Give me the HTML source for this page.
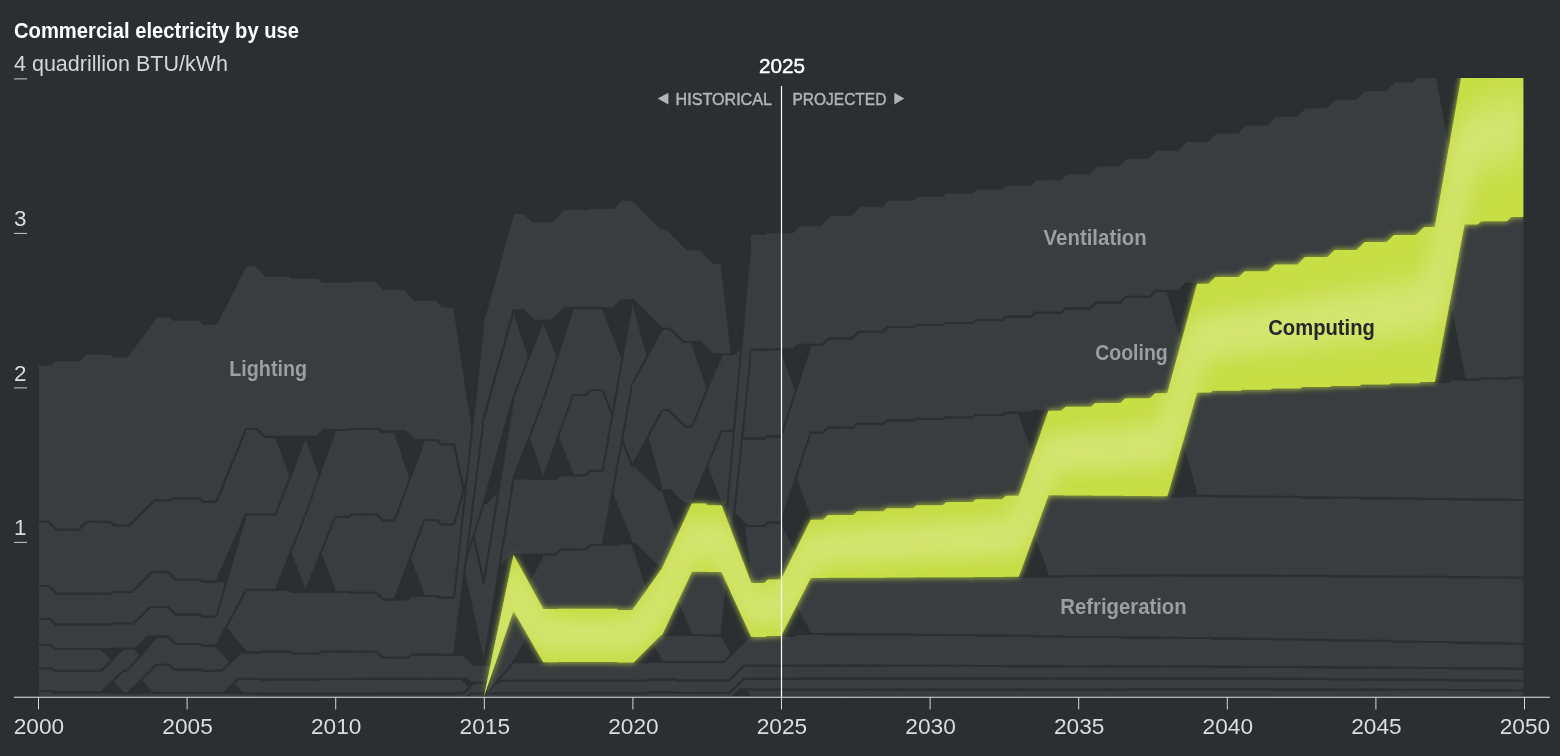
<!DOCTYPE html>
<html><head><meta charset="utf-8"><title>Commercial electricity by use</title>
<style>html,body{margin:0;padding:0;background:#2b2f32;overflow:hidden}svg text{font-kerning:normal}</style></head>
<body>
<svg width="1560" height="756" viewBox="0 0 1560 756" style="display:block">
<defs>
<clipPath id="cp"><rect x="38.8" y="78" width="1484.5" height="756"/></clipPath>
<filter id="glow" x="-5%" y="-5%" width="110%" height="110%"><feGaussianBlur stdDeviation="3"/></filter>
<filter id="soft" x="-5%" y="-10%" width="110%" height="120%"><feGaussianBlur stdDeviation="10"/></filter>
</defs>
<rect width="1560" height="756" fill="#2b2f32"/>
<g clip-path="url(#cp)">
<polygon points="38.00,691.00 52.21,691.00 53.51,692.30 67.72,692.30 68.32,692.30 68.32,697.00 67.72,697.00 38.00,697.00" fill="#393d40" shape-rendering="crispEdges"/>
<polyline points="38.00,691.00 52.21,691.00 53.51,692.30 67.72,692.30" fill="none" stroke="#2b2f32" stroke-width="2.15"/>
<polyline points="38.00,697.00 67.72,697.00" fill="none" stroke="#2b2f32" stroke-width="2.15"/>
<polygon points="38.00,668.20 51.61,668.20 54.11,670.70 67.72,670.70 68.32,670.70 68.32,692.30 67.72,692.30 53.51,692.30 52.21,691.00 38.00,691.00" fill="#393d40" shape-rendering="crispEdges"/>
<polyline points="38.00,668.20 51.61,668.20 54.11,670.70 67.72,670.70" fill="none" stroke="#2b2f32" stroke-width="2.15"/>
<polyline points="38.00,691.00 52.21,691.00 53.51,692.30 67.72,692.30" fill="none" stroke="#2b2f32" stroke-width="2.15"/>
<polygon points="38.00,644.80 50.76,644.80 54.96,649.00 67.72,649.00 68.32,649.00 68.32,670.70 67.72,670.70 54.11,670.70 51.61,668.20 38.00,668.20" fill="#393d40" shape-rendering="crispEdges"/>
<polyline points="38.00,644.80 50.76,644.80 54.96,649.00 67.72,649.00" fill="none" stroke="#2b2f32" stroke-width="2.15"/>
<polyline points="38.00,668.20 51.61,668.20 54.11,670.70 67.72,670.70" fill="none" stroke="#2b2f32" stroke-width="2.15"/>
<polygon points="38.00,618.70 50.06,618.70 55.66,624.30 67.72,624.30 68.32,624.30 68.32,649.00 67.72,649.00 54.96,649.00 50.76,644.80 38.00,644.80" fill="#393d40" shape-rendering="crispEdges"/>
<polyline points="38.00,618.70 50.06,618.70 55.66,624.30 67.72,624.30" fill="none" stroke="#2b2f32" stroke-width="2.15"/>
<polyline points="38.00,644.80 50.76,644.80 54.96,649.00 67.72,649.00" fill="none" stroke="#2b2f32" stroke-width="2.15"/>
<polygon points="38.00,586.00 49.11,586.00 56.61,593.50 67.72,593.50 68.32,593.50 68.32,624.30 67.72,624.30 55.66,624.30 50.06,618.70 38.00,618.70" fill="#393d40" shape-rendering="crispEdges"/>
<polyline points="38.00,586.00 49.11,586.00 56.61,593.50 67.72,593.50" fill="none" stroke="#2b2f32" stroke-width="2.15"/>
<polyline points="38.00,618.70 50.06,618.70 55.66,624.30 67.72,624.30" fill="none" stroke="#2b2f32" stroke-width="2.15"/>
<polygon points="38.00,521.75 48.86,521.75 56.86,529.75 67.72,529.75 68.32,529.75 68.32,593.50 67.72,593.50 56.61,593.50 49.11,586.00 38.00,586.00" fill="#393d40" shape-rendering="crispEdges"/>
<polyline points="38.00,521.75 48.86,521.75 56.86,529.75 67.72,529.75" fill="none" stroke="#2b2f32" stroke-width="2.15"/>
<polyline points="38.00,586.00 49.11,586.00 56.61,593.50 67.72,593.50" fill="none" stroke="#2b2f32" stroke-width="2.15"/>
<polygon points="38.00,364.55 50.61,364.55 55.11,360.05 67.72,360.05 68.32,360.05 68.32,529.75 67.72,529.75 56.86,529.75 48.86,521.75 38.00,521.75" fill="#393d40" shape-rendering="crispEdges"/>
<polyline points="38.00,364.55 50.61,364.55 55.11,360.05 67.72,360.05" fill="none" stroke="#2b2f32" stroke-width="2.15"/>
<polyline points="38.00,521.75 48.86,521.75 56.86,529.75 67.72,529.75" fill="none" stroke="#2b2f32" stroke-width="2.15"/>
<polygon points="67.72,692.30 97.44,692.30 98.04,692.30 98.04,697.00 97.44,697.00 67.72,697.00" fill="#393d40" shape-rendering="crispEdges"/>
<polyline points="67.72,692.30 97.44,692.30" fill="none" stroke="#2b2f32" stroke-width="2.15"/>
<polyline points="67.72,697.00 97.44,697.00" fill="none" stroke="#2b2f32" stroke-width="2.15"/>
<polygon points="67.72,670.70 97.44,670.70 98.04,670.70 98.04,692.30 97.44,692.30 67.72,692.30" fill="#393d40" shape-rendering="crispEdges"/>
<polyline points="67.72,670.70 97.44,670.70" fill="none" stroke="#2b2f32" stroke-width="2.15"/>
<polyline points="67.72,692.30 97.44,692.30" fill="none" stroke="#2b2f32" stroke-width="2.15"/>
<polygon points="67.72,649.00 97.44,649.00 98.04,649.00 98.04,670.70 97.44,670.70 67.72,670.70" fill="#393d40" shape-rendering="crispEdges"/>
<polyline points="67.72,649.00 97.44,649.00" fill="none" stroke="#2b2f32" stroke-width="2.15"/>
<polyline points="67.72,670.70 97.44,670.70" fill="none" stroke="#2b2f32" stroke-width="2.15"/>
<polygon points="67.72,624.30 97.44,624.30 98.04,624.30 98.04,649.00 97.44,649.00 67.72,649.00" fill="#393d40" shape-rendering="crispEdges"/>
<polyline points="67.72,624.30 97.44,624.30" fill="none" stroke="#2b2f32" stroke-width="2.15"/>
<polyline points="67.72,649.00 97.44,649.00" fill="none" stroke="#2b2f32" stroke-width="2.15"/>
<polygon points="67.72,593.50 97.44,593.50 98.04,593.50 98.04,624.30 97.44,624.30 67.72,624.30" fill="#393d40" shape-rendering="crispEdges"/>
<polyline points="67.72,593.50 97.44,593.50" fill="none" stroke="#2b2f32" stroke-width="2.15"/>
<polyline points="67.72,624.30 97.44,624.30" fill="none" stroke="#2b2f32" stroke-width="2.15"/>
<polygon points="67.72,529.75 78.58,529.75 86.58,521.75 97.44,521.75 98.04,521.75 98.04,593.50 97.44,593.50 67.72,593.50" fill="#393d40" shape-rendering="crispEdges"/>
<polyline points="67.72,529.75 78.58,529.75 86.58,521.75 97.44,521.75" fill="none" stroke="#2b2f32" stroke-width="2.15"/>
<polyline points="67.72,593.50 97.44,593.50" fill="none" stroke="#2b2f32" stroke-width="2.15"/>
<polygon points="67.72,360.05 79.45,360.05 85.70,353.80 97.44,353.80 98.04,353.80 98.04,521.75 97.44,521.75 86.58,521.75 78.58,529.75 67.72,529.75" fill="#393d40" shape-rendering="crispEdges"/>
<polyline points="67.72,360.05 79.45,360.05 85.70,353.80 97.44,353.80" fill="none" stroke="#2b2f32" stroke-width="2.15"/>
<polyline points="67.72,529.75 78.58,529.75 86.58,521.75 97.44,521.75" fill="none" stroke="#2b2f32" stroke-width="2.15"/>
<polygon points="97.44,692.30 111.85,692.30 112.75,693.20 127.16,693.20 127.76,693.20 127.76,697.00 127.16,697.00 97.44,697.00" fill="#393d40" shape-rendering="crispEdges"/>
<polyline points="97.44,692.30 111.85,692.30 112.75,693.20 127.16,693.20" fill="none" stroke="#2b2f32" stroke-width="2.15"/>
<polyline points="97.44,697.00 127.16,697.00" fill="none" stroke="#2b2f32" stroke-width="2.15"/>
<polygon points="97.44,649.00 101.45,649.00 123.15,670.70 127.16,670.70 127.76,670.70 127.76,693.20 127.16,693.20 123.55,693.20 101.05,670.70 97.44,670.70" fill="#393d40" shape-rendering="crispEdges"/>
<polyline points="97.44,649.00 101.45,649.00 123.15,670.70 127.16,670.70" fill="none" stroke="#2b2f32" stroke-width="2.15"/>
<polyline points="97.44,670.70 101.05,670.70 123.55,693.20 127.16,693.20" fill="none" stroke="#2b2f32" stroke-width="2.15"/>
<polygon points="97.44,670.70 101.20,670.70 123.40,648.50 127.16,648.50 127.76,648.50 127.76,670.70 127.16,670.70 123.10,670.70 101.50,692.30 97.44,692.30" fill="#393d40" shape-rendering="crispEdges"/>
<polyline points="97.44,670.70 101.20,670.70 123.40,648.50 127.16,648.50" fill="none" stroke="#2b2f32" stroke-width="2.15"/>
<polyline points="97.44,692.30 101.50,692.30 123.10,670.70 127.16,670.70" fill="none" stroke="#2b2f32" stroke-width="2.15"/>
<polygon points="97.44,624.30 111.75,624.30 112.85,623.20 127.16,623.20 127.76,623.20 127.76,648.50 127.16,648.50 112.55,648.50 112.05,649.00 97.44,649.00" fill="#393d40" shape-rendering="crispEdges"/>
<polyline points="97.44,624.30 111.75,624.30 112.85,623.20 127.16,623.20" fill="none" stroke="#2b2f32" stroke-width="2.15"/>
<polyline points="97.44,649.00 112.05,649.00 112.55,648.50 127.16,648.50" fill="none" stroke="#2b2f32" stroke-width="2.15"/>
<polygon points="97.44,593.50 111.55,593.50 113.05,592.00 127.16,592.00 127.76,592.00 127.76,623.20 127.16,623.20 112.85,623.20 111.75,624.30 97.44,624.30" fill="#393d40" shape-rendering="crispEdges"/>
<polyline points="97.44,593.50 111.55,593.50 113.05,592.00 127.16,592.00" fill="none" stroke="#2b2f32" stroke-width="2.15"/>
<polyline points="97.44,624.30 111.75,624.30 112.85,623.20 127.16,623.20" fill="none" stroke="#2b2f32" stroke-width="2.15"/>
<polygon points="97.44,521.75 110.55,521.75 114.05,525.25 127.16,525.25 127.76,525.25 127.76,592.00 127.16,592.00 113.05,592.00 111.55,593.50 97.44,593.50" fill="#393d40" shape-rendering="crispEdges"/>
<polyline points="97.44,521.75 110.55,521.75 114.05,525.25 127.16,525.25" fill="none" stroke="#2b2f32" stroke-width="2.15"/>
<polyline points="97.44,593.50 111.55,593.50 113.05,592.00 127.16,592.00" fill="none" stroke="#2b2f32" stroke-width="2.15"/>
<polygon points="97.44,353.80 111.05,353.80 113.55,356.30 127.16,356.30 127.76,356.30 127.76,525.25 127.16,525.25 114.05,525.25 110.55,521.75 97.44,521.75" fill="#393d40" shape-rendering="crispEdges"/>
<polyline points="97.44,353.80 111.05,353.80 113.55,356.30 127.16,356.30" fill="none" stroke="#2b2f32" stroke-width="2.15"/>
<polyline points="97.44,521.75 110.55,521.75 114.05,525.25 127.16,525.25" fill="none" stroke="#2b2f32" stroke-width="2.15"/>
<polygon points="127.16,693.20 141.77,693.20 142.27,692.70 156.88,692.70 157.48,692.70 157.48,697.00 156.88,697.00 127.16,697.00" fill="#393d40" shape-rendering="crispEdges"/>
<polyline points="127.16,693.20 141.77,693.20 142.27,692.70 156.88,692.70" fill="none" stroke="#2b2f32" stroke-width="2.15"/>
<polyline points="127.16,697.00 156.88,697.00" fill="none" stroke="#2b2f32" stroke-width="2.15"/>
<polygon points="127.16,648.50 133.92,648.50 150.12,664.70 156.88,664.70 157.48,664.70 157.48,692.70 156.88,692.70 153.02,692.70 131.02,670.70 127.16,670.70" fill="#393d40" shape-rendering="crispEdges"/>
<polyline points="127.16,648.50 133.92,648.50 150.12,664.70 156.88,664.70" fill="none" stroke="#2b2f32" stroke-width="2.15"/>
<polyline points="127.16,670.70 131.02,670.70 153.02,692.70 156.88,692.70" fill="none" stroke="#2b2f32" stroke-width="2.15"/>
<polygon points="127.16,670.70 127.16,670.70 156.88,636.50 156.88,636.50 157.48,636.50 157.48,664.70 156.88,664.70 156.27,664.70 127.77,693.20 127.16,693.20" fill="#393d40" shape-rendering="crispEdges"/>
<polyline points="127.16,670.70 127.16,670.70 156.88,636.50 156.88,636.50" fill="none" stroke="#2b2f32" stroke-width="2.15"/>
<polyline points="127.16,693.20 127.77,693.20 156.27,664.70 156.88,664.70" fill="none" stroke="#2b2f32" stroke-width="2.15"/>
<polygon points="127.16,623.20 133.92,623.20 150.12,607.00 156.88,607.00 157.48,607.00 157.48,636.50 156.88,636.50 148.02,636.50 136.02,648.50 127.16,648.50" fill="#393d40" shape-rendering="crispEdges"/>
<polyline points="127.16,623.20 133.92,623.20 150.12,607.00 156.88,607.00" fill="none" stroke="#2b2f32" stroke-width="2.15"/>
<polyline points="127.16,648.50 136.02,648.50 148.02,636.50 156.88,636.50" fill="none" stroke="#2b2f32" stroke-width="2.15"/>
<polygon points="127.16,592.00 131.89,592.00 152.14,571.75 156.88,571.75 157.48,571.75 157.48,607.00 156.88,607.00 150.12,607.00 133.92,623.20 127.16,623.20" fill="#393d40" shape-rendering="crispEdges"/>
<polyline points="127.16,592.00 131.89,592.00 152.14,571.75 156.88,571.75" fill="none" stroke="#2b2f32" stroke-width="2.15"/>
<polyline points="127.16,623.20 133.92,623.20 150.12,607.00 156.88,607.00" fill="none" stroke="#2b2f32" stroke-width="2.15"/>
<polygon points="127.16,525.25 129.52,525.25 154.52,500.25 156.88,500.25 157.48,500.25 157.48,571.75 156.88,571.75 152.14,571.75 131.89,592.00 127.16,592.00" fill="#393d40" shape-rendering="crispEdges"/>
<polyline points="127.16,525.25 129.52,525.25 154.52,500.25 156.88,500.25" fill="none" stroke="#2b2f32" stroke-width="2.15"/>
<polyline points="127.16,592.00 131.89,592.00 152.14,571.75 156.88,571.75" fill="none" stroke="#2b2f32" stroke-width="2.15"/>
<polygon points="127.16,356.30 127.16,356.30 156.88,316.30 156.88,316.30 157.48,316.30 157.48,500.25 156.88,500.25 154.52,500.25 129.52,525.25 127.16,525.25" fill="#393d40" shape-rendering="crispEdges"/>
<polyline points="127.16,356.30 127.16,356.30 156.88,316.30 156.88,316.30" fill="none" stroke="#2b2f32" stroke-width="2.15"/>
<polyline points="127.16,525.25 129.52,525.25 154.52,500.25 156.88,500.25" fill="none" stroke="#2b2f32" stroke-width="2.15"/>
<polygon points="156.88,692.70 186.60,692.70 187.20,692.70 187.20,697.00 186.60,697.00 156.88,697.00" fill="#393d40" shape-rendering="crispEdges"/>
<polyline points="156.88,692.70 186.60,692.70" fill="none" stroke="#2b2f32" stroke-width="2.15"/>
<polyline points="156.88,697.00 186.60,697.00" fill="none" stroke="#2b2f32" stroke-width="2.15"/>
<polygon points="156.88,664.70 169.44,664.70 174.04,669.30 186.60,669.30 187.20,669.30 187.20,692.70 186.60,692.70 156.88,692.70" fill="#393d40" shape-rendering="crispEdges"/>
<polyline points="156.88,664.70 169.44,664.70 174.04,669.30 186.60,669.30" fill="none" stroke="#2b2f32" stroke-width="2.15"/>
<polyline points="156.88,692.70 186.60,692.70" fill="none" stroke="#2b2f32" stroke-width="2.15"/>
<polygon points="156.88,636.50 167.99,636.50 175.49,644.00 186.60,644.00 187.20,644.00 187.20,669.30 186.60,669.30 174.04,669.30 169.44,664.70 156.88,664.70" fill="#393d40" shape-rendering="crispEdges"/>
<polyline points="156.88,636.50 167.99,636.50 175.49,644.00 186.60,644.00" fill="none" stroke="#2b2f32" stroke-width="2.15"/>
<polyline points="156.88,664.70 169.44,664.70 174.04,669.30 186.60,669.30" fill="none" stroke="#2b2f32" stroke-width="2.15"/>
<polygon points="156.88,607.00 167.99,607.00 175.49,614.50 186.60,614.50 187.20,614.50 187.20,644.00 186.60,644.00 175.49,644.00 167.99,636.50 156.88,636.50" fill="#393d40" shape-rendering="crispEdges"/>
<polyline points="156.88,607.00 167.99,607.00 175.49,614.50 186.60,614.50" fill="none" stroke="#2b2f32" stroke-width="2.15"/>
<polyline points="156.88,636.50 167.99,636.50 175.49,644.00 186.60,644.00" fill="none" stroke="#2b2f32" stroke-width="2.15"/>
<polygon points="156.88,571.75 167.72,571.75 175.76,579.80 186.60,579.80 187.20,579.80 187.20,614.50 186.60,614.50 175.49,614.50 167.99,607.00 156.88,607.00" fill="#393d40" shape-rendering="crispEdges"/>
<polyline points="156.88,571.75 167.72,571.75 175.76,579.80 186.60,579.80" fill="none" stroke="#2b2f32" stroke-width="2.15"/>
<polyline points="156.88,607.00 167.99,607.00 175.49,614.50 186.60,614.50" fill="none" stroke="#2b2f32" stroke-width="2.15"/>
<polygon points="156.88,500.25 170.87,500.25 172.62,498.50 186.60,498.50 187.20,498.50 187.20,579.80 186.60,579.80 175.76,579.80 167.72,571.75 156.88,571.75" fill="#393d40" shape-rendering="crispEdges"/>
<polyline points="156.88,500.25 170.87,500.25 172.62,498.50 186.60,498.50" fill="none" stroke="#2b2f32" stroke-width="2.15"/>
<polyline points="156.88,571.75 167.72,571.75 175.76,579.80 186.60,579.80" fill="none" stroke="#2b2f32" stroke-width="2.15"/>
<polygon points="156.88,316.30 170.12,316.30 173.37,319.55 186.60,319.55 187.20,319.55 187.20,498.50 186.60,498.50 172.62,498.50 170.87,500.25 156.88,500.25" fill="#393d40" shape-rendering="crispEdges"/>
<polyline points="156.88,316.30 170.12,316.30 173.37,319.55 186.60,319.55" fill="none" stroke="#2b2f32" stroke-width="2.15"/>
<polyline points="156.88,500.25 170.87,500.25 172.62,498.50 186.60,498.50" fill="none" stroke="#2b2f32" stroke-width="2.15"/>
<polygon points="186.60,692.70 216.32,692.70 216.92,692.70 216.92,697.00 216.32,697.00 186.60,697.00" fill="#393d40" shape-rendering="crispEdges"/>
<polyline points="186.60,692.70 216.32,692.70" fill="none" stroke="#2b2f32" stroke-width="2.15"/>
<polyline points="186.60,697.00 216.32,697.00" fill="none" stroke="#2b2f32" stroke-width="2.15"/>
<polygon points="186.60,669.30 200.76,669.30 202.16,670.70 216.32,670.70 216.92,670.70 216.92,692.70 216.32,692.70 186.60,692.70" fill="#393d40" shape-rendering="crispEdges"/>
<polyline points="186.60,669.30 200.76,669.30 202.16,670.70 216.32,670.70" fill="none" stroke="#2b2f32" stroke-width="2.15"/>
<polyline points="186.60,692.70 216.32,692.70" fill="none" stroke="#2b2f32" stroke-width="2.15"/>
<polygon points="186.60,644.00 200.61,644.00 202.31,645.70 216.32,645.70 216.92,645.70 216.92,670.70 216.32,670.70 202.16,670.70 200.76,669.30 186.60,669.30" fill="#393d40" shape-rendering="crispEdges"/>
<polyline points="186.60,644.00 200.61,644.00 202.31,645.70 216.32,645.70" fill="none" stroke="#2b2f32" stroke-width="2.15"/>
<polyline points="186.60,669.30 200.76,669.30 202.16,670.70 216.32,670.70" fill="none" stroke="#2b2f32" stroke-width="2.15"/>
<polygon points="186.60,614.50 200.46,614.50 202.46,616.50 216.32,616.50 216.92,616.50 216.92,645.70 216.32,645.70 202.31,645.70 200.61,644.00 186.60,644.00" fill="#393d40" shape-rendering="crispEdges"/>
<polyline points="186.60,614.50 200.46,614.50 202.46,616.50 216.32,616.50" fill="none" stroke="#2b2f32" stroke-width="2.15"/>
<polyline points="186.60,644.00 200.61,644.00 202.31,645.70 216.32,645.70" fill="none" stroke="#2b2f32" stroke-width="2.15"/>
<polygon points="186.60,579.80 200.61,579.80 202.31,581.50 216.32,581.50 216.92,581.50 216.92,616.50 216.32,616.50 202.46,616.50 200.46,614.50 186.60,614.50" fill="#393d40" shape-rendering="crispEdges"/>
<polyline points="186.60,579.80 200.61,579.80 202.31,581.50 216.32,581.50" fill="none" stroke="#2b2f32" stroke-width="2.15"/>
<polyline points="186.60,614.50 200.46,614.50 202.46,616.50 216.32,616.50" fill="none" stroke="#2b2f32" stroke-width="2.15"/>
<polygon points="186.60,498.50 199.83,498.50 203.08,501.75 216.32,501.75 216.92,501.75 216.92,581.50 216.32,581.50 202.31,581.50 200.61,579.80 186.60,579.80" fill="#393d40" shape-rendering="crispEdges"/>
<polyline points="186.60,498.50 199.83,498.50 203.08,501.75 216.32,501.75" fill="none" stroke="#2b2f32" stroke-width="2.15"/>
<polyline points="186.60,579.80 200.61,579.80 202.31,581.50 216.32,581.50" fill="none" stroke="#2b2f32" stroke-width="2.15"/>
<polygon points="186.60,319.55 199.33,319.55 203.58,323.80 216.32,323.80 216.92,323.80 216.92,501.75 216.32,501.75 203.08,501.75 199.83,498.50 186.60,498.50" fill="#393d40" shape-rendering="crispEdges"/>
<polyline points="186.60,319.55 199.33,319.55 203.58,323.80 216.32,323.80" fill="none" stroke="#2b2f32" stroke-width="2.15"/>
<polyline points="186.60,498.50 199.83,498.50 203.08,501.75 216.32,501.75" fill="none" stroke="#2b2f32" stroke-width="2.15"/>
<polygon points="216.32,692.70 230.93,692.70 231.43,693.20 246.04,693.20 246.64,693.20 246.64,697.00 246.04,697.00 216.32,697.00" fill="#393d40" shape-rendering="crispEdges"/>
<polyline points="216.32,692.70 230.93,692.70 231.43,693.20 246.04,693.20" fill="none" stroke="#2b2f32" stroke-width="2.15"/>
<polyline points="216.32,697.00 246.04,697.00" fill="none" stroke="#2b2f32" stroke-width="2.15"/>
<polygon points="216.32,645.70 216.32,645.70 246.04,678.70 246.04,678.70 246.64,678.70 246.64,693.20 246.04,693.20 242.43,693.20 219.93,670.70 216.32,670.70" fill="#393d40" shape-rendering="crispEdges"/>
<polyline points="216.32,645.70 216.32,645.70 246.04,678.70 246.04,678.70" fill="none" stroke="#2b2f32" stroke-width="2.15"/>
<polyline points="216.32,670.70 219.93,670.70 242.43,693.20 246.04,693.20" fill="none" stroke="#2b2f32" stroke-width="2.15"/>
<polygon points="216.32,670.70 221.98,670.70 240.38,652.30 246.04,652.30 246.64,652.30 246.64,678.70 246.04,678.70 238.18,678.70 224.18,692.70 216.32,692.70" fill="#393d40" shape-rendering="crispEdges"/>
<polyline points="216.32,670.70 221.98,670.70 240.38,652.30 246.04,652.30" fill="none" stroke="#2b2f32" stroke-width="2.15"/>
<polyline points="216.32,692.70 224.18,692.70 238.18,678.70 246.04,678.70" fill="none" stroke="#2b2f32" stroke-width="2.15"/>
<polygon points="216.32,581.50 227.03,581.50 235.33,589.80 246.04,589.80 246.64,589.80 246.64,652.30 246.04,652.30 246.04,652.30 216.32,616.50 216.32,616.50" fill="#393d40" shape-rendering="crispEdges"/>
<polyline points="216.32,581.50 227.03,581.50 235.33,589.80 246.04,589.80" fill="none" stroke="#2b2f32" stroke-width="2.15"/>
<polyline points="216.32,616.50 216.32,616.50 246.04,652.30 246.04,652.30" fill="none" stroke="#2b2f32" stroke-width="2.15"/>
<polygon points="216.32,616.50 216.32,616.50 246.04,514.25 246.04,514.25 246.64,514.25 246.64,589.80 246.04,589.80 246.04,589.80 216.32,645.70 216.32,645.70" fill="#393d40" shape-rendering="crispEdges"/>
<polyline points="216.32,616.50 216.32,616.50 246.04,514.25 246.04,514.25" fill="none" stroke="#2b2f32" stroke-width="2.15"/>
<polyline points="216.32,645.70 216.32,645.70 246.04,589.80 246.04,589.80" fill="none" stroke="#2b2f32" stroke-width="2.15"/>
<polygon points="216.32,501.75 216.32,501.75 246.04,429.00 246.04,429.00 246.64,429.00 246.64,514.25 246.04,514.25 246.04,514.25 216.32,581.50 216.32,581.50" fill="#393d40" shape-rendering="crispEdges"/>
<polyline points="216.32,501.75 216.32,501.75 246.04,429.00 246.04,429.00" fill="none" stroke="#2b2f32" stroke-width="2.15"/>
<polyline points="216.32,581.50 216.32,581.50 246.04,514.25 246.04,514.25" fill="none" stroke="#2b2f32" stroke-width="2.15"/>
<polygon points="216.32,323.80 216.32,323.80 246.04,265.05 246.04,265.05 246.64,265.05 246.64,429.00 246.04,429.00 246.04,429.00 216.32,501.75 216.32,501.75" fill="#393d40" shape-rendering="crispEdges"/>
<polyline points="216.32,323.80 216.32,323.80 246.04,265.05 246.04,265.05" fill="none" stroke="#2b2f32" stroke-width="2.15"/>
<polyline points="216.32,501.75 216.32,501.75 246.04,429.00 246.04,429.00" fill="none" stroke="#2b2f32" stroke-width="2.15"/>
<polygon points="246.04,693.20 260.65,693.20 261.15,693.70 275.76,693.70 276.36,693.70 276.36,697.00 275.76,697.00 246.04,697.00" fill="#393d40" shape-rendering="crispEdges"/>
<polyline points="246.04,693.20 260.65,693.20 261.15,693.70 275.76,693.70" fill="none" stroke="#2b2f32" stroke-width="2.15"/>
<polyline points="246.04,697.00 275.76,697.00" fill="none" stroke="#2b2f32" stroke-width="2.15"/>
<polygon points="246.04,678.70 260.60,678.70 261.20,679.30 275.76,679.30 276.36,679.30 276.36,693.70 275.76,693.70 261.15,693.70 260.65,693.20 246.04,693.20" fill="#393d40" shape-rendering="crispEdges"/>
<polyline points="246.04,678.70 260.60,678.70 261.20,679.30 275.76,679.30" fill="none" stroke="#2b2f32" stroke-width="2.15"/>
<polyline points="246.04,693.20 260.65,693.20 261.15,693.70 275.76,693.70" fill="none" stroke="#2b2f32" stroke-width="2.15"/>
<polygon points="246.04,652.30 260.50,652.30 261.30,651.50 275.76,651.50 276.36,651.50 276.36,679.30 275.76,679.30 261.20,679.30 260.60,678.70 246.04,678.70" fill="#393d40" shape-rendering="crispEdges"/>
<polyline points="246.04,652.30 260.50,652.30 261.30,651.50 275.76,651.50" fill="none" stroke="#2b2f32" stroke-width="2.15"/>
<polyline points="246.04,678.70 260.60,678.70 261.20,679.30 275.76,679.30" fill="none" stroke="#2b2f32" stroke-width="2.15"/>
<polygon points="246.04,589.80 275.76,589.80 276.36,589.80 276.36,651.50 275.76,651.50 261.30,651.50 260.50,652.30 246.04,652.30" fill="#393d40" shape-rendering="crispEdges"/>
<polyline points="246.04,589.80 275.76,589.80" fill="none" stroke="#2b2f32" stroke-width="2.15"/>
<polyline points="246.04,652.30 260.50,652.30 261.30,651.50 275.76,651.50" fill="none" stroke="#2b2f32" stroke-width="2.15"/>
<polygon points="246.04,514.25 260.88,514.25 260.92,514.20 275.76,514.20 276.36,514.20 276.36,589.80 275.76,589.80 246.04,589.80" fill="#393d40" shape-rendering="crispEdges"/>
<polyline points="246.04,514.25 260.88,514.25 260.92,514.20 275.76,514.20" fill="none" stroke="#2b2f32" stroke-width="2.15"/>
<polyline points="246.04,589.80 275.76,589.80" fill="none" stroke="#2b2f32" stroke-width="2.15"/>
<polygon points="246.04,429.00 257.05,429.00 264.75,436.70 275.76,436.70 276.36,436.70 276.36,514.20 275.76,514.20 260.92,514.20 260.88,514.25 246.04,514.25" fill="#393d40" shape-rendering="crispEdges"/>
<polyline points="246.04,429.00 257.05,429.00 264.75,436.70 275.76,436.70" fill="none" stroke="#2b2f32" stroke-width="2.15"/>
<polyline points="246.04,514.25 260.88,514.25 260.92,514.20 275.76,514.20" fill="none" stroke="#2b2f32" stroke-width="2.15"/>
<polygon points="246.04,265.05 255.52,265.05 266.27,275.80 275.76,275.80 276.36,275.80 276.36,436.70 275.76,436.70 264.75,436.70 257.05,429.00 246.04,429.00" fill="#393d40" shape-rendering="crispEdges"/>
<polyline points="246.04,265.05 255.52,265.05 266.27,275.80 275.76,275.80" fill="none" stroke="#2b2f32" stroke-width="2.15"/>
<polyline points="246.04,429.00 257.05,429.00 264.75,436.70 275.76,436.70" fill="none" stroke="#2b2f32" stroke-width="2.15"/>
<polygon points="275.76,693.70 305.48,693.70 306.08,693.70 306.08,697.00 305.48,697.00 275.76,697.00" fill="#393d40" shape-rendering="crispEdges"/>
<polyline points="275.76,693.70 305.48,693.70" fill="none" stroke="#2b2f32" stroke-width="2.15"/>
<polyline points="275.76,697.00 305.48,697.00" fill="none" stroke="#2b2f32" stroke-width="2.15"/>
<polygon points="275.76,679.30 305.48,679.30 306.08,679.30 306.08,693.70 305.48,693.70 275.76,693.70" fill="#393d40" shape-rendering="crispEdges"/>
<polyline points="275.76,679.30 305.48,679.30" fill="none" stroke="#2b2f32" stroke-width="2.15"/>
<polyline points="275.76,693.70 305.48,693.70" fill="none" stroke="#2b2f32" stroke-width="2.15"/>
<polygon points="275.76,651.50 289.77,651.50 291.47,653.20 305.48,653.20 306.08,653.20 306.08,679.30 305.48,679.30 275.76,679.30" fill="#393d40" shape-rendering="crispEdges"/>
<polyline points="275.76,651.50 289.77,651.50 291.47,653.20 305.48,653.20" fill="none" stroke="#2b2f32" stroke-width="2.15"/>
<polyline points="275.76,679.30 305.48,679.30" fill="none" stroke="#2b2f32" stroke-width="2.15"/>
<polygon points="275.76,589.80 289.52,589.80 291.72,592.00 305.48,592.00 306.08,592.00 306.08,653.20 305.48,653.20 291.47,653.20 289.77,651.50 275.76,651.50" fill="#393d40" shape-rendering="crispEdges"/>
<polyline points="275.76,589.80 289.52,589.80 291.72,592.00 305.48,592.00" fill="none" stroke="#2b2f32" stroke-width="2.15"/>
<polyline points="275.76,651.50 289.77,651.50 291.47,653.20 305.48,653.20" fill="none" stroke="#2b2f32" stroke-width="2.15"/>
<polygon points="275.76,436.70 275.76,436.70 305.48,514.70 305.48,514.70 306.08,514.70 306.08,592.00 305.48,592.00 305.48,592.00 275.76,514.20 275.76,514.20" fill="#393d40" shape-rendering="crispEdges"/>
<polyline points="275.76,436.70 275.76,436.70 305.48,514.70 305.48,514.70" fill="none" stroke="#2b2f32" stroke-width="2.15"/>
<polyline points="275.76,514.20 275.76,514.20 305.48,592.00 305.48,592.00" fill="none" stroke="#2b2f32" stroke-width="2.15"/>
<polygon points="275.76,514.20 275.76,514.20 305.48,436.70 305.48,436.70 306.08,436.70 306.08,514.70 305.48,514.70 305.48,514.70 275.76,589.80 275.76,589.80" fill="#393d40" shape-rendering="crispEdges"/>
<polyline points="275.76,514.20 275.76,514.20 305.48,436.70 305.48,436.70" fill="none" stroke="#2b2f32" stroke-width="2.15"/>
<polyline points="275.76,589.80 275.76,589.80 305.48,514.70 305.48,514.70" fill="none" stroke="#2b2f32" stroke-width="2.15"/>
<polygon points="275.76,275.80 289.75,275.80 291.50,277.55 305.48,277.55 306.08,277.55 306.08,436.70 305.48,436.70 275.76,436.70" fill="#393d40" shape-rendering="crispEdges"/>
<polyline points="275.76,275.80 289.75,275.80 291.50,277.55 305.48,277.55" fill="none" stroke="#2b2f32" stroke-width="2.15"/>
<polyline points="275.76,436.70 305.48,436.70" fill="none" stroke="#2b2f32" stroke-width="2.15"/>
<polygon points="305.48,693.70 335.20,693.70 335.80,693.70 335.80,697.00 335.20,697.00 305.48,697.00" fill="#393d40" shape-rendering="crispEdges"/>
<polyline points="305.48,693.70 335.20,693.70" fill="none" stroke="#2b2f32" stroke-width="2.15"/>
<polyline points="305.48,697.00 335.20,697.00" fill="none" stroke="#2b2f32" stroke-width="2.15"/>
<polygon points="305.48,679.30 320.19,679.30 320.49,679.00 335.20,679.00 335.80,679.00 335.80,693.70 335.20,693.70 305.48,693.70" fill="#393d40" shape-rendering="crispEdges"/>
<polyline points="305.48,679.30 320.19,679.30 320.49,679.00 335.20,679.00" fill="none" stroke="#2b2f32" stroke-width="2.15"/>
<polyline points="305.48,693.70 335.20,693.70" fill="none" stroke="#2b2f32" stroke-width="2.15"/>
<polygon points="305.48,653.20 319.49,653.20 321.19,651.50 335.20,651.50 335.80,651.50 335.80,679.00 335.20,679.00 320.49,679.00 320.19,679.30 305.48,679.30" fill="#393d40" shape-rendering="crispEdges"/>
<polyline points="305.48,653.20 319.49,653.20 321.19,651.50 335.20,651.50" fill="none" stroke="#2b2f32" stroke-width="2.15"/>
<polyline points="305.48,679.30 320.19,679.30 320.49,679.00 335.20,679.00" fill="none" stroke="#2b2f32" stroke-width="2.15"/>
<polygon points="305.48,592.00 335.20,592.00 335.80,592.00 335.80,651.50 335.20,651.50 321.19,651.50 319.49,653.20 305.48,653.20" fill="#393d40" shape-rendering="crispEdges"/>
<polyline points="305.48,592.00 335.20,592.00" fill="none" stroke="#2b2f32" stroke-width="2.15"/>
<polyline points="305.48,653.20 319.49,653.20 321.19,651.50 335.20,651.50" fill="none" stroke="#2b2f32" stroke-width="2.15"/>
<polygon points="305.48,436.70 305.48,436.70 335.20,516.70 335.20,516.70 335.80,516.70 335.80,592.00 335.20,592.00 335.20,592.00 305.48,514.70 305.48,514.70" fill="#393d40" shape-rendering="crispEdges"/>
<polyline points="305.48,436.70 305.48,436.70 335.20,516.70 335.20,516.70" fill="none" stroke="#2b2f32" stroke-width="2.15"/>
<polyline points="305.48,514.70 305.48,514.70 335.20,592.00 335.20,592.00" fill="none" stroke="#2b2f32" stroke-width="2.15"/>
<polygon points="305.48,514.70 305.48,514.70 335.20,430.00 335.20,430.00 335.80,430.00 335.80,516.70 335.20,516.70 335.20,516.70 305.48,592.00 305.48,592.00" fill="#393d40" shape-rendering="crispEdges"/>
<polyline points="305.48,514.70 305.48,514.70 335.20,430.00 335.20,430.00" fill="none" stroke="#2b2f32" stroke-width="2.15"/>
<polyline points="305.48,592.00 305.48,592.00 335.20,516.70 335.20,516.70" fill="none" stroke="#2b2f32" stroke-width="2.15"/>
<polygon points="305.48,277.55 318.22,277.55 322.47,281.80 335.20,281.80 335.80,281.80 335.80,430.00 335.20,430.00 323.69,430.00 316.99,436.70 305.48,436.70" fill="#393d40" shape-rendering="crispEdges"/>
<polyline points="305.48,277.55 318.22,277.55 322.47,281.80 335.20,281.80" fill="none" stroke="#2b2f32" stroke-width="2.15"/>
<polyline points="305.48,436.70 316.99,436.70 323.69,430.00 335.20,430.00" fill="none" stroke="#2b2f32" stroke-width="2.15"/>
<polygon points="335.20,693.70 364.92,693.70 365.52,693.70 365.52,697.00 364.92,697.00 335.20,697.00" fill="#393d40" shape-rendering="crispEdges"/>
<polyline points="335.20,693.70 364.92,693.70" fill="none" stroke="#2b2f32" stroke-width="2.15"/>
<polyline points="335.20,697.00 364.92,697.00" fill="none" stroke="#2b2f32" stroke-width="2.15"/>
<polygon points="335.20,679.00 349.91,679.00 350.21,678.70 364.92,678.70 365.52,678.70 365.52,693.70 364.92,693.70 335.20,693.70" fill="#393d40" shape-rendering="crispEdges"/>
<polyline points="335.20,679.00 349.91,679.00 350.21,678.70 364.92,678.70" fill="none" stroke="#2b2f32" stroke-width="2.15"/>
<polyline points="335.20,693.70 364.92,693.70" fill="none" stroke="#2b2f32" stroke-width="2.15"/>
<polygon points="335.20,651.50 349.91,651.50 350.21,651.80 364.92,651.80 365.52,651.80 365.52,678.70 364.92,678.70 350.21,678.70 349.91,679.00 335.20,679.00" fill="#393d40" shape-rendering="crispEdges"/>
<polyline points="335.20,651.50 349.91,651.50 350.21,651.80 364.92,651.80" fill="none" stroke="#2b2f32" stroke-width="2.15"/>
<polyline points="335.20,679.00 349.91,679.00 350.21,678.70 364.92,678.70" fill="none" stroke="#2b2f32" stroke-width="2.15"/>
<polygon points="335.20,592.00 349.71,592.00 350.41,592.70 364.92,592.70 365.52,592.70 365.52,651.80 364.92,651.80 350.21,651.80 349.91,651.50 335.20,651.50" fill="#393d40" shape-rendering="crispEdges"/>
<polyline points="335.20,592.00 349.71,592.00 350.41,592.70 364.92,592.70" fill="none" stroke="#2b2f32" stroke-width="2.15"/>
<polyline points="335.20,651.50 349.91,651.50 350.21,651.80 364.92,651.80" fill="none" stroke="#2b2f32" stroke-width="2.15"/>
<polygon points="335.20,516.70 348.81,516.70 351.31,514.20 364.92,514.20 365.52,514.20 365.52,592.70 364.92,592.70 350.41,592.70 349.71,592.00 335.20,592.00" fill="#393d40" shape-rendering="crispEdges"/>
<polyline points="335.20,516.70 348.81,516.70 351.31,514.20 364.92,514.20" fill="none" stroke="#2b2f32" stroke-width="2.15"/>
<polyline points="335.20,592.00 349.71,592.00 350.41,592.70 364.92,592.70" fill="none" stroke="#2b2f32" stroke-width="2.15"/>
<polygon points="335.20,430.00 349.41,430.00 350.71,428.70 364.92,428.70 365.52,428.70 365.52,514.20 364.92,514.20 351.31,514.20 348.81,516.70 335.20,516.70" fill="#393d40" shape-rendering="crispEdges"/>
<polyline points="335.20,430.00 349.41,430.00 350.71,428.70 364.92,428.70" fill="none" stroke="#2b2f32" stroke-width="2.15"/>
<polyline points="335.20,516.70 348.81,516.70 351.31,514.20 364.92,514.20" fill="none" stroke="#2b2f32" stroke-width="2.15"/>
<polygon points="335.20,281.80 349.56,281.80 350.56,280.80 364.92,280.80 365.52,280.80 365.52,428.70 364.92,428.70 350.71,428.70 349.41,430.00 335.20,430.00" fill="#393d40" shape-rendering="crispEdges"/>
<polyline points="335.20,281.80 349.56,281.80 350.56,280.80 364.92,280.80" fill="none" stroke="#2b2f32" stroke-width="2.15"/>
<polyline points="335.20,430.00 349.41,430.00 350.71,428.70 364.92,428.70" fill="none" stroke="#2b2f32" stroke-width="2.15"/>
<polygon points="364.92,693.70 379.58,693.70 379.98,693.30 394.64,693.30 395.24,693.30 395.24,697.00 394.64,697.00 364.92,697.00" fill="#393d40" shape-rendering="crispEdges"/>
<polyline points="364.92,693.70 379.58,693.70 379.98,693.30 394.64,693.30" fill="none" stroke="#2b2f32" stroke-width="2.15"/>
<polyline points="364.92,697.00 394.64,697.00" fill="none" stroke="#2b2f32" stroke-width="2.15"/>
<polygon points="364.92,678.70 394.64,678.70 395.24,678.70 395.24,693.30 394.64,693.30 379.98,693.30 379.58,693.70 364.92,693.70" fill="#393d40" shape-rendering="crispEdges"/>
<polyline points="364.92,678.70 394.64,678.70" fill="none" stroke="#2b2f32" stroke-width="2.15"/>
<polyline points="364.92,693.70 379.58,693.70 379.98,693.30 394.64,693.30" fill="none" stroke="#2b2f32" stroke-width="2.15"/>
<polygon points="364.92,651.80 376.78,651.80 382.78,657.80 394.64,657.80 395.24,657.80 395.24,678.70 394.64,678.70 364.92,678.70" fill="#393d40" shape-rendering="crispEdges"/>
<polyline points="364.92,651.80 376.78,651.80 382.78,657.80 394.64,657.80" fill="none" stroke="#2b2f32" stroke-width="2.15"/>
<polyline points="364.92,678.70 394.64,678.70" fill="none" stroke="#2b2f32" stroke-width="2.15"/>
<polygon points="364.92,592.70 376.48,592.70 383.08,599.30 394.64,599.30 395.24,599.30 395.24,657.80 394.64,657.80 382.78,657.80 376.78,651.80 364.92,651.80" fill="#393d40" shape-rendering="crispEdges"/>
<polyline points="364.92,592.70 376.48,592.70 383.08,599.30 394.64,599.30" fill="none" stroke="#2b2f32" stroke-width="2.15"/>
<polyline points="364.92,651.80 376.78,651.80 382.78,657.80 394.64,657.80" fill="none" stroke="#2b2f32" stroke-width="2.15"/>
<polygon points="364.92,514.20 376.73,514.20 382.83,520.30 394.64,520.30 395.24,520.30 395.24,599.30 394.64,599.30 383.08,599.30 376.48,592.70 364.92,592.70" fill="#393d40" shape-rendering="crispEdges"/>
<polyline points="364.92,514.20 376.73,514.20 382.83,520.30 394.64,520.30" fill="none" stroke="#2b2f32" stroke-width="2.15"/>
<polyline points="364.92,592.70 376.48,592.70 383.08,599.30 394.64,599.30" fill="none" stroke="#2b2f32" stroke-width="2.15"/>
<polygon points="364.92,428.70 378.48,428.70 381.08,431.30 394.64,431.30 395.24,431.30 395.24,520.30 394.64,520.30 382.83,520.30 376.73,514.20 364.92,514.20" fill="#393d40" shape-rendering="crispEdges"/>
<polyline points="364.92,428.70 378.48,428.70 381.08,431.30 394.64,431.30" fill="none" stroke="#2b2f32" stroke-width="2.15"/>
<polyline points="364.92,514.20 376.73,514.20 382.83,520.30 394.64,520.30" fill="none" stroke="#2b2f32" stroke-width="2.15"/>
<polygon points="364.92,280.80 375.78,280.80 383.78,288.80 394.64,288.80 395.24,288.80 395.24,431.30 394.64,431.30 381.08,431.30 378.48,428.70 364.92,428.70" fill="#393d40" shape-rendering="crispEdges"/>
<polyline points="364.92,280.80 375.78,280.80 383.78,288.80 394.64,288.80" fill="none" stroke="#2b2f32" stroke-width="2.15"/>
<polyline points="364.92,428.70 378.48,428.70 381.08,431.30 394.64,431.30" fill="none" stroke="#2b2f32" stroke-width="2.15"/>
<polygon points="394.64,693.30 424.36,693.30 424.96,693.30 424.96,697.00 424.36,697.00 394.64,697.00" fill="#393d40" shape-rendering="crispEdges"/>
<polyline points="394.64,693.30 424.36,693.30" fill="none" stroke="#2b2f32" stroke-width="2.15"/>
<polyline points="394.64,697.00 424.36,697.00" fill="none" stroke="#2b2f32" stroke-width="2.15"/>
<polygon points="394.64,678.70 424.36,678.70 424.96,678.70 424.96,693.30 424.36,693.30 394.64,693.30" fill="#393d40" shape-rendering="crispEdges"/>
<polyline points="394.64,678.70 424.36,678.70" fill="none" stroke="#2b2f32" stroke-width="2.15"/>
<polyline points="394.64,693.30 424.36,693.30" fill="none" stroke="#2b2f32" stroke-width="2.15"/>
<polygon points="394.64,657.80 407.75,657.80 411.25,654.30 424.36,654.30 424.96,654.30 424.96,678.70 424.36,678.70 394.64,678.70" fill="#393d40" shape-rendering="crispEdges"/>
<polyline points="394.64,657.80 407.75,657.80 411.25,654.30 424.36,654.30" fill="none" stroke="#2b2f32" stroke-width="2.15"/>
<polyline points="394.64,678.70 424.36,678.70" fill="none" stroke="#2b2f32" stroke-width="2.15"/>
<polygon points="394.64,599.30 407.85,599.30 411.15,596.00 424.36,596.00 424.96,596.00 424.96,654.30 424.36,654.30 411.25,654.30 407.75,657.80 394.64,657.80" fill="#393d40" shape-rendering="crispEdges"/>
<polyline points="394.64,599.30 407.85,599.30 411.15,596.00 424.36,596.00" fill="none" stroke="#2b2f32" stroke-width="2.15"/>
<polyline points="394.64,657.80 407.75,657.80 411.25,654.30 424.36,654.30" fill="none" stroke="#2b2f32" stroke-width="2.15"/>
<polygon points="394.64,431.30 394.64,431.30 424.36,520.00 424.36,520.00 424.96,520.00 424.96,596.00 424.36,596.00 424.36,596.00 394.64,520.30 394.64,520.30" fill="#393d40" shape-rendering="crispEdges"/>
<polyline points="394.64,431.30 394.64,431.30 424.36,520.00 424.36,520.00" fill="none" stroke="#2b2f32" stroke-width="2.15"/>
<polyline points="394.64,520.30 394.64,520.30 424.36,596.00 424.36,596.00" fill="none" stroke="#2b2f32" stroke-width="2.15"/>
<polygon points="394.64,520.30 394.64,520.30 424.36,440.00 424.36,440.00 424.96,440.00 424.96,520.00 424.36,520.00 424.36,520.00 394.64,599.30 394.64,599.30" fill="#393d40" shape-rendering="crispEdges"/>
<polyline points="394.64,520.30 394.64,520.30 424.36,440.00 424.36,440.00" fill="none" stroke="#2b2f32" stroke-width="2.15"/>
<polyline points="394.64,599.30 394.64,599.30 424.36,520.00 424.36,520.00" fill="none" stroke="#2b2f32" stroke-width="2.15"/>
<polygon points="394.64,288.80 404.00,288.80 415.00,299.80 424.36,299.80 424.96,299.80 424.96,440.00 424.36,440.00 413.85,440.00 405.15,431.30 394.64,431.30" fill="#393d40" shape-rendering="crispEdges"/>
<polyline points="394.64,288.80 404.00,288.80 415.00,299.80 424.36,299.80" fill="none" stroke="#2b2f32" stroke-width="2.15"/>
<polyline points="394.64,431.30 405.15,431.30 413.85,440.00 424.36,440.00" fill="none" stroke="#2b2f32" stroke-width="2.15"/>
<polygon points="424.36,693.30 454.08,693.30 454.68,693.30 454.68,697.00 454.08,697.00 424.36,697.00" fill="#393d40" shape-rendering="crispEdges"/>
<polyline points="424.36,693.30 454.08,693.30" fill="none" stroke="#2b2f32" stroke-width="2.15"/>
<polyline points="424.36,697.00 454.08,697.00" fill="none" stroke="#2b2f32" stroke-width="2.15"/>
<polygon points="424.36,678.70 454.08,678.70 454.68,678.70 454.68,693.30 454.08,693.30 424.36,693.30" fill="#393d40" shape-rendering="crispEdges"/>
<polyline points="424.36,678.70 454.08,678.70" fill="none" stroke="#2b2f32" stroke-width="2.15"/>
<polyline points="424.36,693.30 454.08,693.30" fill="none" stroke="#2b2f32" stroke-width="2.15"/>
<polygon points="424.36,654.30 438.97,654.30 439.47,654.80 454.08,654.80 454.68,654.80 454.68,678.70 454.08,678.70 424.36,678.70" fill="#393d40" shape-rendering="crispEdges"/>
<polyline points="424.36,654.30 438.97,654.30 439.47,654.80 454.08,654.80" fill="none" stroke="#2b2f32" stroke-width="2.15"/>
<polyline points="424.36,678.70 454.08,678.70" fill="none" stroke="#2b2f32" stroke-width="2.15"/>
<polygon points="424.36,596.00 438.37,596.00 440.07,597.70 454.08,597.70 454.68,597.70 454.68,654.80 454.08,654.80 439.47,654.80 438.97,654.30 424.36,654.30" fill="#393d40" shape-rendering="crispEdges"/>
<polyline points="424.36,596.00 438.37,596.00 440.07,597.70 454.08,597.70" fill="none" stroke="#2b2f32" stroke-width="2.15"/>
<polyline points="424.36,654.30 438.97,654.30 439.47,654.80 454.08,654.80" fill="none" stroke="#2b2f32" stroke-width="2.15"/>
<polygon points="424.36,520.00 437.12,520.00 441.32,524.20 454.08,524.20 454.68,524.20 454.68,597.70 454.08,597.70 440.07,597.70 438.37,596.00 424.36,596.00" fill="#393d40" shape-rendering="crispEdges"/>
<polyline points="424.36,520.00 437.12,520.00 441.32,524.20 454.08,524.20" fill="none" stroke="#2b2f32" stroke-width="2.15"/>
<polyline points="424.36,596.00 438.37,596.00 440.07,597.70 454.08,597.70" fill="none" stroke="#2b2f32" stroke-width="2.15"/>
<polygon points="424.36,440.00 437.12,440.00 441.32,444.20 454.08,444.20 454.68,444.20 454.68,524.20 454.08,524.20 441.32,524.20 437.12,520.00 424.36,520.00" fill="#393d40" shape-rendering="crispEdges"/>
<polyline points="424.36,440.00 437.12,440.00 441.32,444.20 454.08,444.20" fill="none" stroke="#2b2f32" stroke-width="2.15"/>
<polyline points="424.36,520.00 437.12,520.00 441.32,524.20 454.08,524.20" fill="none" stroke="#2b2f32" stroke-width="2.15"/>
<polygon points="424.36,299.80 435.87,299.80 442.57,306.50 454.08,306.50 454.68,306.50 454.68,444.20 454.08,444.20 441.32,444.20 437.12,440.00 424.36,440.00" fill="#393d40" shape-rendering="crispEdges"/>
<polyline points="424.36,299.80 435.87,299.80 442.57,306.50 454.08,306.50" fill="none" stroke="#2b2f32" stroke-width="2.15"/>
<polyline points="424.36,440.00 437.12,440.00 441.32,444.20 454.08,444.20" fill="none" stroke="#2b2f32" stroke-width="2.15"/>
<polygon points="454.08,678.70 461.69,678.70 476.19,693.20 483.80,693.20 484.40,693.20 484.40,697.00 483.80,697.00 470.79,697.00 467.09,693.30 454.08,693.30" fill="#393d40" shape-rendering="crispEdges"/>
<polyline points="454.08,678.70 461.69,678.70 476.19,693.20 483.80,693.20" fill="none" stroke="#2b2f32" stroke-width="2.15"/>
<polyline points="454.08,693.30 467.09,693.30 470.79,697.00 483.80,697.00" fill="none" stroke="#2b2f32" stroke-width="2.15"/>
<polygon points="454.08,693.30 463.64,693.30 474.24,682.70 483.80,682.70 484.40,682.70 484.40,693.20 483.80,693.20 470.84,693.20 467.04,697.00 454.08,697.00" fill="#393d40" shape-rendering="crispEdges"/>
<polyline points="454.08,693.30 463.64,693.30 474.24,682.70 483.80,682.70" fill="none" stroke="#2b2f32" stroke-width="2.15"/>
<polyline points="454.08,697.00 467.04,697.00 470.84,693.20 483.80,693.20" fill="none" stroke="#2b2f32" stroke-width="2.15"/>
<polygon points="454.08,654.80 463.94,654.80 473.94,664.80 483.80,664.80 484.40,664.80 484.40,682.70 483.80,682.70 470.94,682.70 466.94,678.70 454.08,678.70" fill="#393d40" shape-rendering="crispEdges"/>
<polyline points="454.08,654.80 463.94,654.80 473.94,664.80 483.80,664.80" fill="none" stroke="#2b2f32" stroke-width="2.15"/>
<polyline points="454.08,678.70 466.94,678.70 470.94,682.70 483.80,682.70" fill="none" stroke="#2b2f32" stroke-width="2.15"/>
<polygon points="454.08,444.20 454.08,444.20 483.80,583.00 483.80,583.00 484.40,583.00 484.40,664.80 483.80,664.80 483.80,664.80 454.08,524.20 454.08,524.20" fill="#393d40" shape-rendering="crispEdges"/>
<polyline points="454.08,444.20 454.08,444.20 483.80,583.00 483.80,583.00" fill="none" stroke="#2b2f32" stroke-width="2.15"/>
<polyline points="454.08,524.20 454.08,524.20 483.80,664.80 483.80,664.80" fill="none" stroke="#2b2f32" stroke-width="2.15"/>
<polygon points="454.08,306.50 454.08,306.50 483.80,503.00 483.80,503.00 484.40,503.00 484.40,583.00 483.80,583.00 483.80,583.00 454.08,444.20 454.08,444.20" fill="#393d40" shape-rendering="crispEdges"/>
<polyline points="454.08,306.50 454.08,306.50 483.80,503.00 483.80,503.00" fill="none" stroke="#2b2f32" stroke-width="2.15"/>
<polyline points="454.08,444.20 454.08,444.20 483.80,583.00 483.80,583.00" fill="none" stroke="#2b2f32" stroke-width="2.15"/>
<polygon points="454.08,524.20 454.08,524.20 483.80,418.50 483.80,418.50 484.40,418.50 484.40,503.00 483.80,503.00 483.80,503.00 454.08,597.70 454.08,597.70" fill="#393d40" shape-rendering="crispEdges"/>
<polyline points="454.08,524.20 454.08,524.20 483.80,418.50 483.80,418.50" fill="none" stroke="#2b2f32" stroke-width="2.15"/>
<polyline points="454.08,597.70 454.08,597.70 483.80,503.00 483.80,503.00" fill="none" stroke="#2b2f32" stroke-width="2.15"/>
<polygon points="454.08,597.70 454.08,597.70 483.80,319.20 483.80,319.20 484.40,319.20 484.40,418.50 483.80,418.50 483.80,418.50 454.08,654.80 454.08,654.80" fill="#393d40" shape-rendering="crispEdges"/>
<polyline points="454.08,597.70 454.08,597.70 483.80,319.20 483.80,319.20" fill="none" stroke="#2b2f32" stroke-width="2.15"/>
<polyline points="454.08,654.80 454.08,654.80 483.80,418.50 483.80,418.50" fill="none" stroke="#2b2f32" stroke-width="2.15"/>
<polygon points="483.80,693.20 513.52,693.20 514.12,693.20 514.12,697.00 513.52,697.00 483.80,697.00" fill="#393d40" shape-rendering="crispEdges"/>
<polyline points="483.80,693.20 513.52,693.20" fill="none" stroke="#2b2f32" stroke-width="2.15"/>
<polyline points="483.80,697.00 513.52,697.00" fill="none" stroke="#2b2f32" stroke-width="2.15"/>
<polygon points="483.80,682.70 497.66,682.70 499.66,680.70 513.52,680.70 514.12,680.70 514.12,693.20 513.52,693.20 483.80,693.20" fill="#393d40" shape-rendering="crispEdges"/>
<polyline points="483.80,682.70 497.66,682.70 499.66,680.70 513.52,680.70" fill="none" stroke="#2b2f32" stroke-width="2.15"/>
<polyline points="483.80,693.20 513.52,693.20" fill="none" stroke="#2b2f32" stroke-width="2.15"/>
<polygon points="483.80,664.80 497.41,664.80 499.91,662.30 513.52,662.30 514.12,662.30 514.12,680.70 513.52,680.70 499.66,680.70 497.66,682.70 483.80,682.70" fill="#393d40" shape-rendering="crispEdges"/>
<polyline points="483.80,664.80 497.41,664.80 499.91,662.30 513.52,662.30" fill="none" stroke="#2b2f32" stroke-width="2.15"/>
<polyline points="483.80,682.70 497.66,682.70 499.66,680.70 513.52,680.70" fill="none" stroke="#2b2f32" stroke-width="2.15"/>
<polygon points="483.80,697.00 483.80,697.00 513.52,610.70 513.52,610.70 514.12,610.70 514.12,662.30 513.52,662.30 513.52,662.30 483.80,697.00 483.80,697.00" fill="#393d40" shape-rendering="crispEdges"/>
<polyline points="483.80,697.00 483.80,697.00 513.52,610.70 513.52,610.70" fill="none" stroke="#2b2f32" stroke-width="2.15"/>
<polyline points="483.80,697.00 483.80,697.00 513.52,662.30 513.52,662.30" fill="none" stroke="#2b2f32" stroke-width="2.15"/>
<polygon points="483.80,503.00 486.41,503.00 510.91,478.50 513.52,478.50 514.12,478.50 514.12,554.80 513.52,554.80 512.76,554.80 484.56,583.00 483.80,583.00" fill="#393d40" shape-rendering="crispEdges"/>
<polyline points="483.80,503.00 486.41,503.00 510.91,478.50 513.52,478.50" fill="none" stroke="#2b2f32" stroke-width="2.15"/>
<polyline points="483.80,583.00 484.56,583.00 512.76,554.80 513.52,554.80" fill="none" stroke="#2b2f32" stroke-width="2.15"/>
<polygon points="483.80,583.00 483.80,583.00 513.52,396.70 513.52,396.70 514.12,396.70 514.12,478.50 513.52,478.50 513.52,478.50 483.80,664.80 483.80,664.80" fill="#393d40" shape-rendering="crispEdges"/>
<polyline points="483.80,583.00 483.80,583.00 513.52,396.70 513.52,396.70" fill="none" stroke="#2b2f32" stroke-width="2.15"/>
<polyline points="483.80,664.80 483.80,664.80 513.52,478.50 513.52,478.50" fill="none" stroke="#2b2f32" stroke-width="2.15"/>
<polygon points="483.80,418.50 483.80,418.50 513.52,310.00 513.52,310.00 514.12,310.00 514.12,396.70 513.52,396.70 513.52,396.70 483.80,503.00 483.80,503.00" fill="#393d40" shape-rendering="crispEdges"/>
<polyline points="483.80,418.50 483.80,418.50 513.52,310.00 513.52,310.00" fill="none" stroke="#2b2f32" stroke-width="2.15"/>
<polyline points="483.80,503.00 483.80,503.00 513.52,396.70 513.52,396.70" fill="none" stroke="#2b2f32" stroke-width="2.15"/>
<polygon points="483.80,319.20 483.80,319.20 513.52,212.80 513.52,212.80 514.12,212.80 514.12,310.00 513.52,310.00 513.52,310.00 483.80,418.50 483.80,418.50" fill="#393d40" shape-rendering="crispEdges"/>
<polyline points="483.80,319.20 483.80,319.20 513.52,212.80 513.52,212.80" fill="none" stroke="#2b2f32" stroke-width="2.15"/>
<polyline points="483.80,418.50 483.80,418.50 513.52,310.00 513.52,310.00" fill="none" stroke="#2b2f32" stroke-width="2.15"/>
<polygon points="513.52,693.20 543.24,693.20 543.84,693.20 543.84,697.00 543.24,697.00 513.52,697.00" fill="#393d40" shape-rendering="crispEdges"/>
<polyline points="513.52,693.20 543.24,693.20" fill="none" stroke="#2b2f32" stroke-width="2.15"/>
<polyline points="513.52,697.00 543.24,697.00" fill="none" stroke="#2b2f32" stroke-width="2.15"/>
<polygon points="513.52,680.70 543.24,680.70 543.84,680.70 543.84,693.20 543.24,693.20 513.52,693.20" fill="#393d40" shape-rendering="crispEdges"/>
<polyline points="513.52,680.70 543.24,680.70" fill="none" stroke="#2b2f32" stroke-width="2.15"/>
<polyline points="513.52,693.20 543.24,693.20" fill="none" stroke="#2b2f32" stroke-width="2.15"/>
<polygon points="513.52,662.30 543.24,662.30 543.84,662.30 543.84,680.70 543.24,680.70 513.52,680.70" fill="#393d40" shape-rendering="crispEdges"/>
<polyline points="513.52,662.30 543.24,662.30" fill="none" stroke="#2b2f32" stroke-width="2.15"/>
<polyline points="513.52,680.70 543.24,680.70" fill="none" stroke="#2b2f32" stroke-width="2.15"/>
<polygon points="513.52,610.70 513.52,610.70 543.24,554.50 543.24,554.50 543.84,554.50 543.84,609.00 543.24,609.00 543.24,609.00 513.52,662.30 513.52,662.30" fill="#393d40" shape-rendering="crispEdges"/>
<polyline points="513.52,610.70 513.52,610.70 543.24,554.50 543.24,554.50" fill="none" stroke="#2b2f32" stroke-width="2.15"/>
<polyline points="513.52,662.30 513.52,662.30 543.24,609.00 543.24,609.00" fill="none" stroke="#2b2f32" stroke-width="2.15"/>
<polygon points="513.52,478.50 528.13,478.50 528.63,479.00 543.24,479.00 543.84,479.00 543.84,554.50 543.24,554.50 528.53,554.50 528.23,554.80 513.52,554.80" fill="#393d40" shape-rendering="crispEdges"/>
<polyline points="513.52,478.50 528.13,478.50 528.63,479.00 543.24,479.00" fill="none" stroke="#2b2f32" stroke-width="2.15"/>
<polyline points="513.52,554.80 528.23,554.80 528.53,554.50 543.24,554.50" fill="none" stroke="#2b2f32" stroke-width="2.15"/>
<polygon points="513.52,310.00 513.52,310.00 543.24,400.80 543.24,400.80 543.84,400.80 543.84,479.00 543.24,479.00 543.24,479.00 513.52,396.70 513.52,396.70" fill="#393d40" shape-rendering="crispEdges"/>
<polyline points="513.52,310.00 513.52,310.00 543.24,400.80 543.24,400.80" fill="none" stroke="#2b2f32" stroke-width="2.15"/>
<polyline points="513.52,396.70 513.52,396.70 543.24,479.00 543.24,479.00" fill="none" stroke="#2b2f32" stroke-width="2.15"/>
<polygon points="513.52,396.70 513.52,396.70 543.24,320.80 543.24,320.80 543.84,320.80 543.84,400.80 543.24,400.80 543.24,400.80 513.52,478.50 513.52,478.50" fill="#393d40" shape-rendering="crispEdges"/>
<polyline points="513.52,396.70 513.52,396.70 543.24,320.80 543.24,320.80" fill="none" stroke="#2b2f32" stroke-width="2.15"/>
<polyline points="513.52,478.50 513.52,478.50 543.24,400.80 543.24,400.80" fill="none" stroke="#2b2f32" stroke-width="2.15"/>
<polygon points="513.52,212.80 524.03,212.80 532.73,221.50 543.24,221.50 543.84,221.50 543.84,320.80 543.24,320.80 533.78,320.80 522.98,310.00 513.52,310.00" fill="#393d40" shape-rendering="crispEdges"/>
<polyline points="513.52,212.80 524.03,212.80 532.73,221.50 543.24,221.50" fill="none" stroke="#2b2f32" stroke-width="2.15"/>
<polyline points="513.52,310.00 522.98,310.00 533.78,320.80 543.24,320.80" fill="none" stroke="#2b2f32" stroke-width="2.15"/>
<polygon points="543.24,693.20 572.96,693.20 573.56,693.20 573.56,697.00 572.96,697.00 543.24,697.00" fill="#393d40" shape-rendering="crispEdges"/>
<polyline points="543.24,693.20 572.96,693.20" fill="none" stroke="#2b2f32" stroke-width="2.15"/>
<polyline points="543.24,697.00 572.96,697.00" fill="none" stroke="#2b2f32" stroke-width="2.15"/>
<polygon points="543.24,680.70 572.96,680.70 573.56,680.70 573.56,693.20 572.96,693.20 543.24,693.20" fill="#393d40" shape-rendering="crispEdges"/>
<polyline points="543.24,680.70 572.96,680.70" fill="none" stroke="#2b2f32" stroke-width="2.15"/>
<polyline points="543.24,693.20 572.96,693.20" fill="none" stroke="#2b2f32" stroke-width="2.15"/>
<polygon points="543.24,662.30 557.95,662.30 558.25,662.00 572.96,662.00 573.56,662.00 573.56,680.70 572.96,680.70 543.24,680.70" fill="#393d40" shape-rendering="crispEdges"/>
<polyline points="543.24,662.30 557.95,662.30 558.25,662.00 572.96,662.00" fill="none" stroke="#2b2f32" stroke-width="2.15"/>
<polyline points="543.24,680.70 572.96,680.70" fill="none" stroke="#2b2f32" stroke-width="2.15"/>
<polygon points="543.24,554.50 555.45,554.50 560.75,549.20 572.96,549.20 573.56,549.20 573.56,608.70 572.96,608.70 558.25,608.70 557.95,609.00 543.24,609.00" fill="#393d40" shape-rendering="crispEdges"/>
<polyline points="543.24,554.50 555.45,554.50 560.75,549.20 572.96,549.20" fill="none" stroke="#2b2f32" stroke-width="2.15"/>
<polyline points="543.24,609.00 557.95,609.00 558.25,608.70 572.96,608.70" fill="none" stroke="#2b2f32" stroke-width="2.15"/>
<polygon points="543.24,479.00 556.20,479.00 560.00,475.20 572.96,475.20 573.56,475.20 573.56,549.20 572.96,549.20 560.75,549.20 555.45,554.50 543.24,554.50" fill="#393d40" shape-rendering="crispEdges"/>
<polyline points="543.24,479.00 556.20,479.00 560.00,475.20 572.96,475.20" fill="none" stroke="#2b2f32" stroke-width="2.15"/>
<polyline points="543.24,554.50 555.45,554.50 560.75,549.20 572.96,549.20" fill="none" stroke="#2b2f32" stroke-width="2.15"/>
<polygon points="543.24,320.80 543.24,320.80 572.96,395.00 572.96,395.00 573.56,395.00 573.56,475.20 572.96,475.20 572.96,475.20 543.24,400.80 543.24,400.80" fill="#393d40" shape-rendering="crispEdges"/>
<polyline points="543.24,320.80 543.24,320.80 572.96,395.00 572.96,395.00" fill="none" stroke="#2b2f32" stroke-width="2.15"/>
<polyline points="543.24,400.80 543.24,400.80 572.96,475.20 572.96,475.20" fill="none" stroke="#2b2f32" stroke-width="2.15"/>
<polygon points="543.24,400.80 543.24,400.80 572.96,308.00 572.96,308.00 573.56,308.00 573.56,395.00 572.96,395.00 572.96,395.00 543.24,479.00 543.24,479.00" fill="#393d40" shape-rendering="crispEdges"/>
<polyline points="543.24,400.80 543.24,400.80 572.96,308.00 572.96,308.00" fill="none" stroke="#2b2f32" stroke-width="2.15"/>
<polyline points="543.24,479.00 543.24,479.00 572.96,395.00 572.96,395.00" fill="none" stroke="#2b2f32" stroke-width="2.15"/>
<polygon points="543.24,221.50 551.75,221.50 564.45,208.80 572.96,208.80 573.56,208.80 573.56,308.00 572.96,308.00 564.50,308.00 551.70,320.80 543.24,320.80" fill="#393d40" shape-rendering="crispEdges"/>
<polyline points="543.24,221.50 551.75,221.50 564.45,208.80 572.96,208.80" fill="none" stroke="#2b2f32" stroke-width="2.15"/>
<polyline points="543.24,320.80 551.70,320.80 564.50,308.00 572.96,308.00" fill="none" stroke="#2b2f32" stroke-width="2.15"/>
<polygon points="572.96,693.20 602.68,693.20 603.28,693.20 603.28,697.00 602.68,697.00 572.96,697.00" fill="#393d40" shape-rendering="crispEdges"/>
<polyline points="572.96,693.20 602.68,693.20" fill="none" stroke="#2b2f32" stroke-width="2.15"/>
<polyline points="572.96,697.00 602.68,697.00" fill="none" stroke="#2b2f32" stroke-width="2.15"/>
<polygon points="572.96,680.70 602.68,680.70 603.28,680.70 603.28,693.20 602.68,693.20 572.96,693.20" fill="#393d40" shape-rendering="crispEdges"/>
<polyline points="572.96,680.70 602.68,680.70" fill="none" stroke="#2b2f32" stroke-width="2.15"/>
<polyline points="572.96,693.20 602.68,693.20" fill="none" stroke="#2b2f32" stroke-width="2.15"/>
<polygon points="572.96,662.00 602.68,662.00 603.28,662.00 603.28,680.70 602.68,680.70 572.96,680.70" fill="#393d40" shape-rendering="crispEdges"/>
<polyline points="572.96,662.00 602.68,662.00" fill="none" stroke="#2b2f32" stroke-width="2.15"/>
<polyline points="572.96,680.70 602.68,680.70" fill="none" stroke="#2b2f32" stroke-width="2.15"/>
<polygon points="572.96,549.20 585.72,549.20 589.92,545.00 602.68,545.00 603.28,545.00 603.28,608.70 602.68,608.70 572.96,608.70" fill="#393d40" shape-rendering="crispEdges"/>
<polyline points="572.96,549.20 585.72,549.20 589.92,545.00 602.68,545.00" fill="none" stroke="#2b2f32" stroke-width="2.15"/>
<polyline points="572.96,608.70 602.68,608.70" fill="none" stroke="#2b2f32" stroke-width="2.15"/>
<polygon points="572.96,475.20 585.57,475.20 590.07,470.70 602.68,470.70 603.28,470.70 603.28,545.00 602.68,545.00 589.92,545.00 585.72,549.20 572.96,549.20" fill="#393d40" shape-rendering="crispEdges"/>
<polyline points="572.96,475.20 585.57,475.20 590.07,470.70 602.68,470.70" fill="none" stroke="#2b2f32" stroke-width="2.15"/>
<polyline points="572.96,549.20 585.72,549.20 589.92,545.00 602.68,545.00" fill="none" stroke="#2b2f32" stroke-width="2.15"/>
<polygon points="572.96,395.00 585.32,395.00 590.32,390.00 602.68,390.00 603.28,390.00 603.28,470.70 602.68,470.70 590.07,470.70 585.57,475.20 572.96,475.20" fill="#393d40" shape-rendering="crispEdges"/>
<polyline points="572.96,395.00 585.32,395.00 590.32,390.00 602.68,390.00" fill="none" stroke="#2b2f32" stroke-width="2.15"/>
<polyline points="572.96,475.20 585.57,475.20 590.07,470.70 602.68,470.70" fill="none" stroke="#2b2f32" stroke-width="2.15"/>
<polygon points="572.96,308.00 602.68,308.00 603.28,308.00 603.28,390.00 602.68,390.00 590.32,390.00 585.32,395.00 572.96,395.00" fill="#393d40" shape-rendering="crispEdges"/>
<polyline points="572.96,308.00 602.68,308.00" fill="none" stroke="#2b2f32" stroke-width="2.15"/>
<polyline points="572.96,395.00 585.32,395.00 590.32,390.00 602.68,390.00" fill="none" stroke="#2b2f32" stroke-width="2.15"/>
<polygon points="572.96,208.80 587.32,208.80 588.32,207.80 602.68,207.80 603.28,207.80 603.28,308.00 602.68,308.00 572.96,308.00" fill="#393d40" shape-rendering="crispEdges"/>
<polyline points="572.96,208.80 587.32,208.80 588.32,207.80 602.68,207.80" fill="none" stroke="#2b2f32" stroke-width="2.15"/>
<polyline points="572.96,308.00 602.68,308.00" fill="none" stroke="#2b2f32" stroke-width="2.15"/>
<polygon points="602.68,693.20 632.40,693.20 633.00,693.20 633.00,697.00 632.40,697.00 602.68,697.00" fill="#393d40" shape-rendering="crispEdges"/>
<polyline points="602.68,693.20 632.40,693.20" fill="none" stroke="#2b2f32" stroke-width="2.15"/>
<polyline points="602.68,697.00 632.40,697.00" fill="none" stroke="#2b2f32" stroke-width="2.15"/>
<polygon points="602.68,680.70 632.40,680.70 633.00,680.70 633.00,693.20 632.40,693.20 602.68,693.20" fill="#393d40" shape-rendering="crispEdges"/>
<polyline points="602.68,680.70 632.40,680.70" fill="none" stroke="#2b2f32" stroke-width="2.15"/>
<polyline points="602.68,693.20 632.40,693.20" fill="none" stroke="#2b2f32" stroke-width="2.15"/>
<polygon points="602.68,662.00 617.29,662.00 617.79,662.50 632.40,662.50 633.00,662.50 633.00,680.70 632.40,680.70 602.68,680.70" fill="#393d40" shape-rendering="crispEdges"/>
<polyline points="602.68,662.00 617.29,662.00 617.79,662.50 632.40,662.50" fill="none" stroke="#2b2f32" stroke-width="2.15"/>
<polyline points="602.68,680.70 632.40,680.70" fill="none" stroke="#2b2f32" stroke-width="2.15"/>
<polygon points="602.68,545.00 616.69,545.00 618.39,543.30 632.40,543.30 633.00,543.30 633.00,610.00 632.40,610.00 618.19,610.00 616.89,608.70 602.68,608.70" fill="#393d40" shape-rendering="crispEdges"/>
<polyline points="602.68,545.00 616.69,545.00 618.39,543.30 632.40,543.30" fill="none" stroke="#2b2f32" stroke-width="2.15"/>
<polyline points="602.68,608.70 616.89,608.70 618.19,610.00 632.40,610.00" fill="none" stroke="#2b2f32" stroke-width="2.15"/>
<polygon points="602.68,390.00 602.68,390.00 632.40,466.00 632.40,466.00 633.00,466.00 633.00,543.30 632.40,543.30 632.40,543.30 602.68,470.70 602.68,470.70" fill="#393d40" shape-rendering="crispEdges"/>
<polyline points="602.68,390.00 602.68,390.00 632.40,466.00 632.40,466.00" fill="none" stroke="#2b2f32" stroke-width="2.15"/>
<polyline points="602.68,470.70 602.68,470.70 632.40,543.30 632.40,543.30" fill="none" stroke="#2b2f32" stroke-width="2.15"/>
<polygon points="602.68,308.00 602.68,308.00 632.40,383.50 632.40,383.50 633.00,383.50 633.00,466.00 632.40,466.00 632.40,466.00 602.68,390.00 602.68,390.00" fill="#393d40" shape-rendering="crispEdges"/>
<polyline points="602.68,308.00 602.68,308.00 632.40,383.50 632.40,383.50" fill="none" stroke="#2b2f32" stroke-width="2.15"/>
<polyline points="602.68,390.00 602.68,390.00 632.40,466.00 632.40,466.00" fill="none" stroke="#2b2f32" stroke-width="2.15"/>
<polygon points="602.68,470.70 602.68,470.70 632.40,300.00 632.40,300.00 633.00,300.00 633.00,383.50 632.40,383.50 632.40,383.50 602.68,545.00 602.68,545.00" fill="#393d40" shape-rendering="crispEdges"/>
<polyline points="602.68,470.70 602.68,470.70 632.40,300.00 632.40,300.00" fill="none" stroke="#2b2f32" stroke-width="2.15"/>
<polyline points="602.68,545.00 602.68,545.00 632.40,383.50 632.40,383.50" fill="none" stroke="#2b2f32" stroke-width="2.15"/>
<polygon points="602.68,207.80 613.54,207.80 621.54,199.80 632.40,199.80 633.00,199.80 633.00,300.00 632.40,300.00 621.54,300.00 613.54,308.00 602.68,308.00" fill="#393d40" shape-rendering="crispEdges"/>
<polyline points="602.68,207.80 613.54,207.80 621.54,199.80 632.40,199.80" fill="none" stroke="#2b2f32" stroke-width="2.15"/>
<polyline points="602.68,308.00 613.54,308.00 621.54,300.00 632.40,300.00" fill="none" stroke="#2b2f32" stroke-width="2.15"/>
<polygon points="632.40,693.20 646.86,693.20 647.66,692.40 662.12,692.40 662.72,692.40 662.72,697.00 662.12,697.00 632.40,697.00" fill="#393d40" shape-rendering="crispEdges"/>
<polyline points="632.40,693.20 646.86,693.20 647.66,692.40 662.12,692.40" fill="none" stroke="#2b2f32" stroke-width="2.15"/>
<polyline points="632.40,697.00 662.12,697.00" fill="none" stroke="#2b2f32" stroke-width="2.15"/>
<polygon points="632.40,680.70 646.61,680.70 647.91,679.40 662.12,679.40 662.72,679.40 662.72,692.40 662.12,692.40 647.66,692.40 646.86,693.20 632.40,693.20" fill="#393d40" shape-rendering="crispEdges"/>
<polyline points="632.40,680.70 646.61,680.70 647.91,679.40 662.12,679.40" fill="none" stroke="#2b2f32" stroke-width="2.15"/>
<polyline points="632.40,693.20 646.86,693.20 647.66,692.40 662.12,692.40" fill="none" stroke="#2b2f32" stroke-width="2.15"/>
<polygon points="632.40,662.50 646.96,662.50 647.56,661.90 662.12,661.90 662.72,661.90 662.72,679.40 662.12,679.40 647.91,679.40 646.61,680.70 632.40,680.70" fill="#393d40" shape-rendering="crispEdges"/>
<polyline points="632.40,662.50 646.96,662.50 647.56,661.90 662.12,661.90" fill="none" stroke="#2b2f32" stroke-width="2.15"/>
<polyline points="632.40,680.70 646.61,680.70 647.91,679.40 662.12,679.40" fill="none" stroke="#2b2f32" stroke-width="2.15"/>
<polygon points="632.40,543.30 632.40,543.30 662.12,635.00 662.12,635.00 662.72,635.00 662.72,661.90 662.12,661.90 662.12,661.90 632.40,610.00 632.40,610.00" fill="#393d40" shape-rendering="crispEdges"/>
<polyline points="632.40,543.30 632.40,543.30 662.12,635.00 662.12,635.00" fill="none" stroke="#2b2f32" stroke-width="2.15"/>
<polyline points="632.40,610.00 632.40,610.00 662.12,661.90 662.12,661.90" fill="none" stroke="#2b2f32" stroke-width="2.15"/>
<polygon points="632.40,466.00 635.26,466.00 659.26,490.00 662.12,490.00 662.72,490.00 662.72,568.30 662.12,568.30 659.76,568.30 634.76,543.30 632.40,543.30" fill="#393d40" shape-rendering="crispEdges"/>
<polyline points="632.40,466.00 635.26,466.00 659.26,490.00 662.12,490.00" fill="none" stroke="#2b2f32" stroke-width="2.15"/>
<polyline points="632.40,543.30 634.76,543.30 659.76,568.30 662.12,568.30" fill="none" stroke="#2b2f32" stroke-width="2.15"/>
<polygon points="632.40,300.00 632.40,300.00 662.12,410.00 662.12,410.00 662.72,410.00 662.72,490.00 662.12,490.00 662.12,490.00 632.40,383.50 632.40,383.50" fill="#393d40" shape-rendering="crispEdges"/>
<polyline points="632.40,300.00 632.40,300.00 662.12,410.00 662.12,410.00" fill="none" stroke="#2b2f32" stroke-width="2.15"/>
<polyline points="632.40,383.50 632.40,383.50 662.12,490.00 662.12,490.00" fill="none" stroke="#2b2f32" stroke-width="2.15"/>
<polygon points="632.40,383.50 632.40,383.50 662.12,328.70 662.12,328.70 662.72,328.70 662.72,410.00 662.12,410.00 662.12,410.00 632.40,466.00 632.40,466.00" fill="#393d40" shape-rendering="crispEdges"/>
<polyline points="632.40,383.50 632.40,383.50 662.12,328.70 662.12,328.70" fill="none" stroke="#2b2f32" stroke-width="2.15"/>
<polyline points="632.40,466.00 632.40,466.00 662.12,410.00 662.12,410.00" fill="none" stroke="#2b2f32" stroke-width="2.15"/>
<polygon points="632.40,199.80 632.76,199.80 661.76,228.80 662.12,228.80 662.72,228.80 662.72,328.70 662.12,328.70 661.61,328.70 632.91,300.00 632.40,300.00" fill="#393d40" shape-rendering="crispEdges"/>
<polyline points="632.40,199.80 632.76,199.80 661.76,228.80 662.12,228.80" fill="none" stroke="#2b2f32" stroke-width="2.15"/>
<polyline points="632.40,300.00 632.91,300.00 661.61,328.70 662.12,328.70" fill="none" stroke="#2b2f32" stroke-width="2.15"/>
<polygon points="662.12,692.40 676.68,692.40 677.28,693.00 691.84,693.00 692.44,693.00 692.44,697.00 691.84,697.00 662.12,697.00" fill="#393d40" shape-rendering="crispEdges"/>
<polyline points="662.12,692.40 676.68,692.40 677.28,693.00 691.84,693.00" fill="none" stroke="#2b2f32" stroke-width="2.15"/>
<polyline points="662.12,697.00 691.84,697.00" fill="none" stroke="#2b2f32" stroke-width="2.15"/>
<polygon points="662.12,679.40 676.48,679.40 677.48,680.40 691.84,680.40 692.44,680.40 692.44,693.00 691.84,693.00 677.28,693.00 676.68,692.40 662.12,692.40" fill="#393d40" shape-rendering="crispEdges"/>
<polyline points="662.12,679.40 676.48,679.40 677.48,680.40 691.84,680.40" fill="none" stroke="#2b2f32" stroke-width="2.15"/>
<polyline points="662.12,692.40 676.68,692.40 677.28,693.00 691.84,693.00" fill="none" stroke="#2b2f32" stroke-width="2.15"/>
<polygon points="662.12,661.90 691.84,661.90 692.44,661.90 692.44,680.40 691.84,680.40 677.48,680.40 676.48,679.40 662.12,679.40" fill="#393d40" shape-rendering="crispEdges"/>
<polyline points="662.12,661.90 691.84,661.90" fill="none" stroke="#2b2f32" stroke-width="2.15"/>
<polyline points="662.12,679.40 676.48,679.40 677.48,680.40 691.84,680.40" fill="none" stroke="#2b2f32" stroke-width="2.15"/>
<polygon points="662.12,635.00 691.84,635.00 692.44,635.00 692.44,661.90 691.84,661.90 662.12,661.90" fill="#393d40" shape-rendering="crispEdges"/>
<polyline points="662.12,635.00 691.84,635.00" fill="none" stroke="#2b2f32" stroke-width="2.15"/>
<polyline points="662.12,661.90 691.84,661.90" fill="none" stroke="#2b2f32" stroke-width="2.15"/>
<polygon points="662.12,490.00 662.12,490.00 691.84,571.70 691.84,571.70 692.44,571.70 692.44,635.00 691.84,635.00 691.84,635.00 662.12,568.30 662.12,568.30" fill="#393d40" shape-rendering="crispEdges"/>
<polyline points="662.12,490.00 662.12,490.00 691.84,571.70 691.84,571.70" fill="none" stroke="#2b2f32" stroke-width="2.15"/>
<polyline points="662.12,568.30 662.12,568.30 691.84,635.00 691.84,635.00" fill="none" stroke="#2b2f32" stroke-width="2.15"/>
<polygon points="662.12,410.00 668.73,410.00 685.23,426.50 691.84,426.50 692.44,426.50 692.44,503.50 691.84,503.50 683.73,503.50 670.23,490.00 662.12,490.00" fill="#393d40" shape-rendering="crispEdges"/>
<polyline points="662.12,410.00 668.73,410.00 685.23,426.50 691.84,426.50" fill="none" stroke="#2b2f32" stroke-width="2.15"/>
<polyline points="662.12,490.00 670.23,490.00 683.73,503.50 691.84,503.50" fill="none" stroke="#2b2f32" stroke-width="2.15"/>
<polygon points="662.12,328.70 670.33,328.70 683.63,342.00 691.84,342.00 692.44,342.00 692.44,426.50 691.84,426.50 685.23,426.50 668.73,410.00 662.12,410.00" fill="#393d40" shape-rendering="crispEdges"/>
<polyline points="662.12,328.70 670.33,328.70 683.63,342.00 691.84,342.00" fill="none" stroke="#2b2f32" stroke-width="2.15"/>
<polyline points="662.12,410.00 668.73,410.00 685.23,426.50 691.84,426.50" fill="none" stroke="#2b2f32" stroke-width="2.15"/>
<polygon points="662.12,228.80 666.83,228.80 687.13,249.10 691.84,249.10 692.44,249.10 692.44,342.00 691.84,342.00 683.63,342.00 670.33,328.70 662.12,328.70" fill="#393d40" shape-rendering="crispEdges"/>
<polyline points="662.12,228.80 666.83,228.80 687.13,249.10 691.84,249.10" fill="none" stroke="#2b2f32" stroke-width="2.15"/>
<polyline points="662.12,328.70 670.33,328.70 683.63,342.00 691.84,342.00" fill="none" stroke="#2b2f32" stroke-width="2.15"/>
<polygon points="691.84,693.00 721.56,693.00 722.16,693.00 722.16,697.00 721.56,697.00 691.84,697.00" fill="#393d40" shape-rendering="crispEdges"/>
<polyline points="691.84,693.00 721.56,693.00" fill="none" stroke="#2b2f32" stroke-width="2.15"/>
<polyline points="691.84,697.00 721.56,697.00" fill="none" stroke="#2b2f32" stroke-width="2.15"/>
<polygon points="691.84,680.40 721.56,680.40 722.16,680.40 722.16,693.00 721.56,693.00 691.84,693.00" fill="#393d40" shape-rendering="crispEdges"/>
<polyline points="691.84,680.40 721.56,680.40" fill="none" stroke="#2b2f32" stroke-width="2.15"/>
<polyline points="691.84,693.00 721.56,693.00" fill="none" stroke="#2b2f32" stroke-width="2.15"/>
<polygon points="691.84,661.90 721.56,661.90 722.16,661.90 722.16,680.40 721.56,680.40 691.84,680.40" fill="#393d40" shape-rendering="crispEdges"/>
<polyline points="691.84,661.90 721.56,661.90" fill="none" stroke="#2b2f32" stroke-width="2.15"/>
<polyline points="691.84,680.40 721.56,680.40" fill="none" stroke="#2b2f32" stroke-width="2.15"/>
<polygon points="691.84,635.00 706.45,635.00 706.95,635.50 721.56,635.50 722.16,635.50 722.16,661.90 721.56,661.90 691.84,661.90" fill="#393d40" shape-rendering="crispEdges"/>
<polyline points="691.84,635.00 706.45,635.00 706.95,635.50 721.56,635.50" fill="none" stroke="#2b2f32" stroke-width="2.15"/>
<polyline points="691.84,661.90 721.56,661.90" fill="none" stroke="#2b2f32" stroke-width="2.15"/>
<polygon points="691.84,571.70 706.55,571.70 706.85,572.00 721.56,572.00 722.16,572.00 722.16,635.50 721.56,635.50 706.95,635.50 706.45,635.00 691.84,635.00" fill="#393d40" shape-rendering="crispEdges"/>
<polyline points="691.84,571.70 706.55,571.70 706.85,572.00 721.56,572.00" fill="none" stroke="#2b2f32" stroke-width="2.15"/>
<polyline points="691.84,635.00 706.45,635.00 706.95,635.50 721.56,635.50" fill="none" stroke="#2b2f32" stroke-width="2.15"/>
<polygon points="691.84,342.00 691.84,342.00 721.56,430.80 721.56,430.80 722.16,430.80 722.16,505.30 721.56,505.30 721.56,505.30 691.84,426.50 691.84,426.50" fill="#393d40" shape-rendering="crispEdges"/>
<polyline points="691.84,342.00 691.84,342.00 721.56,430.80 721.56,430.80" fill="none" stroke="#2b2f32" stroke-width="2.15"/>
<polyline points="691.84,426.50 691.84,426.50 721.56,505.30 721.56,505.30" fill="none" stroke="#2b2f32" stroke-width="2.15"/>
<polygon points="691.84,426.50 691.84,426.50 721.56,354.20 721.56,354.20 722.16,354.20 722.16,430.80 721.56,430.80 721.56,430.80 691.84,503.50 691.84,503.50" fill="#393d40" shape-rendering="crispEdges"/>
<polyline points="691.84,426.50 691.84,426.50 721.56,354.20 721.56,354.20" fill="none" stroke="#2b2f32" stroke-width="2.15"/>
<polyline points="691.84,503.50 691.84,503.50 721.56,430.80 721.56,430.80" fill="none" stroke="#2b2f32" stroke-width="2.15"/>
<polygon points="691.84,249.10 699.85,249.10 713.55,262.80 721.56,262.80 722.16,262.80 722.16,354.20 721.56,354.20 712.80,354.20 700.60,342.00 691.84,342.00" fill="#393d40" shape-rendering="crispEdges"/>
<polyline points="691.84,249.10 699.85,249.10 713.55,262.80 721.56,262.80" fill="none" stroke="#2b2f32" stroke-width="2.15"/>
<polyline points="691.84,342.00 700.60,342.00 712.80,354.20 721.56,354.20" fill="none" stroke="#2b2f32" stroke-width="2.15"/>
<polygon points="721.56,635.50 721.56,635.50 751.28,689.30 751.28,689.30 751.88,689.30 751.88,697.00 751.28,697.00 751.28,697.00 721.56,661.90 721.56,661.90" fill="#393d40" shape-rendering="crispEdges"/>
<polyline points="721.56,635.50 721.56,635.50 751.28,689.30 751.28,689.30" fill="none" stroke="#2b2f32" stroke-width="2.15"/>
<polyline points="721.56,661.90 721.56,661.90 751.28,697.00 751.28,697.00" fill="none" stroke="#2b2f32" stroke-width="2.15"/>
<polygon points="721.56,693.00 729.27,693.00 743.57,678.70 751.28,678.70 751.88,678.70 751.88,689.30 751.28,689.30 740.27,689.30 732.57,697.00 721.56,697.00" fill="#393d40" shape-rendering="crispEdges"/>
<polyline points="721.56,693.00 729.27,693.00 743.57,678.70 751.28,678.70" fill="none" stroke="#2b2f32" stroke-width="2.15"/>
<polyline points="721.56,697.00 732.57,697.00 740.27,689.30 751.28,689.30" fill="none" stroke="#2b2f32" stroke-width="2.15"/>
<polygon points="721.56,680.40 729.07,680.40 743.77,665.70 751.28,665.70 751.88,665.70 751.88,678.70 751.28,678.70 743.57,678.70 729.27,693.00 721.56,693.00" fill="#393d40" shape-rendering="crispEdges"/>
<polyline points="721.56,680.40 729.07,680.40 743.77,665.70 751.28,665.70" fill="none" stroke="#2b2f32" stroke-width="2.15"/>
<polyline points="721.56,693.00 729.27,693.00 743.57,678.70 751.28,678.70" fill="none" stroke="#2b2f32" stroke-width="2.15"/>
<polygon points="721.56,661.90 723.97,661.90 748.87,637.00 751.28,637.00 751.88,637.00 751.88,665.70 751.28,665.70 743.77,665.70 729.07,680.40 721.56,680.40" fill="#393d40" shape-rendering="crispEdges"/>
<polyline points="721.56,661.90 723.97,661.90 748.87,637.00 751.28,637.00" fill="none" stroke="#2b2f32" stroke-width="2.15"/>
<polyline points="721.56,680.40 729.07,680.40 743.77,665.70 751.28,665.70" fill="none" stroke="#2b2f32" stroke-width="2.15"/>
<polygon points="721.56,262.80 721.56,262.80 751.28,526.00 751.28,526.00 751.88,526.00 751.88,583.00 751.28,583.00 751.28,583.00 721.56,354.20 721.56,354.20" fill="#393d40" shape-rendering="crispEdges"/>
<polyline points="721.56,262.80 721.56,262.80 751.28,526.00 751.28,526.00" fill="none" stroke="#2b2f32" stroke-width="2.15"/>
<polyline points="721.56,354.20 721.56,354.20 751.28,583.00 751.28,583.00" fill="none" stroke="#2b2f32" stroke-width="2.15"/>
<polygon points="721.56,430.80 732.67,430.80 740.17,438.30 751.28,438.30 751.88,438.30 751.88,526.00 751.28,526.00 746.77,526.00 726.07,505.30 721.56,505.30" fill="#393d40" shape-rendering="crispEdges"/>
<polyline points="721.56,430.80 732.67,430.80 740.17,438.30 751.28,438.30" fill="none" stroke="#2b2f32" stroke-width="2.15"/>
<polyline points="721.56,505.30 726.07,505.30 746.77,526.00 751.28,526.00" fill="none" stroke="#2b2f32" stroke-width="2.15"/>
<polygon points="721.56,354.20 734.17,354.20 738.67,349.70 751.28,349.70 751.88,349.70 751.88,438.30 751.28,438.30 740.17,438.30 732.67,430.80 721.56,430.80" fill="#393d40" shape-rendering="crispEdges"/>
<polyline points="721.56,354.20 734.17,354.20 738.67,349.70 751.28,349.70" fill="none" stroke="#2b2f32" stroke-width="2.15"/>
<polyline points="721.56,430.80 732.67,430.80 740.17,438.30 751.28,438.30" fill="none" stroke="#2b2f32" stroke-width="2.15"/>
<polygon points="721.56,572.00 721.56,572.00 751.28,233.80 751.28,233.80 751.88,233.80 751.88,349.70 751.28,349.70 751.28,349.70 721.56,635.50 721.56,635.50" fill="#393d40" shape-rendering="crispEdges"/>
<polyline points="721.56,572.00 721.56,572.00 751.28,233.80 751.28,233.80" fill="none" stroke="#2b2f32" stroke-width="2.15"/>
<polyline points="721.56,635.50 721.56,635.50 751.28,349.70 751.28,349.70" fill="none" stroke="#2b2f32" stroke-width="2.15"/>
<polygon points="751.28,689.30 781.00,689.30 781.60,689.30 781.60,697.00 781.00,697.00 751.28,697.00" fill="#393d40" shape-rendering="crispEdges"/>
<polyline points="751.28,689.30 781.00,689.30" fill="none" stroke="#2b2f32" stroke-width="2.15"/>
<polyline points="751.28,697.00 781.00,697.00" fill="none" stroke="#2b2f32" stroke-width="2.15"/>
<polygon points="751.28,678.70 781.00,678.70 781.60,678.70 781.60,689.30 781.00,689.30 751.28,689.30" fill="#393d40" shape-rendering="crispEdges"/>
<polyline points="751.28,678.70 781.00,678.70" fill="none" stroke="#2b2f32" stroke-width="2.15"/>
<polyline points="751.28,689.30 781.00,689.30" fill="none" stroke="#2b2f32" stroke-width="2.15"/>
<polygon points="751.28,665.70 781.00,665.70 781.60,665.70 781.60,678.70 781.00,678.70 751.28,678.70" fill="#393d40" shape-rendering="crispEdges"/>
<polyline points="751.28,665.70 781.00,665.70" fill="none" stroke="#2b2f32" stroke-width="2.15"/>
<polyline points="751.28,678.70 781.00,678.70" fill="none" stroke="#2b2f32" stroke-width="2.15"/>
<polygon points="751.28,637.00 765.64,637.00 766.64,636.00 781.00,636.00 781.60,636.00 781.60,665.70 781.00,665.70 751.28,665.70" fill="#393d40" shape-rendering="crispEdges"/>
<polyline points="751.28,637.00 765.64,637.00 766.64,636.00 781.00,636.00" fill="none" stroke="#2b2f32" stroke-width="2.15"/>
<polyline points="751.28,665.70 781.00,665.70" fill="none" stroke="#2b2f32" stroke-width="2.15"/>
<polygon points="751.28,526.00 764.39,526.00 767.89,522.50 781.00,522.50 781.60,522.50 781.60,579.40 781.00,579.40 767.94,579.40 764.34,583.00 751.28,583.00" fill="#393d40" shape-rendering="crispEdges"/>
<polyline points="751.28,526.00 764.39,526.00 767.89,522.50 781.00,522.50" fill="none" stroke="#2b2f32" stroke-width="2.15"/>
<polyline points="751.28,583.00 764.34,583.00 767.94,579.40 781.00,579.40" fill="none" stroke="#2b2f32" stroke-width="2.15"/>
<polygon points="751.28,438.30 765.14,438.30 767.14,436.30 781.00,436.30 781.60,436.30 781.60,522.50 781.00,522.50 767.89,522.50 764.39,526.00 751.28,526.00" fill="#393d40" shape-rendering="crispEdges"/>
<polyline points="751.28,438.30 765.14,438.30 767.14,436.30 781.00,436.30" fill="none" stroke="#2b2f32" stroke-width="2.15"/>
<polyline points="751.28,526.00 764.39,526.00 767.89,522.50 781.00,522.50" fill="none" stroke="#2b2f32" stroke-width="2.15"/>
<polygon points="751.28,349.70 765.89,349.70 766.39,349.20 781.00,349.20 781.60,349.20 781.60,436.30 781.00,436.30 767.14,436.30 765.14,438.30 751.28,438.30" fill="#393d40" shape-rendering="crispEdges"/>
<polyline points="751.28,349.70 765.89,349.70 766.39,349.20 781.00,349.20" fill="none" stroke="#2b2f32" stroke-width="2.15"/>
<polyline points="751.28,438.30 765.14,438.30 767.14,436.30 781.00,436.30" fill="none" stroke="#2b2f32" stroke-width="2.15"/>
<polygon points="751.28,233.80 765.29,233.80 766.99,232.10 781.00,232.10 781.60,232.10 781.60,349.20 781.00,349.20 766.39,349.20 765.89,349.70 751.28,349.70" fill="#393d40" shape-rendering="crispEdges"/>
<polyline points="751.28,233.80 765.29,233.80 766.99,232.10 781.00,232.10" fill="none" stroke="#2b2f32" stroke-width="2.15"/>
<polyline points="751.28,349.70 765.89,349.70 766.39,349.20 781.00,349.20" fill="none" stroke="#2b2f32" stroke-width="2.15"/>
<polygon points="781.00,689.30 795.76,689.30 795.96,689.50 810.72,689.50 811.32,689.50 811.32,697.00 810.72,697.00 781.00,697.00" fill="#393d40" shape-rendering="crispEdges"/>
<polyline points="781.00,689.30 795.76,689.30 795.96,689.50 810.72,689.50" fill="none" stroke="#2b2f32" stroke-width="2.15"/>
<polyline points="781.00,697.00 810.72,697.00" fill="none" stroke="#2b2f32" stroke-width="2.15"/>
<polygon points="781.00,678.70 795.76,678.70 795.96,678.50 810.72,678.50 811.32,678.50 811.32,689.50 810.72,689.50 795.96,689.50 795.76,689.30 781.00,689.30" fill="#393d40" shape-rendering="crispEdges"/>
<polyline points="781.00,678.70 795.76,678.70 795.96,678.50 810.72,678.50" fill="none" stroke="#2b2f32" stroke-width="2.15"/>
<polyline points="781.00,689.30 795.76,689.30 795.96,689.50 810.72,689.50" fill="none" stroke="#2b2f32" stroke-width="2.15"/>
<polygon points="781.00,665.70 795.76,665.70 795.96,665.50 810.72,665.50 811.32,665.50 811.32,678.50 810.72,678.50 795.96,678.50 795.76,678.70 781.00,678.70" fill="#393d40" shape-rendering="crispEdges"/>
<polyline points="781.00,665.70 795.76,665.70 795.96,665.50 810.72,665.50" fill="none" stroke="#2b2f32" stroke-width="2.15"/>
<polyline points="781.00,678.70 795.76,678.70 795.96,678.50 810.72,678.50" fill="none" stroke="#2b2f32" stroke-width="2.15"/>
<polygon points="781.00,636.00 794.86,636.00 796.86,634.00 810.72,634.00 811.32,634.00 811.32,665.50 810.72,665.50 795.96,665.50 795.76,665.70 781.00,665.70" fill="#393d40" shape-rendering="crispEdges"/>
<polyline points="781.00,636.00 794.86,636.00 796.86,634.00 810.72,634.00" fill="none" stroke="#2b2f32" stroke-width="2.15"/>
<polyline points="781.00,665.70 795.76,665.70 795.96,665.50 810.72,665.50" fill="none" stroke="#2b2f32" stroke-width="2.15"/>
<polygon points="781.00,522.50 781.00,522.50 810.72,578.00 810.72,578.00 811.32,578.00 811.32,634.00 810.72,634.00 810.72,634.00 781.00,579.40 781.00,579.40" fill="#393d40" shape-rendering="crispEdges"/>
<polyline points="781.00,522.50 781.00,522.50 810.72,578.00 810.72,578.00" fill="none" stroke="#2b2f32" stroke-width="2.15"/>
<polyline points="781.00,579.40 781.00,579.40 810.72,634.00 810.72,634.00" fill="none" stroke="#2b2f32" stroke-width="2.15"/>
<polygon points="781.00,349.20 781.00,349.20 810.72,432.50 810.72,432.50 811.32,432.50 811.32,519.70 810.72,519.70 810.72,519.70 781.00,436.30 781.00,436.30" fill="#393d40" shape-rendering="crispEdges"/>
<polyline points="781.00,349.20 781.00,349.20 810.72,432.50 810.72,432.50" fill="none" stroke="#2b2f32" stroke-width="2.15"/>
<polyline points="781.00,436.30 781.00,436.30 810.72,519.70 810.72,519.70" fill="none" stroke="#2b2f32" stroke-width="2.15"/>
<polygon points="781.00,436.30 781.00,436.30 810.72,344.70 810.72,344.70 811.32,344.70 811.32,432.50 810.72,432.50 810.72,432.50 781.00,522.50 781.00,522.50" fill="#393d40" shape-rendering="crispEdges"/>
<polyline points="781.00,436.30 781.00,436.30 810.72,344.70 810.72,344.70" fill="none" stroke="#2b2f32" stroke-width="2.15"/>
<polyline points="781.00,522.50 781.00,522.50 810.72,432.50 810.72,432.50" fill="none" stroke="#2b2f32" stroke-width="2.15"/>
<polygon points="781.00,232.10 792.36,232.10 799.36,225.10 810.72,225.10 811.32,225.10 811.32,344.70 810.72,344.70 798.11,344.70 793.61,349.20 781.00,349.20" fill="#393d40" shape-rendering="crispEdges"/>
<polyline points="781.00,232.10 792.36,232.10 799.36,225.10 810.72,225.10" fill="none" stroke="#2b2f32" stroke-width="2.15"/>
<polyline points="781.00,349.20 793.61,349.20 798.11,344.70 810.72,344.70" fill="none" stroke="#2b2f32" stroke-width="2.15"/>
<polygon points="810.72,689.50 825.57,689.50 825.59,689.48 840.44,689.48 841.04,689.48 841.04,697.00 840.44,697.00 810.72,697.00" fill="#393d40" shape-rendering="crispEdges"/>
<polyline points="810.72,689.50 825.57,689.50 825.59,689.48 840.44,689.48" fill="none" stroke="#2b2f32" stroke-width="2.15"/>
<polyline points="810.72,697.00 840.44,697.00" fill="none" stroke="#2b2f32" stroke-width="2.15"/>
<polygon points="810.72,678.50 840.44,678.49 841.04,678.49 841.04,689.48 840.44,689.48 825.59,689.48 825.57,689.50 810.72,689.50" fill="#393d40" shape-rendering="crispEdges"/>
<polyline points="810.72,678.50 840.44,678.49" fill="none" stroke="#2b2f32" stroke-width="2.15"/>
<polyline points="810.72,689.50 825.57,689.50 825.59,689.48 840.44,689.48" fill="none" stroke="#2b2f32" stroke-width="2.15"/>
<polygon points="810.72,665.50 825.54,665.50 825.62,665.58 840.44,665.58 841.04,665.58 841.04,678.49 840.44,678.49 810.72,678.50" fill="#393d40" shape-rendering="crispEdges"/>
<polyline points="810.72,665.50 825.54,665.50 825.62,665.58 840.44,665.58" fill="none" stroke="#2b2f32" stroke-width="2.15"/>
<polyline points="810.72,678.50 840.44,678.49" fill="none" stroke="#2b2f32" stroke-width="2.15"/>
<polygon points="810.72,634.00 825.49,634.00 825.67,634.17 840.44,634.17 841.04,634.17 841.04,665.58 840.44,665.58 825.62,665.58 825.54,665.50 810.72,665.50" fill="#393d40" shape-rendering="crispEdges"/>
<polyline points="810.72,634.00 825.49,634.00 825.67,634.17 840.44,634.17" fill="none" stroke="#2b2f32" stroke-width="2.15"/>
<polyline points="810.72,665.50 825.54,665.50 825.62,665.58 840.44,665.58" fill="none" stroke="#2b2f32" stroke-width="2.15"/>
<polygon points="810.72,578.00 825.49,578.00 825.67,577.83 840.44,577.83 841.04,577.83 841.04,634.17 840.44,634.17 825.67,634.17 825.49,634.00 810.72,634.00" fill="#393d40" shape-rendering="crispEdges"/>
<polyline points="810.72,578.00 825.49,578.00 825.67,577.83 840.44,577.83" fill="none" stroke="#2b2f32" stroke-width="2.15"/>
<polyline points="810.72,634.00 825.49,634.00 825.67,634.17 840.44,634.17" fill="none" stroke="#2b2f32" stroke-width="2.15"/>
<polygon points="810.72,432.50 823.08,432.50 828.08,427.50 840.44,427.50 841.04,427.50 841.04,515.00 840.44,515.00 827.93,515.00 823.23,519.70 810.72,519.70" fill="#393d40" shape-rendering="crispEdges"/>
<polyline points="810.72,432.50 823.08,432.50 828.08,427.50 840.44,427.50" fill="none" stroke="#2b2f32" stroke-width="2.15"/>
<polyline points="810.72,519.70 823.23,519.70 827.93,515.00 840.44,515.00" fill="none" stroke="#2b2f32" stroke-width="2.15"/>
<polygon points="810.72,344.70 822.38,344.70 828.78,338.30 840.44,338.30 841.04,338.30 841.04,427.50 840.44,427.50 828.08,427.50 823.08,432.50 810.72,432.50" fill="#393d40" shape-rendering="crispEdges"/>
<polyline points="810.72,344.70 822.38,344.70 828.78,338.30 840.44,338.30" fill="none" stroke="#2b2f32" stroke-width="2.15"/>
<polyline points="810.72,432.50 823.08,432.50 828.08,427.50 840.44,427.50" fill="none" stroke="#2b2f32" stroke-width="2.15"/>
<polygon points="810.72,225.10 820.53,225.10 830.63,215.00 840.44,215.00 841.04,215.00 841.04,338.30 840.44,338.30 828.78,338.30 822.38,344.70 810.72,344.70" fill="#393d40" shape-rendering="crispEdges"/>
<polyline points="810.72,225.10 820.53,225.10 830.63,215.00 840.44,215.00" fill="none" stroke="#2b2f32" stroke-width="2.15"/>
<polyline points="810.72,344.70 822.38,344.70 828.78,338.30 840.44,338.30" fill="none" stroke="#2b2f32" stroke-width="2.15"/>
<polygon points="840.44,689.48 855.29,689.48 855.31,689.46 870.16,689.46 870.76,689.46 870.76,697.00 870.16,697.00 840.44,697.00" fill="#393d40" shape-rendering="crispEdges"/>
<polyline points="840.44,689.48 855.29,689.48 855.31,689.46 870.16,689.46" fill="none" stroke="#2b2f32" stroke-width="2.15"/>
<polyline points="840.44,697.00 870.16,697.00" fill="none" stroke="#2b2f32" stroke-width="2.15"/>
<polygon points="840.44,678.49 870.16,678.49 870.76,678.49 870.76,689.46 870.16,689.46 855.31,689.46 855.29,689.48 840.44,689.48" fill="#393d40" shape-rendering="crispEdges"/>
<polyline points="840.44,678.49 870.16,678.49" fill="none" stroke="#2b2f32" stroke-width="2.15"/>
<polyline points="840.44,689.48 855.29,689.48 855.31,689.46 870.16,689.46" fill="none" stroke="#2b2f32" stroke-width="2.15"/>
<polygon points="840.44,665.58 855.26,665.58 855.34,665.66 870.16,665.66 870.76,665.66 870.76,678.49 870.16,678.49 840.44,678.49" fill="#393d40" shape-rendering="crispEdges"/>
<polyline points="840.44,665.58 855.26,665.58 855.34,665.66 870.16,665.66" fill="none" stroke="#2b2f32" stroke-width="2.15"/>
<polyline points="840.44,678.49 870.16,678.49" fill="none" stroke="#2b2f32" stroke-width="2.15"/>
<polygon points="840.44,634.17 855.21,634.17 855.39,634.35 870.16,634.35 870.76,634.35 870.76,665.66 870.16,665.66 855.34,665.66 855.26,665.58 840.44,665.58" fill="#393d40" shape-rendering="crispEdges"/>
<polyline points="840.44,634.17 855.21,634.17 855.39,634.35 870.16,634.35" fill="none" stroke="#2b2f32" stroke-width="2.15"/>
<polyline points="840.44,665.58 855.26,665.58 855.34,665.66 870.16,665.66" fill="none" stroke="#2b2f32" stroke-width="2.15"/>
<polygon points="840.44,577.83 855.21,577.83 855.39,577.65 870.16,577.65 870.76,577.65 870.76,634.35 870.16,634.35 855.39,634.35 855.21,634.17 840.44,634.17" fill="#393d40" shape-rendering="crispEdges"/>
<polyline points="840.44,577.83 855.21,577.83 855.39,577.65 870.16,577.65" fill="none" stroke="#2b2f32" stroke-width="2.15"/>
<polyline points="840.44,634.17 855.21,634.17 855.39,634.35 870.16,634.35" fill="none" stroke="#2b2f32" stroke-width="2.15"/>
<polygon points="840.44,427.50 853.45,427.50 857.15,423.80 870.16,423.80 870.76,423.80 870.76,511.30 870.16,511.30 857.15,511.30 853.45,515.00 840.44,515.00" fill="#393d40" shape-rendering="crispEdges"/>
<polyline points="840.44,427.50 853.45,427.50 857.15,423.80 870.16,423.80" fill="none" stroke="#2b2f32" stroke-width="2.15"/>
<polyline points="840.44,515.00 853.45,515.00 857.15,511.30 870.16,511.30" fill="none" stroke="#2b2f32" stroke-width="2.15"/>
<polygon points="840.44,338.30 852.00,338.30 858.60,331.70 870.16,331.70 870.76,331.70 870.76,423.80 870.16,423.80 857.15,423.80 853.45,427.50 840.44,427.50" fill="#393d40" shape-rendering="crispEdges"/>
<polyline points="840.44,338.30 852.00,338.30 858.60,331.70 870.16,331.70" fill="none" stroke="#2b2f32" stroke-width="2.15"/>
<polyline points="840.44,427.50 853.45,427.50 857.15,423.80 870.16,423.80" fill="none" stroke="#2b2f32" stroke-width="2.15"/>
<polygon points="840.44,215.00 850.80,215.00 859.80,206.00 870.16,206.00 870.76,206.00 870.76,331.70 870.16,331.70 858.60,331.70 852.00,338.30 840.44,338.30" fill="#393d40" shape-rendering="crispEdges"/>
<polyline points="840.44,215.00 850.80,215.00 859.80,206.00 870.16,206.00" fill="none" stroke="#2b2f32" stroke-width="2.15"/>
<polyline points="840.44,338.30 852.00,338.30 858.60,331.70 870.16,331.70" fill="none" stroke="#2b2f32" stroke-width="2.15"/>
<polygon points="870.16,689.46 885.01,689.46 885.03,689.44 899.88,689.44 900.48,689.44 900.48,697.00 899.88,697.00 870.16,697.00" fill="#393d40" shape-rendering="crispEdges"/>
<polyline points="870.16,689.46 885.01,689.46 885.03,689.44 899.88,689.44" fill="none" stroke="#2b2f32" stroke-width="2.15"/>
<polyline points="870.16,697.00 899.88,697.00" fill="none" stroke="#2b2f32" stroke-width="2.15"/>
<polygon points="870.16,678.49 899.88,678.48 900.48,678.48 900.48,689.44 899.88,689.44 885.03,689.44 885.01,689.46 870.16,689.46" fill="#393d40" shape-rendering="crispEdges"/>
<polyline points="870.16,678.49 899.88,678.48" fill="none" stroke="#2b2f32" stroke-width="2.15"/>
<polyline points="870.16,689.46 885.01,689.46 885.03,689.44 899.88,689.44" fill="none" stroke="#2b2f32" stroke-width="2.15"/>
<polygon points="870.16,665.66 884.98,665.66 885.06,665.74 899.88,665.74 900.48,665.74 900.48,678.48 899.88,678.48 870.16,678.49" fill="#393d40" shape-rendering="crispEdges"/>
<polyline points="870.16,665.66 884.98,665.66 885.06,665.74 899.88,665.74" fill="none" stroke="#2b2f32" stroke-width="2.15"/>
<polyline points="870.16,678.49 899.88,678.48" fill="none" stroke="#2b2f32" stroke-width="2.15"/>
<polygon points="870.16,634.35 884.93,634.35 885.11,634.53 899.88,634.53 900.48,634.53 900.48,665.74 899.88,665.74 885.06,665.74 884.98,665.66 870.16,665.66" fill="#393d40" shape-rendering="crispEdges"/>
<polyline points="870.16,634.35 884.93,634.35 885.11,634.53 899.88,634.53" fill="none" stroke="#2b2f32" stroke-width="2.15"/>
<polyline points="870.16,665.66 884.98,665.66 885.06,665.74 899.88,665.74" fill="none" stroke="#2b2f32" stroke-width="2.15"/>
<polygon points="870.16,577.65 884.93,577.65 885.11,577.47 899.88,577.47 900.48,577.47 900.48,634.53 899.88,634.53 885.11,634.53 884.93,634.35 870.16,634.35" fill="#393d40" shape-rendering="crispEdges"/>
<polyline points="870.16,577.65 884.93,577.65 885.11,577.47 899.88,577.47" fill="none" stroke="#2b2f32" stroke-width="2.15"/>
<polyline points="870.16,634.35 884.93,634.35 885.11,634.53 899.88,634.53" fill="none" stroke="#2b2f32" stroke-width="2.15"/>
<polygon points="870.16,423.80 883.27,423.80 886.77,420.30 899.88,420.30 900.48,420.30 900.48,508.30 899.88,508.30 886.52,508.30 883.52,511.30 870.16,511.30" fill="#393d40" shape-rendering="crispEdges"/>
<polyline points="870.16,423.80 883.27,423.80 886.77,420.30 899.88,420.30" fill="none" stroke="#2b2f32" stroke-width="2.15"/>
<polyline points="870.16,511.30 883.52,511.30 886.52,508.30 899.88,508.30" fill="none" stroke="#2b2f32" stroke-width="2.15"/>
<polygon points="870.16,331.70 882.67,331.70 887.37,327.00 899.88,327.00 900.48,327.00 900.48,420.30 899.88,420.30 886.77,420.30 883.27,423.80 870.16,423.80" fill="#393d40" shape-rendering="crispEdges"/>
<polyline points="870.16,331.70 882.67,331.70 887.37,327.00 899.88,327.00" fill="none" stroke="#2b2f32" stroke-width="2.15"/>
<polyline points="870.16,423.80 883.27,423.80 886.77,420.30 899.88,420.30" fill="none" stroke="#2b2f32" stroke-width="2.15"/>
<polygon points="870.16,206.00 881.82,206.00 888.22,199.60 899.88,199.60 900.48,199.60 900.48,327.00 899.88,327.00 887.37,327.00 882.67,331.70 870.16,331.70" fill="#393d40" shape-rendering="crispEdges"/>
<polyline points="870.16,206.00 881.82,206.00 888.22,199.60 899.88,199.60" fill="none" stroke="#2b2f32" stroke-width="2.15"/>
<polyline points="870.16,331.70 882.67,331.70 887.37,327.00 899.88,327.00" fill="none" stroke="#2b2f32" stroke-width="2.15"/>
<polygon points="899.88,689.44 914.73,689.44 914.75,689.42 929.60,689.42 930.20,689.42 930.20,697.00 929.60,697.00 899.88,697.00" fill="#393d40" shape-rendering="crispEdges"/>
<polyline points="899.88,689.44 914.73,689.44 914.75,689.42 929.60,689.42" fill="none" stroke="#2b2f32" stroke-width="2.15"/>
<polyline points="899.88,697.00 929.60,697.00" fill="none" stroke="#2b2f32" stroke-width="2.15"/>
<polygon points="899.88,678.48 929.60,678.47 930.20,678.47 930.20,689.42 929.60,689.42 914.75,689.42 914.73,689.44 899.88,689.44" fill="#393d40" shape-rendering="crispEdges"/>
<polyline points="899.88,678.48 929.60,678.47" fill="none" stroke="#2b2f32" stroke-width="2.15"/>
<polyline points="899.88,689.44 914.73,689.44 914.75,689.42 929.60,689.42" fill="none" stroke="#2b2f32" stroke-width="2.15"/>
<polygon points="899.88,665.74 914.70,665.74 914.78,665.82 929.60,665.82 930.20,665.82 930.20,678.47 929.60,678.47 899.88,678.48" fill="#393d40" shape-rendering="crispEdges"/>
<polyline points="899.88,665.74 914.70,665.74 914.78,665.82 929.60,665.82" fill="none" stroke="#2b2f32" stroke-width="2.15"/>
<polyline points="899.88,678.48 929.60,678.47" fill="none" stroke="#2b2f32" stroke-width="2.15"/>
<polygon points="899.88,634.53 914.65,634.53 914.83,634.70 929.60,634.70 930.20,634.70 930.20,665.82 929.60,665.82 914.78,665.82 914.70,665.74 899.88,665.74" fill="#393d40" shape-rendering="crispEdges"/>
<polyline points="899.88,634.53 914.65,634.53 914.83,634.70 929.60,634.70" fill="none" stroke="#2b2f32" stroke-width="2.15"/>
<polyline points="899.88,665.74 914.70,665.74 914.78,665.82 929.60,665.82" fill="none" stroke="#2b2f32" stroke-width="2.15"/>
<polygon points="899.88,577.47 914.65,577.47 914.83,577.30 929.60,577.30 930.20,577.30 930.20,634.70 929.60,634.70 914.83,634.70 914.65,634.53 899.88,634.53" fill="#393d40" shape-rendering="crispEdges"/>
<polyline points="899.88,577.47 914.65,577.47 914.83,577.30 929.60,577.30" fill="none" stroke="#2b2f32" stroke-width="2.15"/>
<polyline points="899.88,634.53 914.65,634.53 914.83,634.70 929.60,634.70" fill="none" stroke="#2b2f32" stroke-width="2.15"/>
<polygon points="899.88,420.30 913.99,420.30 915.49,418.80 929.60,418.80 930.20,418.80 930.20,505.30 929.60,505.30 916.24,505.30 913.24,508.30 899.88,508.30" fill="#393d40" shape-rendering="crispEdges"/>
<polyline points="899.88,420.30 913.99,420.30 915.49,418.80 929.60,418.80" fill="none" stroke="#2b2f32" stroke-width="2.15"/>
<polyline points="899.88,508.30 913.24,508.30 916.24,505.30 929.60,505.30" fill="none" stroke="#2b2f32" stroke-width="2.15"/>
<polygon points="899.88,327.00 913.74,327.00 915.74,325.00 929.60,325.00 930.20,325.00 930.20,418.80 929.60,418.80 915.49,418.80 913.99,420.30 899.88,420.30" fill="#393d40" shape-rendering="crispEdges"/>
<polyline points="899.88,327.00 913.74,327.00 915.74,325.00 929.60,325.00" fill="none" stroke="#2b2f32" stroke-width="2.15"/>
<polyline points="899.88,420.30 913.99,420.30 915.49,418.80 929.60,418.80" fill="none" stroke="#2b2f32" stroke-width="2.15"/>
<polygon points="899.88,199.60 912.94,199.60 916.54,196.00 929.60,196.00 930.20,196.00 930.20,325.00 929.60,325.00 915.74,325.00 913.74,327.00 899.88,327.00" fill="#393d40" shape-rendering="crispEdges"/>
<polyline points="899.88,199.60 912.94,199.60 916.54,196.00 929.60,196.00" fill="none" stroke="#2b2f32" stroke-width="2.15"/>
<polyline points="899.88,327.00 913.74,327.00 915.74,325.00 929.60,325.00" fill="none" stroke="#2b2f32" stroke-width="2.15"/>
<polygon points="929.60,689.42 944.45,689.42 944.47,689.40 959.32,689.40 959.92,689.40 959.92,697.00 959.32,697.00 929.60,697.00" fill="#393d40" shape-rendering="crispEdges"/>
<polyline points="929.60,689.42 944.45,689.42 944.47,689.40 959.32,689.40" fill="none" stroke="#2b2f32" stroke-width="2.15"/>
<polyline points="929.60,697.00 959.32,697.00" fill="none" stroke="#2b2f32" stroke-width="2.15"/>
<polygon points="929.60,678.47 959.32,678.47 959.92,678.47 959.92,689.40 959.32,689.40 944.47,689.40 944.45,689.42 929.60,689.42" fill="#393d40" shape-rendering="crispEdges"/>
<polyline points="929.60,678.47 959.32,678.47" fill="none" stroke="#2b2f32" stroke-width="2.15"/>
<polyline points="929.60,689.42 944.45,689.42 944.47,689.40 959.32,689.40" fill="none" stroke="#2b2f32" stroke-width="2.15"/>
<polygon points="929.60,665.82 944.42,665.82 944.50,665.90 959.32,665.90 959.92,665.90 959.92,678.47 959.32,678.47 929.60,678.47" fill="#393d40" shape-rendering="crispEdges"/>
<polyline points="929.60,665.82 944.42,665.82 944.50,665.90 959.32,665.90" fill="none" stroke="#2b2f32" stroke-width="2.15"/>
<polyline points="929.60,678.47 959.32,678.47" fill="none" stroke="#2b2f32" stroke-width="2.15"/>
<polygon points="929.60,634.70 944.29,634.70 944.63,635.03 959.32,635.03 959.92,635.03 959.92,665.90 959.32,665.90 944.50,665.90 944.42,665.82 929.60,665.82" fill="#393d40" shape-rendering="crispEdges"/>
<polyline points="929.60,634.70 944.29,634.70 944.63,635.03 959.32,635.03" fill="none" stroke="#2b2f32" stroke-width="2.15"/>
<polyline points="929.60,665.82 944.42,665.82 944.50,665.90 959.32,665.90" fill="none" stroke="#2b2f32" stroke-width="2.15"/>
<polygon points="929.60,577.30 944.38,577.30 944.54,577.13 959.32,577.13 959.92,577.13 959.92,635.03 959.32,635.03 944.63,635.03 944.29,634.70 929.60,634.70" fill="#393d40" shape-rendering="crispEdges"/>
<polyline points="929.60,577.30 944.38,577.30 944.54,577.13 959.32,577.13" fill="none" stroke="#2b2f32" stroke-width="2.15"/>
<polyline points="929.60,634.70 944.29,634.70 944.63,635.03 959.32,635.03" fill="none" stroke="#2b2f32" stroke-width="2.15"/>
<polygon points="929.60,418.80 943.66,418.80 945.26,417.20 959.32,417.20 959.92,417.20 959.92,502.00 959.32,502.00 946.11,502.00 942.81,505.30 929.60,505.30" fill="#393d40" shape-rendering="crispEdges"/>
<polyline points="929.60,418.80 943.66,418.80 945.26,417.20 959.32,417.20" fill="none" stroke="#2b2f32" stroke-width="2.15"/>
<polyline points="929.60,505.30 942.81,505.30 946.11,502.00 959.32,502.00" fill="none" stroke="#2b2f32" stroke-width="2.15"/>
<polygon points="929.60,325.00 943.46,325.00 945.46,323.00 959.32,323.00 959.92,323.00 959.92,417.20 959.32,417.20 945.26,417.20 943.66,418.80 929.60,418.80" fill="#393d40" shape-rendering="crispEdges"/>
<polyline points="929.60,325.00 943.46,325.00 945.46,323.00 959.32,323.00" fill="none" stroke="#2b2f32" stroke-width="2.15"/>
<polyline points="929.60,418.80 943.66,418.80 945.26,417.20 959.32,417.20" fill="none" stroke="#2b2f32" stroke-width="2.15"/>
<polygon points="929.60,196.00 942.76,196.00 946.16,192.60 959.32,192.60 959.92,192.60 959.92,323.00 959.32,323.00 945.46,323.00 943.46,325.00 929.60,325.00" fill="#393d40" shape-rendering="crispEdges"/>
<polyline points="929.60,196.00 942.76,196.00 946.16,192.60 959.32,192.60" fill="none" stroke="#2b2f32" stroke-width="2.15"/>
<polyline points="929.60,325.00 943.46,325.00 945.46,323.00 959.32,323.00" fill="none" stroke="#2b2f32" stroke-width="2.15"/>
<polygon points="959.32,689.40 974.17,689.40 974.19,689.38 989.04,689.38 989.64,689.38 989.64,697.00 989.04,697.00 959.32,697.00" fill="#393d40" shape-rendering="crispEdges"/>
<polyline points="959.32,689.40 974.17,689.40 974.19,689.38 989.04,689.38" fill="none" stroke="#2b2f32" stroke-width="2.15"/>
<polyline points="959.32,697.00 989.04,697.00" fill="none" stroke="#2b2f32" stroke-width="2.15"/>
<polygon points="959.32,678.47 989.04,678.46 989.64,678.46 989.64,689.38 989.04,689.38 974.19,689.38 974.17,689.40 959.32,689.40" fill="#393d40" shape-rendering="crispEdges"/>
<polyline points="959.32,678.47 989.04,678.46" fill="none" stroke="#2b2f32" stroke-width="2.15"/>
<polyline points="959.32,689.40 974.17,689.40 974.19,689.38 989.04,689.38" fill="none" stroke="#2b2f32" stroke-width="2.15"/>
<polygon points="959.32,665.90 974.14,665.90 974.22,665.98 989.04,665.98 989.64,665.98 989.64,678.46 989.04,678.46 959.32,678.47" fill="#393d40" shape-rendering="crispEdges"/>
<polyline points="959.32,665.90 974.14,665.90 974.22,665.98 989.04,665.98" fill="none" stroke="#2b2f32" stroke-width="2.15"/>
<polyline points="959.32,678.47 989.04,678.46" fill="none" stroke="#2b2f32" stroke-width="2.15"/>
<polygon points="959.32,635.03 974.01,635.03 974.35,635.37 989.04,635.37 989.64,635.37 989.64,665.98 989.04,665.98 974.22,665.98 974.14,665.90 959.32,665.90" fill="#393d40" shape-rendering="crispEdges"/>
<polyline points="959.32,635.03 974.01,635.03 974.35,635.37 989.04,635.37" fill="none" stroke="#2b2f32" stroke-width="2.15"/>
<polyline points="959.32,665.90 974.14,665.90 974.22,665.98 989.04,665.98" fill="none" stroke="#2b2f32" stroke-width="2.15"/>
<polygon points="959.32,577.13 974.10,577.13 974.26,576.97 989.04,576.97 989.64,576.97 989.64,635.37 989.04,635.37 974.35,635.37 974.01,635.03 959.32,635.03" fill="#393d40" shape-rendering="crispEdges"/>
<polyline points="959.32,577.13 974.10,577.13 974.26,576.97 989.04,576.97" fill="none" stroke="#2b2f32" stroke-width="2.15"/>
<polyline points="959.32,635.03 974.01,635.03 974.35,635.37 989.04,635.37" fill="none" stroke="#2b2f32" stroke-width="2.15"/>
<polygon points="959.32,417.20 973.08,417.20 975.28,415.00 989.04,415.00 989.64,415.00 989.64,499.20 989.04,499.20 975.58,499.20 972.78,502.00 959.32,502.00" fill="#393d40" shape-rendering="crispEdges"/>
<polyline points="959.32,417.20 973.08,417.20 975.28,415.00 989.04,415.00" fill="none" stroke="#2b2f32" stroke-width="2.15"/>
<polyline points="959.32,502.00 972.78,502.00 975.58,499.20 989.04,499.20" fill="none" stroke="#2b2f32" stroke-width="2.15"/>
<polygon points="959.32,323.00 972.68,323.00 975.68,320.00 989.04,320.00 989.64,320.00 989.64,415.00 989.04,415.00 975.28,415.00 973.08,417.20 959.32,417.20" fill="#393d40" shape-rendering="crispEdges"/>
<polyline points="959.32,323.00 972.68,323.00 975.68,320.00 989.04,320.00" fill="none" stroke="#2b2f32" stroke-width="2.15"/>
<polyline points="959.32,417.20 973.08,417.20 975.28,415.00 989.04,415.00" fill="none" stroke="#2b2f32" stroke-width="2.15"/>
<polygon points="959.32,192.60 972.13,192.60 976.23,188.50 989.04,188.50 989.64,188.50 989.64,320.00 989.04,320.00 975.68,320.00 972.68,323.00 959.32,323.00" fill="#393d40" shape-rendering="crispEdges"/>
<polyline points="959.32,192.60 972.13,192.60 976.23,188.50 989.04,188.50" fill="none" stroke="#2b2f32" stroke-width="2.15"/>
<polyline points="959.32,323.00 972.68,323.00 975.68,320.00 989.04,320.00" fill="none" stroke="#2b2f32" stroke-width="2.15"/>
<polygon points="989.04,689.38 1003.89,689.38 1003.91,689.36 1018.76,689.36 1019.36,689.36 1019.36,697.00 1018.76,697.00 989.04,697.00" fill="#393d40" shape-rendering="crispEdges"/>
<polyline points="989.04,689.38 1003.89,689.38 1003.91,689.36 1018.76,689.36" fill="none" stroke="#2b2f32" stroke-width="2.15"/>
<polyline points="989.04,697.00 1018.76,697.00" fill="none" stroke="#2b2f32" stroke-width="2.15"/>
<polygon points="989.04,678.46 1018.76,678.45 1019.36,678.45 1019.36,689.36 1018.76,689.36 1003.91,689.36 1003.89,689.38 989.04,689.38" fill="#393d40" shape-rendering="crispEdges"/>
<polyline points="989.04,678.46 1018.76,678.45" fill="none" stroke="#2b2f32" stroke-width="2.15"/>
<polyline points="989.04,689.38 1003.89,689.38 1003.91,689.36 1018.76,689.36" fill="none" stroke="#2b2f32" stroke-width="2.15"/>
<polygon points="989.04,665.98 1003.86,665.98 1003.94,666.06 1018.76,666.06 1019.36,666.06 1019.36,678.45 1018.76,678.45 989.04,678.46" fill="#393d40" shape-rendering="crispEdges"/>
<polyline points="989.04,665.98 1003.86,665.98 1003.94,666.06 1018.76,666.06" fill="none" stroke="#2b2f32" stroke-width="2.15"/>
<polyline points="989.04,678.46 1018.76,678.45" fill="none" stroke="#2b2f32" stroke-width="2.15"/>
<polygon points="989.04,635.37 1003.73,635.37 1004.07,635.70 1018.76,635.70 1019.36,635.70 1019.36,666.06 1018.76,666.06 1003.94,666.06 1003.86,665.98 989.04,665.98" fill="#393d40" shape-rendering="crispEdges"/>
<polyline points="989.04,635.37 1003.73,635.37 1004.07,635.70 1018.76,635.70" fill="none" stroke="#2b2f32" stroke-width="2.15"/>
<polyline points="989.04,665.98 1003.86,665.98 1003.94,666.06 1018.76,666.06" fill="none" stroke="#2b2f32" stroke-width="2.15"/>
<polygon points="989.04,576.97 1003.82,576.97 1003.98,576.80 1018.76,576.80 1019.36,576.80 1019.36,635.70 1018.76,635.70 1004.07,635.70 1003.73,635.37 989.04,635.37" fill="#393d40" shape-rendering="crispEdges"/>
<polyline points="989.04,576.97 1003.82,576.97 1003.98,576.80 1018.76,576.80" fill="none" stroke="#2b2f32" stroke-width="2.15"/>
<polyline points="989.04,635.37 1003.73,635.37 1004.07,635.70 1018.76,635.70" fill="none" stroke="#2b2f32" stroke-width="2.15"/>
<polygon points="989.04,415.00 1002.65,415.00 1005.15,412.50 1018.76,412.50 1019.36,412.50 1019.36,495.80 1018.76,495.80 1005.60,495.80 1002.20,499.20 989.04,499.20" fill="#393d40" shape-rendering="crispEdges"/>
<polyline points="989.04,415.00 1002.65,415.00 1005.15,412.50 1018.76,412.50" fill="none" stroke="#2b2f32" stroke-width="2.15"/>
<polyline points="989.04,499.20 1002.20,499.20 1005.60,495.80 1018.76,495.80" fill="none" stroke="#2b2f32" stroke-width="2.15"/>
<polygon points="989.04,320.00 1002.15,320.00 1005.65,316.50 1018.76,316.50 1019.36,316.50 1019.36,412.50 1018.76,412.50 1005.15,412.50 1002.65,415.00 989.04,415.00" fill="#393d40" shape-rendering="crispEdges"/>
<polyline points="989.04,320.00 1002.15,320.00 1005.65,316.50 1018.76,316.50" fill="none" stroke="#2b2f32" stroke-width="2.15"/>
<polyline points="989.04,415.00 1002.65,415.00 1005.15,412.50 1018.76,412.50" fill="none" stroke="#2b2f32" stroke-width="2.15"/>
<polygon points="989.04,188.50 1001.80,188.50 1006.00,184.30 1018.76,184.30 1019.36,184.30 1019.36,316.50 1018.76,316.50 1005.65,316.50 1002.15,320.00 989.04,320.00" fill="#393d40" shape-rendering="crispEdges"/>
<polyline points="989.04,188.50 1001.80,188.50 1006.00,184.30 1018.76,184.30" fill="none" stroke="#2b2f32" stroke-width="2.15"/>
<polyline points="989.04,320.00 1002.15,320.00 1005.65,316.50 1018.76,316.50" fill="none" stroke="#2b2f32" stroke-width="2.15"/>
<polygon points="1018.76,689.36 1033.61,689.36 1033.63,689.34 1048.48,689.34 1049.08,689.34 1049.08,697.00 1048.48,697.00 1018.76,697.00" fill="#393d40" shape-rendering="crispEdges"/>
<polyline points="1018.76,689.36 1033.61,689.36 1033.63,689.34 1048.48,689.34" fill="none" stroke="#2b2f32" stroke-width="2.15"/>
<polyline points="1018.76,697.00 1048.48,697.00" fill="none" stroke="#2b2f32" stroke-width="2.15"/>
<polygon points="1018.76,678.45 1048.48,678.45 1049.08,678.45 1049.08,689.34 1048.48,689.34 1033.63,689.34 1033.61,689.36 1018.76,689.36" fill="#393d40" shape-rendering="crispEdges"/>
<polyline points="1018.76,678.45 1048.48,678.45" fill="none" stroke="#2b2f32" stroke-width="2.15"/>
<polyline points="1018.76,689.36 1033.61,689.36 1033.63,689.34 1048.48,689.34" fill="none" stroke="#2b2f32" stroke-width="2.15"/>
<polygon points="1018.76,666.06 1033.58,666.06 1033.66,666.14 1048.48,666.14 1049.08,666.14 1049.08,678.45 1048.48,678.45 1018.76,678.45" fill="#393d40" shape-rendering="crispEdges"/>
<polyline points="1018.76,666.06 1033.58,666.06 1033.66,666.14 1048.48,666.14" fill="none" stroke="#2b2f32" stroke-width="2.15"/>
<polyline points="1018.76,678.45 1048.48,678.45" fill="none" stroke="#2b2f32" stroke-width="2.15"/>
<polygon points="1018.76,635.70 1033.37,635.70 1033.87,636.20 1048.48,636.20 1049.08,636.20 1049.08,666.14 1048.48,666.14 1033.66,666.14 1033.58,666.06 1018.76,666.06" fill="#393d40" shape-rendering="crispEdges"/>
<polyline points="1018.76,635.70 1033.37,635.70 1033.87,636.20 1048.48,636.20" fill="none" stroke="#2b2f32" stroke-width="2.15"/>
<polyline points="1018.76,666.06 1033.58,666.06 1033.66,666.14 1048.48,666.14" fill="none" stroke="#2b2f32" stroke-width="2.15"/>
<polygon points="1018.76,576.80 1033.37,576.80 1033.87,576.30 1048.48,576.30 1049.08,576.30 1049.08,636.20 1048.48,636.20 1033.87,636.20 1033.37,635.70 1018.76,635.70" fill="#393d40" shape-rendering="crispEdges"/>
<polyline points="1018.76,576.80 1033.37,576.80 1033.87,576.30 1048.48,576.30" fill="none" stroke="#2b2f32" stroke-width="2.15"/>
<polyline points="1018.76,635.70 1033.37,635.70 1033.87,636.20 1048.48,636.20" fill="none" stroke="#2b2f32" stroke-width="2.15"/>
<polygon points="1018.76,412.50 1018.76,412.50 1048.48,495.30 1048.48,495.30 1049.08,495.30 1049.08,576.30 1048.48,576.30 1048.48,576.30 1018.76,495.80 1018.76,495.80" fill="#393d40" shape-rendering="crispEdges"/>
<polyline points="1018.76,412.50 1018.76,412.50 1048.48,495.30 1048.48,495.30" fill="none" stroke="#2b2f32" stroke-width="2.15"/>
<polyline points="1018.76,495.80 1018.76,495.80 1048.48,576.30 1048.48,576.30" fill="none" stroke="#2b2f32" stroke-width="2.15"/>
<polygon points="1018.76,316.50 1031.62,316.50 1035.62,312.50 1048.48,312.50 1049.08,312.50 1049.08,410.80 1048.48,410.80 1034.47,410.80 1032.77,412.50 1018.76,412.50" fill="#393d40" shape-rendering="crispEdges"/>
<polyline points="1018.76,316.50 1031.62,316.50 1035.62,312.50 1048.48,312.50" fill="none" stroke="#2b2f32" stroke-width="2.15"/>
<polyline points="1018.76,412.50 1032.77,412.50 1034.47,410.80 1048.48,410.80" fill="none" stroke="#2b2f32" stroke-width="2.15"/>
<polygon points="1018.76,184.30 1031.02,184.30 1036.22,179.10 1048.48,179.10 1049.08,179.10 1049.08,312.50 1048.48,312.50 1035.62,312.50 1031.62,316.50 1018.76,316.50" fill="#393d40" shape-rendering="crispEdges"/>
<polyline points="1018.76,184.30 1031.02,184.30 1036.22,179.10 1048.48,179.10" fill="none" stroke="#2b2f32" stroke-width="2.15"/>
<polyline points="1018.76,316.50 1031.62,316.50 1035.62,312.50 1048.48,312.50" fill="none" stroke="#2b2f32" stroke-width="2.15"/>
<polygon points="1048.48,689.34 1063.33,689.34 1063.35,689.32 1078.20,689.32 1078.80,689.32 1078.80,697.00 1078.20,697.00 1048.48,697.00" fill="#393d40" shape-rendering="crispEdges"/>
<polyline points="1048.48,689.34 1063.33,689.34 1063.35,689.32 1078.20,689.32" fill="none" stroke="#2b2f32" stroke-width="2.15"/>
<polyline points="1048.48,697.00 1078.20,697.00" fill="none" stroke="#2b2f32" stroke-width="2.15"/>
<polygon points="1048.48,678.45 1078.20,678.44 1078.80,678.44 1078.80,689.32 1078.20,689.32 1063.35,689.32 1063.33,689.34 1048.48,689.34" fill="#393d40" shape-rendering="crispEdges"/>
<polyline points="1048.48,678.45 1078.20,678.44" fill="none" stroke="#2b2f32" stroke-width="2.15"/>
<polyline points="1048.48,689.34 1063.33,689.34 1063.35,689.32 1078.20,689.32" fill="none" stroke="#2b2f32" stroke-width="2.15"/>
<polygon points="1048.48,666.14 1063.30,666.14 1063.38,666.22 1078.20,666.22 1078.80,666.22 1078.80,678.44 1078.20,678.44 1048.48,678.45" fill="#393d40" shape-rendering="crispEdges"/>
<polyline points="1048.48,666.14 1063.30,666.14 1063.38,666.22 1078.20,666.22" fill="none" stroke="#2b2f32" stroke-width="2.15"/>
<polyline points="1048.48,678.45 1078.20,678.44" fill="none" stroke="#2b2f32" stroke-width="2.15"/>
<polygon points="1048.48,636.20 1063.09,636.20 1063.59,636.70 1078.20,636.70 1078.80,636.70 1078.80,666.22 1078.20,666.22 1063.38,666.22 1063.30,666.14 1048.48,666.14" fill="#393d40" shape-rendering="crispEdges"/>
<polyline points="1048.48,636.20 1063.09,636.20 1063.59,636.70 1078.20,636.70" fill="none" stroke="#2b2f32" stroke-width="2.15"/>
<polyline points="1048.48,666.14 1063.30,666.14 1063.38,666.22 1078.20,666.22" fill="none" stroke="#2b2f32" stroke-width="2.15"/>
<polygon points="1048.48,576.30 1063.19,576.30 1063.49,576.00 1078.20,576.00 1078.80,576.00 1078.80,636.70 1078.20,636.70 1063.59,636.70 1063.09,636.20 1048.48,636.20" fill="#393d40" shape-rendering="crispEdges"/>
<polyline points="1048.48,576.30 1063.19,576.30 1063.49,576.00 1078.20,576.00" fill="none" stroke="#2b2f32" stroke-width="2.15"/>
<polyline points="1048.48,636.20 1063.09,636.20 1063.59,636.70 1078.20,636.70" fill="none" stroke="#2b2f32" stroke-width="2.15"/>
<polygon points="1048.48,495.30 1063.24,495.30 1063.44,495.50 1078.20,495.50 1078.80,495.50 1078.80,576.00 1078.20,576.00 1063.49,576.00 1063.19,576.30 1048.48,576.30" fill="#393d40" shape-rendering="crispEdges"/>
<polyline points="1048.48,495.30 1063.24,495.30 1063.44,495.50 1078.20,495.50" fill="none" stroke="#2b2f32" stroke-width="2.15"/>
<polyline points="1048.48,576.30 1063.19,576.30 1063.49,576.00 1078.20,576.00" fill="none" stroke="#2b2f32" stroke-width="2.15"/>
<polygon points="1048.48,312.50 1061.24,312.50 1065.44,308.30 1078.20,308.30 1078.80,308.30 1078.80,406.70 1078.20,406.70 1065.39,406.70 1061.29,410.80 1048.48,410.80" fill="#393d40" shape-rendering="crispEdges"/>
<polyline points="1048.48,312.50 1061.24,312.50 1065.44,308.30 1078.20,308.30" fill="none" stroke="#2b2f32" stroke-width="2.15"/>
<polyline points="1048.48,410.80 1061.29,410.80 1065.39,406.70 1078.20,406.70" fill="none" stroke="#2b2f32" stroke-width="2.15"/>
<polygon points="1048.48,179.10 1060.44,179.10 1066.24,173.30 1078.20,173.30 1078.80,173.30 1078.80,308.30 1078.20,308.30 1065.44,308.30 1061.24,312.50 1048.48,312.50" fill="#393d40" shape-rendering="crispEdges"/>
<polyline points="1048.48,179.10 1060.44,179.10 1066.24,173.30 1078.20,173.30" fill="none" stroke="#2b2f32" stroke-width="2.15"/>
<polyline points="1048.48,312.50 1061.24,312.50 1065.44,308.30 1078.20,308.30" fill="none" stroke="#2b2f32" stroke-width="2.15"/>
<polygon points="1078.20,689.32 1093.05,689.32 1093.07,689.30 1107.92,689.30 1108.52,689.30 1108.52,697.00 1107.92,697.00 1078.20,697.00" fill="#393d40" shape-rendering="crispEdges"/>
<polyline points="1078.20,689.32 1093.05,689.32 1093.07,689.30 1107.92,689.30" fill="none" stroke="#2b2f32" stroke-width="2.15"/>
<polyline points="1078.20,697.00 1107.92,697.00" fill="none" stroke="#2b2f32" stroke-width="2.15"/>
<polygon points="1078.20,678.44 1107.92,678.43 1108.52,678.43 1108.52,689.30 1107.92,689.30 1093.07,689.30 1093.05,689.32 1078.20,689.32" fill="#393d40" shape-rendering="crispEdges"/>
<polyline points="1078.20,678.44 1107.92,678.43" fill="none" stroke="#2b2f32" stroke-width="2.15"/>
<polyline points="1078.20,689.32 1093.05,689.32 1093.07,689.30 1107.92,689.30" fill="none" stroke="#2b2f32" stroke-width="2.15"/>
<polygon points="1078.20,666.22 1093.02,666.22 1093.10,666.30 1107.92,666.30 1108.52,666.30 1108.52,678.43 1107.92,678.43 1078.20,678.44" fill="#393d40" shape-rendering="crispEdges"/>
<polyline points="1078.20,666.22 1093.02,666.22 1093.10,666.30 1107.92,666.30" fill="none" stroke="#2b2f32" stroke-width="2.15"/>
<polyline points="1078.20,678.44 1107.92,678.43" fill="none" stroke="#2b2f32" stroke-width="2.15"/>
<polygon points="1078.20,636.70 1092.89,636.70 1093.23,637.03 1107.92,637.03 1108.52,637.03 1108.52,666.30 1107.92,666.30 1093.10,666.30 1093.02,666.22 1078.20,666.22" fill="#393d40" shape-rendering="crispEdges"/>
<polyline points="1078.20,636.70 1092.89,636.70 1093.23,637.03 1107.92,637.03" fill="none" stroke="#2b2f32" stroke-width="2.15"/>
<polyline points="1078.20,666.22 1093.02,666.22 1093.10,666.30 1107.92,666.30" fill="none" stroke="#2b2f32" stroke-width="2.15"/>
<polygon points="1078.20,576.00 1092.91,576.00 1093.21,575.70 1107.92,575.70 1108.52,575.70 1108.52,637.03 1107.92,637.03 1093.23,637.03 1092.89,636.70 1078.20,636.70" fill="#393d40" shape-rendering="crispEdges"/>
<polyline points="1078.20,576.00 1092.91,576.00 1093.21,575.70 1107.92,575.70" fill="none" stroke="#2b2f32" stroke-width="2.15"/>
<polyline points="1078.20,636.70 1092.89,636.70 1093.23,637.03 1107.92,637.03" fill="none" stroke="#2b2f32" stroke-width="2.15"/>
<polygon points="1078.20,495.50 1092.91,495.50 1093.21,495.80 1107.92,495.80 1108.52,495.80 1108.52,575.70 1107.92,575.70 1093.21,575.70 1092.91,576.00 1078.20,576.00" fill="#393d40" shape-rendering="crispEdges"/>
<polyline points="1078.20,495.50 1092.91,495.50 1093.21,495.80 1107.92,495.80" fill="none" stroke="#2b2f32" stroke-width="2.15"/>
<polyline points="1078.20,576.00 1092.91,576.00 1093.21,575.70 1107.92,575.70" fill="none" stroke="#2b2f32" stroke-width="2.15"/>
<polygon points="1078.20,308.30 1090.16,308.30 1095.96,302.50 1107.92,302.50 1108.52,302.50 1108.52,403.00 1107.92,403.00 1094.91,403.00 1091.21,406.70 1078.20,406.70" fill="#393d40" shape-rendering="crispEdges"/>
<polyline points="1078.20,308.30 1090.16,308.30 1095.96,302.50 1107.92,302.50" fill="none" stroke="#2b2f32" stroke-width="2.15"/>
<polyline points="1078.20,406.70 1091.21,406.70 1094.91,403.00 1107.92,403.00" fill="none" stroke="#2b2f32" stroke-width="2.15"/>
<polygon points="1078.20,173.30 1089.16,173.30 1096.96,165.50 1107.92,165.50 1108.52,165.50 1108.52,302.50 1107.92,302.50 1095.96,302.50 1090.16,308.30 1078.20,308.30" fill="#393d40" shape-rendering="crispEdges"/>
<polyline points="1078.20,173.30 1089.16,173.30 1096.96,165.50 1107.92,165.50" fill="none" stroke="#2b2f32" stroke-width="2.15"/>
<polyline points="1078.20,308.30 1090.16,308.30 1095.96,302.50 1107.92,302.50" fill="none" stroke="#2b2f32" stroke-width="2.15"/>
<polygon points="1107.92,689.30 1122.77,689.30 1122.79,689.28 1137.64,689.28 1138.24,689.28 1138.24,697.00 1137.64,697.00 1107.92,697.00" fill="#393d40" shape-rendering="crispEdges"/>
<polyline points="1107.92,689.30 1122.77,689.30 1122.79,689.28 1137.64,689.28" fill="none" stroke="#2b2f32" stroke-width="2.15"/>
<polyline points="1107.92,697.00 1137.64,697.00" fill="none" stroke="#2b2f32" stroke-width="2.15"/>
<polygon points="1107.92,678.43 1137.64,678.43 1138.24,678.43 1138.24,689.28 1137.64,689.28 1122.79,689.28 1122.77,689.30 1107.92,689.30" fill="#393d40" shape-rendering="crispEdges"/>
<polyline points="1107.92,678.43 1137.64,678.43" fill="none" stroke="#2b2f32" stroke-width="2.15"/>
<polyline points="1107.92,689.30 1122.77,689.30 1122.79,689.28 1137.64,689.28" fill="none" stroke="#2b2f32" stroke-width="2.15"/>
<polygon points="1107.92,666.30 1122.74,666.30 1122.82,666.38 1137.64,666.38 1138.24,666.38 1138.24,678.43 1137.64,678.43 1107.92,678.43" fill="#393d40" shape-rendering="crispEdges"/>
<polyline points="1107.92,666.30 1122.74,666.30 1122.82,666.38 1137.64,666.38" fill="none" stroke="#2b2f32" stroke-width="2.15"/>
<polyline points="1107.92,678.43 1137.64,678.43" fill="none" stroke="#2b2f32" stroke-width="2.15"/>
<polygon points="1107.92,637.03 1122.61,637.03 1122.95,637.37 1137.64,637.37 1138.24,637.37 1138.24,666.38 1137.64,666.38 1122.82,666.38 1122.74,666.30 1107.92,666.30" fill="#393d40" shape-rendering="crispEdges"/>
<polyline points="1107.92,637.03 1122.61,637.03 1122.95,637.37 1137.64,637.37" fill="none" stroke="#2b2f32" stroke-width="2.15"/>
<polyline points="1107.92,666.30 1122.74,666.30 1122.82,666.38 1137.64,666.38" fill="none" stroke="#2b2f32" stroke-width="2.15"/>
<polygon points="1107.92,575.70 1122.65,575.70 1122.90,575.45 1137.64,575.45 1138.24,575.45 1138.24,637.37 1137.64,637.37 1122.95,637.37 1122.61,637.03 1107.92,637.03" fill="#393d40" shape-rendering="crispEdges"/>
<polyline points="1107.92,575.70 1122.65,575.70 1122.90,575.45 1137.64,575.45" fill="none" stroke="#2b2f32" stroke-width="2.15"/>
<polyline points="1107.92,637.03 1122.61,637.03 1122.95,637.37 1137.64,637.37" fill="none" stroke="#2b2f32" stroke-width="2.15"/>
<polygon points="1107.92,495.80 1122.68,495.80 1122.88,496.00 1137.64,496.00 1138.24,496.00 1138.24,575.45 1137.64,575.45 1122.90,575.45 1122.65,575.70 1107.92,575.70" fill="#393d40" shape-rendering="crispEdges"/>
<polyline points="1107.92,495.80 1122.68,495.80 1122.88,496.00 1137.64,496.00" fill="none" stroke="#2b2f32" stroke-width="2.15"/>
<polyline points="1107.92,575.70 1122.65,575.70 1122.90,575.45 1137.64,575.45" fill="none" stroke="#2b2f32" stroke-width="2.15"/>
<polygon points="1107.92,302.50 1119.88,302.50 1125.68,296.70 1137.64,296.70 1138.24,296.70 1138.24,398.30 1137.64,398.30 1125.13,398.30 1120.43,403.00 1107.92,403.00" fill="#393d40" shape-rendering="crispEdges"/>
<polyline points="1107.92,302.50 1119.88,302.50 1125.68,296.70 1137.64,296.70" fill="none" stroke="#2b2f32" stroke-width="2.15"/>
<polyline points="1107.92,403.00 1120.43,403.00 1125.13,398.30 1137.64,398.30" fill="none" stroke="#2b2f32" stroke-width="2.15"/>
<polygon points="1107.92,165.50 1119.03,165.50 1126.53,158.00 1137.64,158.00 1138.24,158.00 1138.24,296.70 1137.64,296.70 1125.68,296.70 1119.88,302.50 1107.92,302.50" fill="#393d40" shape-rendering="crispEdges"/>
<polyline points="1107.92,165.50 1119.03,165.50 1126.53,158.00 1137.64,158.00" fill="none" stroke="#2b2f32" stroke-width="2.15"/>
<polyline points="1107.92,302.50 1119.88,302.50 1125.68,296.70 1137.64,296.70" fill="none" stroke="#2b2f32" stroke-width="2.15"/>
<polygon points="1137.64,689.28 1152.49,689.28 1152.51,689.26 1167.36,689.26 1167.96,689.26 1167.96,697.00 1167.36,697.00 1137.64,697.00" fill="#393d40" shape-rendering="crispEdges"/>
<polyline points="1137.64,689.28 1152.49,689.28 1152.51,689.26 1167.36,689.26" fill="none" stroke="#2b2f32" stroke-width="2.15"/>
<polyline points="1137.64,697.00 1167.36,697.00" fill="none" stroke="#2b2f32" stroke-width="2.15"/>
<polygon points="1137.64,678.43 1167.36,678.42 1167.96,678.42 1167.96,689.26 1167.36,689.26 1152.51,689.26 1152.49,689.28 1137.64,689.28" fill="#393d40" shape-rendering="crispEdges"/>
<polyline points="1137.64,678.43 1167.36,678.42" fill="none" stroke="#2b2f32" stroke-width="2.15"/>
<polyline points="1137.64,689.28 1152.49,689.28 1152.51,689.26 1167.36,689.26" fill="none" stroke="#2b2f32" stroke-width="2.15"/>
<polygon points="1137.64,666.38 1152.46,666.38 1152.54,666.46 1167.36,666.46 1167.96,666.46 1167.96,678.42 1167.36,678.42 1137.64,678.43" fill="#393d40" shape-rendering="crispEdges"/>
<polyline points="1137.64,666.38 1152.46,666.38 1152.54,666.46 1167.36,666.46" fill="none" stroke="#2b2f32" stroke-width="2.15"/>
<polyline points="1137.64,678.43 1167.36,678.42" fill="none" stroke="#2b2f32" stroke-width="2.15"/>
<polygon points="1137.64,637.37 1152.33,637.37 1152.67,637.70 1167.36,637.70 1167.96,637.70 1167.96,666.46 1167.36,666.46 1152.54,666.46 1152.46,666.38 1137.64,666.38" fill="#393d40" shape-rendering="crispEdges"/>
<polyline points="1137.64,637.37 1152.33,637.37 1152.67,637.70 1167.36,637.70" fill="none" stroke="#2b2f32" stroke-width="2.15"/>
<polyline points="1137.64,666.38 1152.46,666.38 1152.54,666.46 1167.36,666.46" fill="none" stroke="#2b2f32" stroke-width="2.15"/>
<polygon points="1137.64,575.45 1152.38,575.45 1152.62,575.20 1167.36,575.20 1167.96,575.20 1167.96,637.70 1167.36,637.70 1152.67,637.70 1152.33,637.37 1137.64,637.37" fill="#393d40" shape-rendering="crispEdges"/>
<polyline points="1137.64,575.45 1152.38,575.45 1152.62,575.20 1167.36,575.20" fill="none" stroke="#2b2f32" stroke-width="2.15"/>
<polyline points="1137.64,637.37 1152.33,637.37 1152.67,637.70 1167.36,637.70" fill="none" stroke="#2b2f32" stroke-width="2.15"/>
<polygon points="1137.64,496.00 1152.35,496.00 1152.65,496.30 1167.36,496.30 1167.96,496.30 1167.96,575.20 1167.36,575.20 1152.62,575.20 1152.38,575.45 1137.64,575.45" fill="#393d40" shape-rendering="crispEdges"/>
<polyline points="1137.64,496.00 1152.35,496.00 1152.65,496.30 1167.36,496.30" fill="none" stroke="#2b2f32" stroke-width="2.15"/>
<polyline points="1137.64,575.45 1152.38,575.45 1152.62,575.20 1167.36,575.20" fill="none" stroke="#2b2f32" stroke-width="2.15"/>
<polygon points="1137.64,296.70 1149.55,296.70 1155.45,290.80 1167.36,290.80 1167.96,290.80 1167.96,393.30 1167.36,393.30 1155.00,393.30 1150.00,398.30 1137.64,398.30" fill="#393d40" shape-rendering="crispEdges"/>
<polyline points="1137.64,296.70 1149.55,296.70 1155.45,290.80 1167.36,290.80" fill="none" stroke="#2b2f32" stroke-width="2.15"/>
<polyline points="1137.64,398.30 1150.00,398.30 1155.00,393.30 1167.36,393.30" fill="none" stroke="#2b2f32" stroke-width="2.15"/>
<polygon points="1137.64,158.00 1148.30,158.00 1156.70,149.60 1167.36,149.60 1167.96,149.60 1167.96,290.80 1167.36,290.80 1155.45,290.80 1149.55,296.70 1137.64,296.70" fill="#393d40" shape-rendering="crispEdges"/>
<polyline points="1137.64,158.00 1148.30,158.00 1156.70,149.60 1167.36,149.60" fill="none" stroke="#2b2f32" stroke-width="2.15"/>
<polyline points="1137.64,296.70 1149.55,296.70 1155.45,290.80 1167.36,290.80" fill="none" stroke="#2b2f32" stroke-width="2.15"/>
<polygon points="1167.36,689.26 1182.21,689.26 1182.23,689.24 1197.08,689.24 1197.68,689.24 1197.68,697.00 1197.08,697.00 1167.36,697.00" fill="#393d40" shape-rendering="crispEdges"/>
<polyline points="1167.36,689.26 1182.21,689.26 1182.23,689.24 1197.08,689.24" fill="none" stroke="#2b2f32" stroke-width="2.15"/>
<polyline points="1167.36,697.00 1197.08,697.00" fill="none" stroke="#2b2f32" stroke-width="2.15"/>
<polygon points="1167.36,678.42 1197.08,678.41 1197.68,678.41 1197.68,689.24 1197.08,689.24 1182.23,689.24 1182.21,689.26 1167.36,689.26" fill="#393d40" shape-rendering="crispEdges"/>
<polyline points="1167.36,678.42 1197.08,678.41" fill="none" stroke="#2b2f32" stroke-width="2.15"/>
<polyline points="1167.36,689.26 1182.21,689.26 1182.23,689.24 1197.08,689.24" fill="none" stroke="#2b2f32" stroke-width="2.15"/>
<polygon points="1167.36,666.46 1182.18,666.46 1182.26,666.54 1197.08,666.54 1197.68,666.54 1197.68,678.41 1197.08,678.41 1167.36,678.42" fill="#393d40" shape-rendering="crispEdges"/>
<polyline points="1167.36,666.46 1182.18,666.46 1182.26,666.54 1197.08,666.54" fill="none" stroke="#2b2f32" stroke-width="2.15"/>
<polyline points="1167.36,678.42 1197.08,678.41" fill="none" stroke="#2b2f32" stroke-width="2.15"/>
<polygon points="1167.36,637.70 1182.05,637.70 1182.39,638.03 1197.08,638.03 1197.68,638.03 1197.68,666.54 1197.08,666.54 1182.26,666.54 1182.18,666.46 1167.36,666.46" fill="#393d40" shape-rendering="crispEdges"/>
<polyline points="1167.36,637.70 1182.05,637.70 1182.39,638.03 1197.08,638.03" fill="none" stroke="#2b2f32" stroke-width="2.15"/>
<polyline points="1167.36,666.46 1182.18,666.46 1182.26,666.54 1197.08,666.54" fill="none" stroke="#2b2f32" stroke-width="2.15"/>
<polygon points="1167.36,575.20 1182.17,575.20 1182.27,575.30 1197.08,575.30 1197.68,575.30 1197.68,638.03 1197.08,638.03 1182.39,638.03 1182.05,637.70 1167.36,637.70" fill="#393d40" shape-rendering="crispEdges"/>
<polyline points="1167.36,575.20 1182.17,575.20 1182.27,575.30 1197.08,575.30" fill="none" stroke="#2b2f32" stroke-width="2.15"/>
<polyline points="1167.36,637.70 1182.05,637.70 1182.39,638.03 1197.08,638.03" fill="none" stroke="#2b2f32" stroke-width="2.15"/>
<polygon points="1167.36,496.30 1181.97,496.30 1182.47,495.80 1197.08,495.80 1197.68,495.80 1197.68,575.30 1197.08,575.30 1182.27,575.30 1182.17,575.20 1167.36,575.20" fill="#393d40" shape-rendering="crispEdges"/>
<polyline points="1167.36,496.30 1181.97,496.30 1182.47,495.80 1197.08,495.80" fill="none" stroke="#2b2f32" stroke-width="2.15"/>
<polyline points="1167.36,575.20 1182.17,575.20 1182.27,575.30 1197.08,575.30" fill="none" stroke="#2b2f32" stroke-width="2.15"/>
<polygon points="1167.36,290.80 1167.36,290.80 1197.08,392.50 1197.08,392.50 1197.68,392.50 1197.68,495.80 1197.08,495.80 1197.08,495.80 1167.36,393.30 1167.36,393.30" fill="#393d40" shape-rendering="crispEdges"/>
<polyline points="1167.36,290.80 1167.36,290.80 1197.08,392.50 1197.08,392.50" fill="none" stroke="#2b2f32" stroke-width="2.15"/>
<polyline points="1167.36,393.30 1167.36,393.30 1197.08,495.80 1197.08,495.80" fill="none" stroke="#2b2f32" stroke-width="2.15"/>
<polygon points="1167.36,149.60 1177.82,149.60 1186.62,140.80 1197.08,140.80 1197.68,140.80 1197.68,283.75 1197.08,283.75 1185.74,283.75 1178.69,290.80 1167.36,290.80" fill="#393d40" shape-rendering="crispEdges"/>
<polyline points="1167.36,149.60 1177.82,149.60 1186.62,140.80 1197.08,140.80" fill="none" stroke="#2b2f32" stroke-width="2.15"/>
<polyline points="1167.36,290.80 1178.69,290.80 1185.74,283.75 1197.08,283.75" fill="none" stroke="#2b2f32" stroke-width="2.15"/>
<polygon points="1197.08,689.24 1211.93,689.24 1211.95,689.22 1226.80,689.22 1227.40,689.22 1227.40,697.00 1226.80,697.00 1197.08,697.00" fill="#393d40" shape-rendering="crispEdges"/>
<polyline points="1197.08,689.24 1211.93,689.24 1211.95,689.22 1226.80,689.22" fill="none" stroke="#2b2f32" stroke-width="2.15"/>
<polyline points="1197.08,697.00 1226.80,697.00" fill="none" stroke="#2b2f32" stroke-width="2.15"/>
<polygon points="1197.08,678.41 1226.80,678.41 1227.40,678.41 1227.40,689.22 1226.80,689.22 1211.95,689.22 1211.93,689.24 1197.08,689.24" fill="#393d40" shape-rendering="crispEdges"/>
<polyline points="1197.08,678.41 1226.80,678.41" fill="none" stroke="#2b2f32" stroke-width="2.15"/>
<polyline points="1197.08,689.24 1211.93,689.24 1211.95,689.22 1226.80,689.22" fill="none" stroke="#2b2f32" stroke-width="2.15"/>
<polygon points="1197.08,666.54 1211.90,666.54 1211.98,666.62 1226.80,666.62 1227.40,666.62 1227.40,678.41 1226.80,678.41 1197.08,678.41" fill="#393d40" shape-rendering="crispEdges"/>
<polyline points="1197.08,666.54 1211.90,666.54 1211.98,666.62 1226.80,666.62" fill="none" stroke="#2b2f32" stroke-width="2.15"/>
<polyline points="1197.08,678.41 1226.80,678.41" fill="none" stroke="#2b2f32" stroke-width="2.15"/>
<polygon points="1197.08,638.03 1211.77,638.03 1212.11,638.37 1226.80,638.37 1227.40,638.37 1227.40,666.62 1226.80,666.62 1211.98,666.62 1211.90,666.54 1197.08,666.54" fill="#393d40" shape-rendering="crispEdges"/>
<polyline points="1197.08,638.03 1211.77,638.03 1212.11,638.37 1226.80,638.37" fill="none" stroke="#2b2f32" stroke-width="2.15"/>
<polyline points="1197.08,666.54 1211.90,666.54 1211.98,666.62 1226.80,666.62" fill="none" stroke="#2b2f32" stroke-width="2.15"/>
<polygon points="1197.08,575.30 1211.89,575.30 1211.99,575.40 1226.80,575.40 1227.40,575.40 1227.40,638.37 1226.80,638.37 1212.11,638.37 1211.77,638.03 1197.08,638.03" fill="#393d40" shape-rendering="crispEdges"/>
<polyline points="1197.08,575.30 1211.89,575.30 1211.99,575.40 1226.80,575.40" fill="none" stroke="#2b2f32" stroke-width="2.15"/>
<polyline points="1197.08,638.03 1211.77,638.03 1212.11,638.37 1226.80,638.37" fill="none" stroke="#2b2f32" stroke-width="2.15"/>
<polygon points="1197.08,495.80 1211.75,495.80 1212.13,496.18 1226.80,496.18 1227.40,496.18 1227.40,575.40 1226.80,575.40 1211.99,575.40 1211.89,575.30 1197.08,575.30" fill="#393d40" shape-rendering="crispEdges"/>
<polyline points="1197.08,495.80 1211.75,495.80 1212.13,496.18 1226.80,496.18" fill="none" stroke="#2b2f32" stroke-width="2.15"/>
<polyline points="1197.08,575.30 1211.89,575.30 1211.99,575.40 1226.80,575.40" fill="none" stroke="#2b2f32" stroke-width="2.15"/>
<polygon points="1197.08,392.50 1211.09,392.50 1212.79,390.80 1226.80,390.80 1227.40,390.80 1227.40,496.18 1226.80,496.18 1212.13,496.18 1211.75,495.80 1197.08,495.80" fill="#393d40" shape-rendering="crispEdges"/>
<polyline points="1197.08,392.50 1211.09,392.50 1212.79,390.80 1226.80,390.80" fill="none" stroke="#2b2f32" stroke-width="2.15"/>
<polyline points="1197.08,495.80 1211.75,495.80 1212.13,496.18 1226.80,496.18" fill="none" stroke="#2b2f32" stroke-width="2.15"/>
<polygon points="1197.08,140.80 1207.69,140.80 1216.19,132.30 1226.80,132.30 1227.40,132.30 1227.40,277.00 1226.80,277.00 1215.32,277.00 1208.57,283.75 1197.08,283.75" fill="#393d40" shape-rendering="crispEdges"/>
<polyline points="1197.08,140.80 1207.69,140.80 1216.19,132.30 1226.80,132.30" fill="none" stroke="#2b2f32" stroke-width="2.15"/>
<polyline points="1197.08,283.75 1208.57,283.75 1215.32,277.00 1226.80,277.00" fill="none" stroke="#2b2f32" stroke-width="2.15"/>
<polygon points="1226.80,689.22 1241.65,689.22 1241.67,689.20 1256.52,689.20 1257.12,689.20 1257.12,697.00 1256.52,697.00 1226.80,697.00" fill="#393d40" shape-rendering="crispEdges"/>
<polyline points="1226.80,689.22 1241.65,689.22 1241.67,689.20 1256.52,689.20" fill="none" stroke="#2b2f32" stroke-width="2.15"/>
<polyline points="1226.80,697.00 1256.52,697.00" fill="none" stroke="#2b2f32" stroke-width="2.15"/>
<polygon points="1226.80,678.41 1256.52,678.40 1257.12,678.40 1257.12,689.20 1256.52,689.20 1241.67,689.20 1241.65,689.22 1226.80,689.22" fill="#393d40" shape-rendering="crispEdges"/>
<polyline points="1226.80,678.41 1256.52,678.40" fill="none" stroke="#2b2f32" stroke-width="2.15"/>
<polyline points="1226.80,689.22 1241.65,689.22 1241.67,689.20 1256.52,689.20" fill="none" stroke="#2b2f32" stroke-width="2.15"/>
<polygon points="1226.80,666.62 1241.62,666.62 1241.70,666.70 1256.52,666.70 1257.12,666.70 1257.12,678.40 1256.52,678.40 1226.80,678.41" fill="#393d40" shape-rendering="crispEdges"/>
<polyline points="1226.80,666.62 1241.62,666.62 1241.70,666.70 1256.52,666.70" fill="none" stroke="#2b2f32" stroke-width="2.15"/>
<polyline points="1226.80,678.41 1256.52,678.40" fill="none" stroke="#2b2f32" stroke-width="2.15"/>
<polygon points="1226.80,638.37 1241.49,638.37 1241.83,638.70 1256.52,638.70 1257.12,638.70 1257.12,666.70 1256.52,666.70 1241.70,666.70 1241.62,666.62 1226.80,666.62" fill="#393d40" shape-rendering="crispEdges"/>
<polyline points="1226.80,638.37 1241.49,638.37 1241.83,638.70 1256.52,638.70" fill="none" stroke="#2b2f32" stroke-width="2.15"/>
<polyline points="1226.80,666.62 1241.62,666.62 1241.70,666.70 1256.52,666.70" fill="none" stroke="#2b2f32" stroke-width="2.15"/>
<polygon points="1226.80,575.40 1241.61,575.40 1241.71,575.50 1256.52,575.50 1257.12,575.50 1257.12,638.70 1256.52,638.70 1241.83,638.70 1241.49,638.37 1226.80,638.37" fill="#393d40" shape-rendering="crispEdges"/>
<polyline points="1226.80,575.40 1241.61,575.40 1241.71,575.50 1256.52,575.50" fill="none" stroke="#2b2f32" stroke-width="2.15"/>
<polyline points="1226.80,638.37 1241.49,638.37 1241.83,638.70 1256.52,638.70" fill="none" stroke="#2b2f32" stroke-width="2.15"/>
<polygon points="1226.80,496.18 1241.47,496.18 1241.85,496.56 1256.52,496.56 1257.12,496.56 1257.12,575.50 1256.52,575.50 1241.71,575.50 1241.61,575.40 1226.80,575.40" fill="#393d40" shape-rendering="crispEdges"/>
<polyline points="1226.80,496.18 1241.47,496.18 1241.85,496.56 1256.52,496.56" fill="none" stroke="#2b2f32" stroke-width="2.15"/>
<polyline points="1226.80,575.40 1241.61,575.40 1241.71,575.50 1256.52,575.50" fill="none" stroke="#2b2f32" stroke-width="2.15"/>
<polygon points="1226.80,390.80 1241.11,390.80 1242.21,389.70 1256.52,389.70 1257.12,389.70 1257.12,496.56 1256.52,496.56 1241.85,496.56 1241.47,496.18 1226.80,496.18" fill="#393d40" shape-rendering="crispEdges"/>
<polyline points="1226.80,390.80 1241.11,390.80 1242.21,389.70 1256.52,389.70" fill="none" stroke="#2b2f32" stroke-width="2.15"/>
<polyline points="1226.80,496.18 1241.47,496.18 1241.85,496.56 1256.52,496.56" fill="none" stroke="#2b2f32" stroke-width="2.15"/>
<polygon points="1226.80,132.30 1237.66,132.30 1245.66,124.30 1256.52,124.30 1257.12,124.30 1257.12,271.25 1256.52,271.25 1244.53,271.25 1238.78,277.00 1226.80,277.00" fill="#393d40" shape-rendering="crispEdges"/>
<polyline points="1226.80,132.30 1237.66,132.30 1245.66,124.30 1256.52,124.30" fill="none" stroke="#2b2f32" stroke-width="2.15"/>
<polyline points="1226.80,277.00 1238.78,277.00 1244.53,271.25 1256.52,271.25" fill="none" stroke="#2b2f32" stroke-width="2.15"/>
<polygon points="1256.52,689.20 1271.32,689.20 1271.44,689.31 1286.24,689.31 1286.84,689.31 1286.84,697.00 1286.24,697.00 1256.52,697.00" fill="#393d40" shape-rendering="crispEdges"/>
<polyline points="1256.52,689.20 1271.32,689.20 1271.44,689.31 1286.24,689.31" fill="none" stroke="#2b2f32" stroke-width="2.15"/>
<polyline points="1256.52,697.00 1286.24,697.00" fill="none" stroke="#2b2f32" stroke-width="2.15"/>
<polygon points="1256.52,678.40 1271.26,678.40 1271.50,678.64 1286.24,678.64 1286.84,678.64 1286.84,689.31 1286.24,689.31 1271.44,689.31 1271.32,689.20 1256.52,689.20" fill="#393d40" shape-rendering="crispEdges"/>
<polyline points="1256.52,678.40 1271.26,678.40 1271.50,678.64 1286.24,678.64" fill="none" stroke="#2b2f32" stroke-width="2.15"/>
<polyline points="1256.52,689.20 1271.32,689.20 1271.44,689.31 1286.24,689.31" fill="none" stroke="#2b2f32" stroke-width="2.15"/>
<polygon points="1256.52,666.70 1271.27,666.70 1271.49,666.91 1286.24,666.91 1286.84,666.91 1286.84,678.64 1286.24,678.64 1271.50,678.64 1271.26,678.40 1256.52,678.40" fill="#393d40" shape-rendering="crispEdges"/>
<polyline points="1256.52,666.70 1271.27,666.70 1271.49,666.91 1286.24,666.91" fill="none" stroke="#2b2f32" stroke-width="2.15"/>
<polyline points="1256.52,678.40 1271.26,678.40 1271.50,678.64 1286.24,678.64" fill="none" stroke="#2b2f32" stroke-width="2.15"/>
<polygon points="1256.52,638.70 1271.10,638.70 1271.66,639.26 1286.24,639.26 1286.84,639.26 1286.84,666.91 1286.24,666.91 1271.49,666.91 1271.27,666.70 1256.52,666.70" fill="#393d40" shape-rendering="crispEdges"/>
<polyline points="1256.52,638.70 1271.10,638.70 1271.66,639.26 1286.24,639.26" fill="none" stroke="#2b2f32" stroke-width="2.15"/>
<polyline points="1256.52,666.70 1271.27,666.70 1271.49,666.91 1286.24,666.91" fill="none" stroke="#2b2f32" stroke-width="2.15"/>
<polygon points="1256.52,575.50 1271.27,575.50 1271.49,575.72 1286.24,575.72 1286.84,575.72 1286.84,639.26 1286.24,639.26 1271.66,639.26 1271.10,638.70 1256.52,638.70" fill="#393d40" shape-rendering="crispEdges"/>
<polyline points="1256.52,575.50 1271.27,575.50 1271.49,575.72 1286.24,575.72" fill="none" stroke="#2b2f32" stroke-width="2.15"/>
<polyline points="1256.52,638.70 1271.10,638.70 1271.66,639.26 1286.24,639.26" fill="none" stroke="#2b2f32" stroke-width="2.15"/>
<polygon points="1256.52,496.56 1271.19,496.56 1271.57,496.94 1286.24,496.94 1286.84,496.94 1286.84,575.72 1286.24,575.72 1271.49,575.72 1271.27,575.50 1256.52,575.50" fill="#393d40" shape-rendering="crispEdges"/>
<polyline points="1256.52,496.56 1271.19,496.56 1271.57,496.94 1286.24,496.94" fill="none" stroke="#2b2f32" stroke-width="2.15"/>
<polyline points="1256.52,575.50 1271.27,575.50 1271.49,575.72 1286.24,575.72" fill="none" stroke="#2b2f32" stroke-width="2.15"/>
<polygon points="1256.52,389.70 1270.73,389.70 1272.03,388.40 1286.24,388.40 1286.84,388.40 1286.84,496.94 1286.24,496.94 1271.57,496.94 1271.19,496.56 1256.52,496.56" fill="#393d40" shape-rendering="crispEdges"/>
<polyline points="1256.52,389.70 1270.73,389.70 1272.03,388.40 1286.24,388.40" fill="none" stroke="#2b2f32" stroke-width="2.15"/>
<polyline points="1256.52,496.56 1271.19,496.56 1271.57,496.94 1286.24,496.94" fill="none" stroke="#2b2f32" stroke-width="2.15"/>
<polygon points="1256.52,124.30 1267.13,124.30 1275.63,115.80 1286.24,115.80 1286.84,115.80 1286.84,264.50 1286.24,264.50 1274.76,264.50 1268.01,271.25 1256.52,271.25" fill="#393d40" shape-rendering="crispEdges"/>
<polyline points="1256.52,124.30 1267.13,124.30 1275.63,115.80 1286.24,115.80" fill="none" stroke="#2b2f32" stroke-width="2.15"/>
<polyline points="1256.52,271.25 1268.01,271.25 1274.76,264.50 1286.24,264.50" fill="none" stroke="#2b2f32" stroke-width="2.15"/>
<polygon points="1286.24,689.31 1301.04,689.31 1301.16,689.42 1315.96,689.42 1316.56,689.42 1316.56,697.00 1315.96,697.00 1286.24,697.00" fill="#393d40" shape-rendering="crispEdges"/>
<polyline points="1286.24,689.31 1301.04,689.31 1301.16,689.42 1315.96,689.42" fill="none" stroke="#2b2f32" stroke-width="2.15"/>
<polyline points="1286.24,697.00 1315.96,697.00" fill="none" stroke="#2b2f32" stroke-width="2.15"/>
<polygon points="1286.24,678.64 1300.98,678.64 1301.22,678.89 1315.96,678.89 1316.56,678.89 1316.56,689.42 1315.96,689.42 1301.16,689.42 1301.04,689.31 1286.24,689.31" fill="#393d40" shape-rendering="crispEdges"/>
<polyline points="1286.24,678.64 1300.98,678.64 1301.22,678.89 1315.96,678.89" fill="none" stroke="#2b2f32" stroke-width="2.15"/>
<polyline points="1286.24,689.31 1301.04,689.31 1301.16,689.42 1315.96,689.42" fill="none" stroke="#2b2f32" stroke-width="2.15"/>
<polygon points="1286.24,666.91 1300.99,666.91 1301.21,667.12 1315.96,667.12 1316.56,667.12 1316.56,678.89 1315.96,678.89 1301.22,678.89 1300.98,678.64 1286.24,678.64" fill="#393d40" shape-rendering="crispEdges"/>
<polyline points="1286.24,666.91 1300.99,666.91 1301.21,667.12 1315.96,667.12" fill="none" stroke="#2b2f32" stroke-width="2.15"/>
<polyline points="1286.24,678.64 1300.98,678.64 1301.22,678.89 1315.96,678.89" fill="none" stroke="#2b2f32" stroke-width="2.15"/>
<polygon points="1286.24,639.26 1300.82,639.26 1301.38,639.81 1315.96,639.81 1316.56,639.81 1316.56,667.12 1315.96,667.12 1301.21,667.12 1300.99,666.91 1286.24,666.91" fill="#393d40" shape-rendering="crispEdges"/>
<polyline points="1286.24,639.26 1300.82,639.26 1301.38,639.81 1315.96,639.81" fill="none" stroke="#2b2f32" stroke-width="2.15"/>
<polyline points="1286.24,666.91 1300.99,666.91 1301.21,667.12 1315.96,667.12" fill="none" stroke="#2b2f32" stroke-width="2.15"/>
<polygon points="1286.24,575.72 1300.99,575.72 1301.21,575.94 1315.96,575.94 1316.56,575.94 1316.56,639.81 1315.96,639.81 1301.38,639.81 1300.82,639.26 1286.24,639.26" fill="#393d40" shape-rendering="crispEdges"/>
<polyline points="1286.24,575.72 1300.99,575.72 1301.21,575.94 1315.96,575.94" fill="none" stroke="#2b2f32" stroke-width="2.15"/>
<polyline points="1286.24,639.26 1300.82,639.26 1301.38,639.81 1315.96,639.81" fill="none" stroke="#2b2f32" stroke-width="2.15"/>
<polygon points="1286.24,496.94 1300.91,496.94 1301.29,497.32 1315.96,497.32 1316.56,497.32 1316.56,575.94 1315.96,575.94 1301.21,575.94 1300.99,575.72 1286.24,575.72" fill="#393d40" shape-rendering="crispEdges"/>
<polyline points="1286.24,496.94 1300.91,496.94 1301.29,497.32 1315.96,497.32" fill="none" stroke="#2b2f32" stroke-width="2.15"/>
<polyline points="1286.24,575.72 1300.99,575.72 1301.21,575.94 1315.96,575.94" fill="none" stroke="#2b2f32" stroke-width="2.15"/>
<polygon points="1286.24,388.40 1300.45,388.40 1301.75,387.10 1315.96,387.10 1316.56,387.10 1316.56,497.32 1315.96,497.32 1301.29,497.32 1300.91,496.94 1286.24,496.94" fill="#393d40" shape-rendering="crispEdges"/>
<polyline points="1286.24,388.40 1300.45,388.40 1301.75,387.10 1315.96,387.10" fill="none" stroke="#2b2f32" stroke-width="2.15"/>
<polyline points="1286.24,496.94 1300.91,496.94 1301.29,497.32 1315.96,497.32" fill="none" stroke="#2b2f32" stroke-width="2.15"/>
<polygon points="1286.24,115.80 1296.72,115.80 1305.47,107.05 1315.96,107.05 1316.56,107.05 1316.56,257.00 1315.96,257.00 1304.85,257.00 1297.35,264.50 1286.24,264.50" fill="#393d40" shape-rendering="crispEdges"/>
<polyline points="1286.24,115.80 1296.72,115.80 1305.47,107.05 1315.96,107.05" fill="none" stroke="#2b2f32" stroke-width="2.15"/>
<polyline points="1286.24,264.50 1297.35,264.50 1304.85,257.00 1315.96,257.00" fill="none" stroke="#2b2f32" stroke-width="2.15"/>
<polygon points="1315.96,689.42 1330.76,689.42 1330.88,689.53 1345.68,689.53 1346.28,689.53 1346.28,697.00 1345.68,697.00 1315.96,697.00" fill="#393d40" shape-rendering="crispEdges"/>
<polyline points="1315.96,689.42 1330.76,689.42 1330.88,689.53 1345.68,689.53" fill="none" stroke="#2b2f32" stroke-width="2.15"/>
<polyline points="1315.96,697.00 1345.68,697.00" fill="none" stroke="#2b2f32" stroke-width="2.15"/>
<polygon points="1315.96,678.89 1330.70,678.89 1330.94,679.13 1345.68,679.13 1346.28,679.13 1346.28,689.53 1345.68,689.53 1330.88,689.53 1330.76,689.42 1315.96,689.42" fill="#393d40" shape-rendering="crispEdges"/>
<polyline points="1315.96,678.89 1330.70,678.89 1330.94,679.13 1345.68,679.13" fill="none" stroke="#2b2f32" stroke-width="2.15"/>
<polyline points="1315.96,689.42 1330.76,689.42 1330.88,689.53 1345.68,689.53" fill="none" stroke="#2b2f32" stroke-width="2.15"/>
<polygon points="1315.96,667.12 1330.71,667.12 1330.93,667.33 1345.68,667.33 1346.28,667.33 1346.28,679.13 1345.68,679.13 1330.94,679.13 1330.70,678.89 1315.96,678.89" fill="#393d40" shape-rendering="crispEdges"/>
<polyline points="1315.96,667.12 1330.71,667.12 1330.93,667.33 1345.68,667.33" fill="none" stroke="#2b2f32" stroke-width="2.15"/>
<polyline points="1315.96,678.89 1330.70,678.89 1330.94,679.13 1345.68,679.13" fill="none" stroke="#2b2f32" stroke-width="2.15"/>
<polygon points="1315.96,639.81 1330.54,639.81 1331.10,640.37 1345.68,640.37 1346.28,640.37 1346.28,667.33 1345.68,667.33 1330.93,667.33 1330.71,667.12 1315.96,667.12" fill="#393d40" shape-rendering="crispEdges"/>
<polyline points="1315.96,639.81 1330.54,639.81 1331.10,640.37 1345.68,640.37" fill="none" stroke="#2b2f32" stroke-width="2.15"/>
<polyline points="1315.96,667.12 1330.71,667.12 1330.93,667.33 1345.68,667.33" fill="none" stroke="#2b2f32" stroke-width="2.15"/>
<polygon points="1315.96,575.94 1330.71,575.94 1330.93,576.17 1345.68,576.17 1346.28,576.17 1346.28,640.37 1345.68,640.37 1331.10,640.37 1330.54,639.81 1315.96,639.81" fill="#393d40" shape-rendering="crispEdges"/>
<polyline points="1315.96,575.94 1330.71,575.94 1330.93,576.17 1345.68,576.17" fill="none" stroke="#2b2f32" stroke-width="2.15"/>
<polyline points="1315.96,639.81 1330.54,639.81 1331.10,640.37 1345.68,640.37" fill="none" stroke="#2b2f32" stroke-width="2.15"/>
<polygon points="1315.96,497.32 1330.63,497.32 1331.01,497.70 1345.68,497.70 1346.28,497.70 1346.28,576.17 1345.68,576.17 1330.93,576.17 1330.71,575.94 1315.96,575.94" fill="#393d40" shape-rendering="crispEdges"/>
<polyline points="1315.96,497.32 1330.63,497.32 1331.01,497.70 1345.68,497.70" fill="none" stroke="#2b2f32" stroke-width="2.15"/>
<polyline points="1315.96,575.94 1330.71,575.94 1330.93,576.17 1345.68,576.17" fill="none" stroke="#2b2f32" stroke-width="2.15"/>
<polygon points="1315.96,387.10 1330.22,387.10 1331.42,385.90 1345.68,385.90 1346.28,385.90 1346.28,497.70 1345.68,497.70 1331.01,497.70 1330.63,497.32 1315.96,497.32" fill="#393d40" shape-rendering="crispEdges"/>
<polyline points="1315.96,387.10 1330.22,387.10 1331.42,385.90 1345.68,385.90" fill="none" stroke="#2b2f32" stroke-width="2.15"/>
<polyline points="1315.96,497.32 1330.63,497.32 1331.01,497.70 1345.68,497.70" fill="none" stroke="#2b2f32" stroke-width="2.15"/>
<polygon points="1315.96,107.05 1326.69,107.05 1334.94,98.80 1345.68,98.80 1346.28,98.80 1346.28,250.00 1345.68,250.00 1334.32,250.00 1327.32,257.00 1315.96,257.00" fill="#393d40" shape-rendering="crispEdges"/>
<polyline points="1315.96,107.05 1326.69,107.05 1334.94,98.80 1345.68,98.80" fill="none" stroke="#2b2f32" stroke-width="2.15"/>
<polyline points="1315.96,257.00 1327.32,257.00 1334.32,250.00 1345.68,250.00" fill="none" stroke="#2b2f32" stroke-width="2.15"/>
<polygon points="1345.68,689.53 1360.48,689.53 1360.60,689.64 1375.40,689.64 1376.00,689.64 1376.00,697.00 1375.40,697.00 1345.68,697.00" fill="#393d40" shape-rendering="crispEdges"/>
<polyline points="1345.68,689.53 1360.48,689.53 1360.60,689.64 1375.40,689.64" fill="none" stroke="#2b2f32" stroke-width="2.15"/>
<polyline points="1345.68,697.00 1375.40,697.00" fill="none" stroke="#2b2f32" stroke-width="2.15"/>
<polygon points="1345.68,679.13 1360.42,679.13 1360.66,679.38 1375.40,679.38 1376.00,679.38 1376.00,689.64 1375.40,689.64 1360.60,689.64 1360.48,689.53 1345.68,689.53" fill="#393d40" shape-rendering="crispEdges"/>
<polyline points="1345.68,679.13 1360.42,679.13 1360.66,679.38 1375.40,679.38" fill="none" stroke="#2b2f32" stroke-width="2.15"/>
<polyline points="1345.68,689.53 1360.48,689.53 1360.60,689.64 1375.40,689.64" fill="none" stroke="#2b2f32" stroke-width="2.15"/>
<polygon points="1345.68,667.33 1360.43,667.33 1360.65,667.54 1375.40,667.54 1376.00,667.54 1376.00,679.38 1375.40,679.38 1360.66,679.38 1360.42,679.13 1345.68,679.13" fill="#393d40" shape-rendering="crispEdges"/>
<polyline points="1345.68,667.33 1360.43,667.33 1360.65,667.54 1375.40,667.54" fill="none" stroke="#2b2f32" stroke-width="2.15"/>
<polyline points="1345.68,679.13 1360.42,679.13 1360.66,679.38 1375.40,679.38" fill="none" stroke="#2b2f32" stroke-width="2.15"/>
<polygon points="1345.68,640.37 1360.26,640.37 1360.82,640.92 1375.40,640.92 1376.00,640.92 1376.00,667.54 1375.40,667.54 1360.65,667.54 1360.43,667.33 1345.68,667.33" fill="#393d40" shape-rendering="crispEdges"/>
<polyline points="1345.68,640.37 1360.26,640.37 1360.82,640.92 1375.40,640.92" fill="none" stroke="#2b2f32" stroke-width="2.15"/>
<polyline points="1345.68,667.33 1360.43,667.33 1360.65,667.54 1375.40,667.54" fill="none" stroke="#2b2f32" stroke-width="2.15"/>
<polygon points="1345.68,576.17 1360.43,576.17 1360.65,576.39 1375.40,576.39 1376.00,576.39 1376.00,640.92 1375.40,640.92 1360.82,640.92 1360.26,640.37 1345.68,640.37" fill="#393d40" shape-rendering="crispEdges"/>
<polyline points="1345.68,576.17 1360.43,576.17 1360.65,576.39 1375.40,576.39" fill="none" stroke="#2b2f32" stroke-width="2.15"/>
<polyline points="1345.68,640.37 1360.26,640.37 1360.82,640.92 1375.40,640.92" fill="none" stroke="#2b2f32" stroke-width="2.15"/>
<polygon points="1345.68,497.70 1360.35,497.70 1360.73,498.08 1375.40,498.08 1376.00,498.08 1376.00,576.39 1375.40,576.39 1360.65,576.39 1360.43,576.17 1345.68,576.17" fill="#393d40" shape-rendering="crispEdges"/>
<polyline points="1345.68,497.70 1360.35,497.70 1360.73,498.08 1375.40,498.08" fill="none" stroke="#2b2f32" stroke-width="2.15"/>
<polyline points="1345.68,576.17 1360.43,576.17 1360.65,576.39 1375.40,576.39" fill="none" stroke="#2b2f32" stroke-width="2.15"/>
<polygon points="1345.68,385.90 1359.89,385.90 1361.19,384.60 1375.40,384.60 1376.00,384.60 1376.00,498.08 1375.40,498.08 1360.73,498.08 1360.35,497.70 1345.68,497.70" fill="#393d40" shape-rendering="crispEdges"/>
<polyline points="1345.68,385.90 1359.89,385.90 1361.19,384.60 1375.40,384.60" fill="none" stroke="#2b2f32" stroke-width="2.15"/>
<polyline points="1345.68,497.70 1360.35,497.70 1360.73,498.08 1375.40,498.08" fill="none" stroke="#2b2f32" stroke-width="2.15"/>
<polygon points="1345.68,98.80 1356.16,98.80 1364.91,90.05 1375.40,90.05 1376.00,90.05 1376.00,242.00 1375.40,242.00 1364.54,242.00 1356.54,250.00 1345.68,250.00" fill="#393d40" shape-rendering="crispEdges"/>
<polyline points="1345.68,98.80 1356.16,98.80 1364.91,90.05 1375.40,90.05" fill="none" stroke="#2b2f32" stroke-width="2.15"/>
<polyline points="1345.68,250.00 1356.54,250.00 1364.54,242.00 1375.40,242.00" fill="none" stroke="#2b2f32" stroke-width="2.15"/>
<polygon points="1375.40,689.64 1390.20,689.64 1390.32,689.76 1405.12,689.76 1405.72,689.76 1405.72,697.00 1405.12,697.00 1375.40,697.00" fill="#393d40" shape-rendering="crispEdges"/>
<polyline points="1375.40,689.64 1390.20,689.64 1390.32,689.76 1405.12,689.76" fill="none" stroke="#2b2f32" stroke-width="2.15"/>
<polyline points="1375.40,697.00 1405.12,697.00" fill="none" stroke="#2b2f32" stroke-width="2.15"/>
<polygon points="1375.40,679.38 1390.14,679.38 1390.38,679.62 1405.12,679.62 1405.72,679.62 1405.72,689.76 1405.12,689.76 1390.32,689.76 1390.20,689.64 1375.40,689.64" fill="#393d40" shape-rendering="crispEdges"/>
<polyline points="1375.40,679.38 1390.14,679.38 1390.38,679.62 1405.12,679.62" fill="none" stroke="#2b2f32" stroke-width="2.15"/>
<polyline points="1375.40,689.64 1390.20,689.64 1390.32,689.76 1405.12,689.76" fill="none" stroke="#2b2f32" stroke-width="2.15"/>
<polygon points="1375.40,667.54 1390.15,667.54 1390.37,667.76 1405.12,667.76 1405.72,667.76 1405.72,679.62 1405.12,679.62 1390.38,679.62 1390.14,679.38 1375.40,679.38" fill="#393d40" shape-rendering="crispEdges"/>
<polyline points="1375.40,667.54 1390.15,667.54 1390.37,667.76 1405.12,667.76" fill="none" stroke="#2b2f32" stroke-width="2.15"/>
<polyline points="1375.40,679.38 1390.14,679.38 1390.38,679.62 1405.12,679.62" fill="none" stroke="#2b2f32" stroke-width="2.15"/>
<polygon points="1375.40,640.92 1389.98,640.92 1390.54,641.48 1405.12,641.48 1405.72,641.48 1405.72,667.76 1405.12,667.76 1390.37,667.76 1390.15,667.54 1375.40,667.54" fill="#393d40" shape-rendering="crispEdges"/>
<polyline points="1375.40,640.92 1389.98,640.92 1390.54,641.48 1405.12,641.48" fill="none" stroke="#2b2f32" stroke-width="2.15"/>
<polyline points="1375.40,667.54 1390.15,667.54 1390.37,667.76 1405.12,667.76" fill="none" stroke="#2b2f32" stroke-width="2.15"/>
<polygon points="1375.40,576.39 1390.15,576.39 1390.37,576.61 1405.12,576.61 1405.72,576.61 1405.72,641.48 1405.12,641.48 1390.54,641.48 1389.98,640.92 1375.40,640.92" fill="#393d40" shape-rendering="crispEdges"/>
<polyline points="1375.40,576.39 1390.15,576.39 1390.37,576.61 1405.12,576.61" fill="none" stroke="#2b2f32" stroke-width="2.15"/>
<polyline points="1375.40,640.92 1389.98,640.92 1390.54,641.48 1405.12,641.48" fill="none" stroke="#2b2f32" stroke-width="2.15"/>
<polygon points="1375.40,498.08 1390.07,498.08 1390.45,498.46 1405.12,498.46 1405.72,498.46 1405.72,576.61 1405.12,576.61 1390.37,576.61 1390.15,576.39 1375.40,576.39" fill="#393d40" shape-rendering="crispEdges"/>
<polyline points="1375.40,498.08 1390.07,498.08 1390.45,498.46 1405.12,498.46" fill="none" stroke="#2b2f32" stroke-width="2.15"/>
<polyline points="1375.40,576.39 1390.15,576.39 1390.37,576.61 1405.12,576.61" fill="none" stroke="#2b2f32" stroke-width="2.15"/>
<polygon points="1375.40,384.60 1389.61,384.60 1390.91,383.30 1405.12,383.30 1405.72,383.30 1405.72,498.46 1405.12,498.46 1390.45,498.46 1390.07,498.08 1375.40,498.08" fill="#393d40" shape-rendering="crispEdges"/>
<polyline points="1375.40,384.60 1389.61,384.60 1390.91,383.30 1405.12,383.30" fill="none" stroke="#2b2f32" stroke-width="2.15"/>
<polyline points="1375.40,498.08 1390.07,498.08 1390.45,498.46 1405.12,498.46" fill="none" stroke="#2b2f32" stroke-width="2.15"/>
<polygon points="1375.40,90.05 1385.88,90.05 1394.63,81.30 1405.12,81.30 1405.72,81.30 1405.72,235.00 1405.12,235.00 1393.76,235.00 1386.76,242.00 1375.40,242.00" fill="#393d40" shape-rendering="crispEdges"/>
<polyline points="1375.40,90.05 1385.88,90.05 1394.63,81.30 1405.12,81.30" fill="none" stroke="#2b2f32" stroke-width="2.15"/>
<polyline points="1375.40,242.00 1386.76,242.00 1393.76,235.00 1405.12,235.00" fill="none" stroke="#2b2f32" stroke-width="2.15"/>
<polygon points="1405.12,689.76 1419.92,689.76 1420.04,689.87 1434.84,689.87 1435.44,689.87 1435.44,697.00 1434.84,697.00 1405.12,697.00" fill="#393d40" shape-rendering="crispEdges"/>
<polyline points="1405.12,689.76 1419.92,689.76 1420.04,689.87 1434.84,689.87" fill="none" stroke="#2b2f32" stroke-width="2.15"/>
<polyline points="1405.12,697.00 1434.84,697.00" fill="none" stroke="#2b2f32" stroke-width="2.15"/>
<polygon points="1405.12,679.62 1419.86,679.62 1420.10,679.87 1434.84,679.87 1435.44,679.87 1435.44,689.87 1434.84,689.87 1420.04,689.87 1419.92,689.76 1405.12,689.76" fill="#393d40" shape-rendering="crispEdges"/>
<polyline points="1405.12,679.62 1419.86,679.62 1420.10,679.87 1434.84,679.87" fill="none" stroke="#2b2f32" stroke-width="2.15"/>
<polyline points="1405.12,689.76 1419.92,689.76 1420.04,689.87 1434.84,689.87" fill="none" stroke="#2b2f32" stroke-width="2.15"/>
<polygon points="1405.12,667.76 1419.87,667.76 1420.09,667.97 1434.84,667.97 1435.44,667.97 1435.44,679.87 1434.84,679.87 1420.10,679.87 1419.86,679.62 1405.12,679.62" fill="#393d40" shape-rendering="crispEdges"/>
<polyline points="1405.12,667.76 1419.87,667.76 1420.09,667.97 1434.84,667.97" fill="none" stroke="#2b2f32" stroke-width="2.15"/>
<polyline points="1405.12,679.62 1419.86,679.62 1420.10,679.87 1434.84,679.87" fill="none" stroke="#2b2f32" stroke-width="2.15"/>
<polygon points="1405.12,641.48 1419.70,641.48 1420.26,642.03 1434.84,642.03 1435.44,642.03 1435.44,667.97 1434.84,667.97 1420.09,667.97 1419.87,667.76 1405.12,667.76" fill="#393d40" shape-rendering="crispEdges"/>
<polyline points="1405.12,641.48 1419.70,641.48 1420.26,642.03 1434.84,642.03" fill="none" stroke="#2b2f32" stroke-width="2.15"/>
<polyline points="1405.12,667.76 1419.87,667.76 1420.09,667.97 1434.84,667.97" fill="none" stroke="#2b2f32" stroke-width="2.15"/>
<polygon points="1405.12,576.61 1419.87,576.61 1420.09,576.83 1434.84,576.83 1435.44,576.83 1435.44,642.03 1434.84,642.03 1420.26,642.03 1419.70,641.48 1405.12,641.48" fill="#393d40" shape-rendering="crispEdges"/>
<polyline points="1405.12,576.61 1419.87,576.61 1420.09,576.83 1434.84,576.83" fill="none" stroke="#2b2f32" stroke-width="2.15"/>
<polyline points="1405.12,641.48 1419.70,641.48 1420.26,642.03 1434.84,642.03" fill="none" stroke="#2b2f32" stroke-width="2.15"/>
<polygon points="1405.12,498.46 1419.79,498.46 1420.17,498.84 1434.84,498.84 1435.44,498.84 1435.44,576.83 1434.84,576.83 1420.09,576.83 1419.87,576.61 1405.12,576.61" fill="#393d40" shape-rendering="crispEdges"/>
<polyline points="1405.12,498.46 1419.79,498.46 1420.17,498.84 1434.84,498.84" fill="none" stroke="#2b2f32" stroke-width="2.15"/>
<polyline points="1405.12,576.61 1419.87,576.61 1420.09,576.83 1434.84,576.83" fill="none" stroke="#2b2f32" stroke-width="2.15"/>
<polygon points="1405.12,383.30 1419.33,383.30 1420.63,382.00 1434.84,382.00 1435.44,382.00 1435.44,498.84 1434.84,498.84 1420.17,498.84 1419.79,498.46 1405.12,498.46" fill="#393d40" shape-rendering="crispEdges"/>
<polyline points="1405.12,383.30 1419.33,383.30 1420.63,382.00 1434.84,382.00" fill="none" stroke="#2b2f32" stroke-width="2.15"/>
<polyline points="1405.12,498.46 1419.79,498.46 1420.17,498.84 1434.84,498.84" fill="none" stroke="#2b2f32" stroke-width="2.15"/>
<polygon points="1405.12,81.30 1412.48,81.30 1427.48,66.30 1434.84,66.30 1435.44,66.30 1435.44,227.00 1434.84,227.00 1423.98,227.00 1415.98,235.00 1405.12,235.00" fill="#393d40" shape-rendering="crispEdges"/>
<polyline points="1405.12,81.30 1412.48,81.30 1427.48,66.30 1434.84,66.30" fill="none" stroke="#2b2f32" stroke-width="2.15"/>
<polyline points="1405.12,235.00 1415.98,235.00 1423.98,227.00 1434.84,227.00" fill="none" stroke="#2b2f32" stroke-width="2.15"/>
<polygon points="1434.84,689.87 1449.64,689.87 1449.76,689.98 1464.56,689.98 1465.16,689.98 1465.16,697.00 1464.56,697.00 1434.84,697.00" fill="#393d40" shape-rendering="crispEdges"/>
<polyline points="1434.84,689.87 1449.64,689.87 1449.76,689.98 1464.56,689.98" fill="none" stroke="#2b2f32" stroke-width="2.15"/>
<polyline points="1434.84,697.00 1464.56,697.00" fill="none" stroke="#2b2f32" stroke-width="2.15"/>
<polygon points="1434.84,679.87 1449.58,679.87 1449.82,680.11 1464.56,680.11 1465.16,680.11 1465.16,689.98 1464.56,689.98 1449.76,689.98 1449.64,689.87 1434.84,689.87" fill="#393d40" shape-rendering="crispEdges"/>
<polyline points="1434.84,679.87 1449.58,679.87 1449.82,680.11 1464.56,680.11" fill="none" stroke="#2b2f32" stroke-width="2.15"/>
<polyline points="1434.84,689.87 1449.64,689.87 1449.76,689.98 1464.56,689.98" fill="none" stroke="#2b2f32" stroke-width="2.15"/>
<polygon points="1434.84,667.97 1449.59,667.97 1449.81,668.18 1464.56,668.18 1465.16,668.18 1465.16,680.11 1464.56,680.11 1449.82,680.11 1449.58,679.87 1434.84,679.87" fill="#393d40" shape-rendering="crispEdges"/>
<polyline points="1434.84,667.97 1449.59,667.97 1449.81,668.18 1464.56,668.18" fill="none" stroke="#2b2f32" stroke-width="2.15"/>
<polyline points="1434.84,679.87 1449.58,679.87 1449.82,680.11 1464.56,680.11" fill="none" stroke="#2b2f32" stroke-width="2.15"/>
<polygon points="1434.84,642.03 1449.42,642.03 1449.98,642.59 1464.56,642.59 1465.16,642.59 1465.16,668.18 1464.56,668.18 1449.81,668.18 1449.59,667.97 1434.84,667.97" fill="#393d40" shape-rendering="crispEdges"/>
<polyline points="1434.84,642.03 1449.42,642.03 1449.98,642.59 1464.56,642.59" fill="none" stroke="#2b2f32" stroke-width="2.15"/>
<polyline points="1434.84,667.97 1449.59,667.97 1449.81,668.18 1464.56,668.18" fill="none" stroke="#2b2f32" stroke-width="2.15"/>
<polygon points="1434.84,576.83 1449.59,576.83 1449.81,577.06 1464.56,577.06 1465.16,577.06 1465.16,642.59 1464.56,642.59 1449.98,642.59 1449.42,642.03 1434.84,642.03" fill="#393d40" shape-rendering="crispEdges"/>
<polyline points="1434.84,576.83 1449.59,576.83 1449.81,577.06 1464.56,577.06" fill="none" stroke="#2b2f32" stroke-width="2.15"/>
<polyline points="1434.84,642.03 1449.42,642.03 1449.98,642.59 1464.56,642.59" fill="none" stroke="#2b2f32" stroke-width="2.15"/>
<polygon points="1434.84,498.84 1449.51,498.84 1449.89,499.22 1464.56,499.22 1465.16,499.22 1465.16,577.06 1464.56,577.06 1449.81,577.06 1449.59,576.83 1434.84,576.83" fill="#393d40" shape-rendering="crispEdges"/>
<polyline points="1434.84,498.84 1449.51,498.84 1449.89,499.22 1464.56,499.22" fill="none" stroke="#2b2f32" stroke-width="2.15"/>
<polyline points="1434.84,576.83 1449.59,576.83 1449.81,577.06 1464.56,577.06" fill="none" stroke="#2b2f32" stroke-width="2.15"/>
<polygon points="1434.84,382.00 1448.45,382.00 1450.95,379.50 1464.56,379.50 1465.16,379.50 1465.16,499.22 1464.56,499.22 1449.89,499.22 1449.51,498.84 1434.84,498.84" fill="#393d40" shape-rendering="crispEdges"/>
<polyline points="1434.84,382.00 1448.45,382.00 1450.95,379.50 1464.56,379.50" fill="none" stroke="#2b2f32" stroke-width="2.15"/>
<polyline points="1434.84,498.84 1449.51,498.84 1449.89,499.22 1464.56,499.22" fill="none" stroke="#2b2f32" stroke-width="2.15"/>
<polygon points="1434.84,66.30 1434.84,66.30 1464.56,224.50 1464.56,224.50 1465.16,224.50 1465.16,379.50 1464.56,379.50 1464.56,379.50 1434.84,227.00 1434.84,227.00" fill="#393d40" shape-rendering="crispEdges"/>
<polyline points="1434.84,66.30 1434.84,66.30 1464.56,224.50 1464.56,224.50" fill="none" stroke="#2b2f32" stroke-width="2.15"/>
<polyline points="1434.84,227.00 1434.84,227.00 1464.56,379.50 1464.56,379.50" fill="none" stroke="#2b2f32" stroke-width="2.15"/>
<polygon points="1464.56,689.98 1479.36,689.98 1479.48,690.09 1494.28,690.09 1494.88,690.09 1494.88,697.00 1494.28,697.00 1464.56,697.00" fill="#393d40" shape-rendering="crispEdges"/>
<polyline points="1464.56,689.98 1479.36,689.98 1479.48,690.09 1494.28,690.09" fill="none" stroke="#2b2f32" stroke-width="2.15"/>
<polyline points="1464.56,697.00 1494.28,697.00" fill="none" stroke="#2b2f32" stroke-width="2.15"/>
<polygon points="1464.56,680.11 1479.30,680.11 1479.54,680.36 1494.28,680.36 1494.88,680.36 1494.88,690.09 1494.28,690.09 1479.48,690.09 1479.36,689.98 1464.56,689.98" fill="#393d40" shape-rendering="crispEdges"/>
<polyline points="1464.56,680.11 1479.30,680.11 1479.54,680.36 1494.28,680.36" fill="none" stroke="#2b2f32" stroke-width="2.15"/>
<polyline points="1464.56,689.98 1479.36,689.98 1479.48,690.09 1494.28,690.09" fill="none" stroke="#2b2f32" stroke-width="2.15"/>
<polygon points="1464.56,668.18 1479.31,668.18 1479.53,668.39 1494.28,668.39 1494.88,668.39 1494.88,680.36 1494.28,680.36 1479.54,680.36 1479.30,680.11 1464.56,680.11" fill="#393d40" shape-rendering="crispEdges"/>
<polyline points="1464.56,668.18 1479.31,668.18 1479.53,668.39 1494.28,668.39" fill="none" stroke="#2b2f32" stroke-width="2.15"/>
<polyline points="1464.56,680.11 1479.30,680.11 1479.54,680.36 1494.28,680.36" fill="none" stroke="#2b2f32" stroke-width="2.15"/>
<polygon points="1464.56,642.59 1479.14,642.59 1479.70,643.14 1494.28,643.14 1494.88,643.14 1494.88,668.39 1494.28,668.39 1479.53,668.39 1479.31,668.18 1464.56,668.18" fill="#393d40" shape-rendering="crispEdges"/>
<polyline points="1464.56,642.59 1479.14,642.59 1479.70,643.14 1494.28,643.14" fill="none" stroke="#2b2f32" stroke-width="2.15"/>
<polyline points="1464.56,668.18 1479.31,668.18 1479.53,668.39 1494.28,668.39" fill="none" stroke="#2b2f32" stroke-width="2.15"/>
<polygon points="1464.56,577.06 1479.31,577.06 1479.53,577.28 1494.28,577.28 1494.88,577.28 1494.88,643.14 1494.28,643.14 1479.70,643.14 1479.14,642.59 1464.56,642.59" fill="#393d40" shape-rendering="crispEdges"/>
<polyline points="1464.56,577.06 1479.31,577.06 1479.53,577.28 1494.28,577.28" fill="none" stroke="#2b2f32" stroke-width="2.15"/>
<polyline points="1464.56,642.59 1479.14,642.59 1479.70,643.14 1494.28,643.14" fill="none" stroke="#2b2f32" stroke-width="2.15"/>
<polygon points="1464.56,499.22 1479.23,499.22 1479.61,499.60 1494.28,499.60 1494.88,499.60 1494.88,577.28 1494.28,577.28 1479.53,577.28 1479.31,577.06 1464.56,577.06" fill="#393d40" shape-rendering="crispEdges"/>
<polyline points="1464.56,499.22 1479.23,499.22 1479.61,499.60 1494.28,499.60" fill="none" stroke="#2b2f32" stroke-width="2.15"/>
<polyline points="1464.56,577.06 1479.31,577.06 1479.53,577.28 1494.28,577.28" fill="none" stroke="#2b2f32" stroke-width="2.15"/>
<polygon points="1464.56,379.50 1478.92,379.50 1479.92,378.50 1494.28,378.50 1494.88,378.50 1494.88,499.60 1494.28,499.60 1479.61,499.60 1479.23,499.22 1464.56,499.22" fill="#393d40" shape-rendering="crispEdges"/>
<polyline points="1464.56,379.50 1478.92,379.50 1479.92,378.50 1494.28,378.50" fill="none" stroke="#2b2f32" stroke-width="2.15"/>
<polyline points="1464.56,499.22 1479.23,499.22 1479.61,499.60 1494.28,499.60" fill="none" stroke="#2b2f32" stroke-width="2.15"/>
<polygon points="1464.56,224.50 1477.80,224.50 1481.05,221.25 1494.28,221.25 1494.88,221.25 1494.88,378.50 1494.28,378.50 1479.92,378.50 1478.92,379.50 1464.56,379.50" fill="#393d40" shape-rendering="crispEdges"/>
<polyline points="1464.56,224.50 1477.80,224.50 1481.05,221.25 1494.28,221.25" fill="none" stroke="#2b2f32" stroke-width="2.15"/>
<polyline points="1464.56,379.50 1478.92,379.50 1479.92,378.50 1494.28,378.50" fill="none" stroke="#2b2f32" stroke-width="2.15"/>
<polygon points="1494.28,690.09 1509.08,690.09 1509.20,690.20 1524.00,690.20 1524.60,690.20 1524.60,697.00 1524.00,697.00 1494.28,697.00" fill="#393d40" shape-rendering="crispEdges"/>
<polyline points="1494.28,690.09 1509.08,690.09 1509.20,690.20 1524.00,690.20" fill="none" stroke="#2b2f32" stroke-width="2.15"/>
<polyline points="1494.28,697.00 1524.00,697.00" fill="none" stroke="#2b2f32" stroke-width="2.15"/>
<polygon points="1494.28,680.36 1509.02,680.36 1509.26,680.60 1524.00,680.60 1524.60,680.60 1524.60,690.20 1524.00,690.20 1509.20,690.20 1509.08,690.09 1494.28,690.09" fill="#393d40" shape-rendering="crispEdges"/>
<polyline points="1494.28,680.36 1509.02,680.36 1509.26,680.60 1524.00,680.60" fill="none" stroke="#2b2f32" stroke-width="2.15"/>
<polyline points="1494.28,690.09 1509.08,690.09 1509.20,690.20 1524.00,690.20" fill="none" stroke="#2b2f32" stroke-width="2.15"/>
<polygon points="1494.28,668.39 1509.03,668.39 1509.25,668.60 1524.00,668.60 1524.60,668.60 1524.60,680.60 1524.00,680.60 1509.26,680.60 1509.02,680.36 1494.28,680.36" fill="#393d40" shape-rendering="crispEdges"/>
<polyline points="1494.28,668.39 1509.03,668.39 1509.25,668.60 1524.00,668.60" fill="none" stroke="#2b2f32" stroke-width="2.15"/>
<polyline points="1494.28,680.36 1509.02,680.36 1509.26,680.60 1524.00,680.60" fill="none" stroke="#2b2f32" stroke-width="2.15"/>
<polygon points="1494.28,643.14 1508.86,643.14 1509.42,643.70 1524.00,643.70 1524.60,643.70 1524.60,668.60 1524.00,668.60 1509.25,668.60 1509.03,668.39 1494.28,668.39" fill="#393d40" shape-rendering="crispEdges"/>
<polyline points="1494.28,643.14 1508.86,643.14 1509.42,643.70 1524.00,643.70" fill="none" stroke="#2b2f32" stroke-width="2.15"/>
<polyline points="1494.28,668.39 1509.03,668.39 1509.25,668.60 1524.00,668.60" fill="none" stroke="#2b2f32" stroke-width="2.15"/>
<polygon points="1494.28,577.28 1509.03,577.28 1509.25,577.50 1524.00,577.50 1524.60,577.50 1524.60,643.70 1524.00,643.70 1509.42,643.70 1508.86,643.14 1494.28,643.14" fill="#393d40" shape-rendering="crispEdges"/>
<polyline points="1494.28,577.28 1509.03,577.28 1509.25,577.50 1524.00,577.50" fill="none" stroke="#2b2f32" stroke-width="2.15"/>
<polyline points="1494.28,643.14 1508.86,643.14 1509.42,643.70 1524.00,643.70" fill="none" stroke="#2b2f32" stroke-width="2.15"/>
<polygon points="1494.28,499.60 1508.95,499.60 1509.33,499.98 1524.00,499.98 1524.60,499.98 1524.60,577.50 1524.00,577.50 1509.25,577.50 1509.03,577.28 1494.28,577.28" fill="#393d40" shape-rendering="crispEdges"/>
<polyline points="1494.28,499.60 1508.95,499.60 1509.33,499.98 1524.00,499.98" fill="none" stroke="#2b2f32" stroke-width="2.15"/>
<polyline points="1494.28,577.28 1509.03,577.28 1509.25,577.50 1524.00,577.50" fill="none" stroke="#2b2f32" stroke-width="2.15"/>
<polygon points="1494.28,378.50 1508.64,378.50 1509.64,377.50 1524.00,377.50 1524.60,377.50 1524.60,499.98 1524.00,499.98 1509.33,499.98 1508.95,499.60 1494.28,499.60" fill="#393d40" shape-rendering="crispEdges"/>
<polyline points="1494.28,378.50 1508.64,378.50 1509.64,377.50 1524.00,377.50" fill="none" stroke="#2b2f32" stroke-width="2.15"/>
<polyline points="1494.28,499.60 1508.95,499.60 1509.33,499.98 1524.00,499.98" fill="none" stroke="#2b2f32" stroke-width="2.15"/>
<polygon points="1494.28,221.25 1507.01,221.25 1511.26,217.00 1524.00,217.00 1524.60,217.00 1524.60,377.50 1524.00,377.50 1509.64,377.50 1508.64,378.50 1494.28,378.50" fill="#393d40" shape-rendering="crispEdges"/>
<polyline points="1494.28,221.25 1507.01,221.25 1511.26,217.00 1524.00,217.00" fill="none" stroke="#2b2f32" stroke-width="2.15"/>
<polyline points="1494.28,378.50 1508.64,378.50 1509.64,377.50 1524.00,377.50" fill="none" stroke="#2b2f32" stroke-width="2.15"/>
<polygon points="483.80,697.00 513.52,554.80 543.24,609.00 557.95,609.00 558.25,608.70 572.96,608.70 602.68,608.70 616.89,608.70 618.19,610.00 632.40,610.00 662.12,568.30 691.84,503.50 705.80,503.50 707.60,505.30 721.56,505.30 751.28,583.00 764.34,583.00 767.94,579.40 781.00,579.40 810.72,519.70 823.23,519.70 827.93,515.00 840.44,515.00 853.45,515.00 857.15,511.30 870.16,511.30 883.52,511.30 886.52,508.30 899.88,508.30 913.24,508.30 916.24,505.30 929.60,505.30 942.81,505.30 946.11,502.00 959.32,502.00 972.78,502.00 975.58,499.20 989.04,499.20 1002.20,499.20 1005.60,495.80 1018.76,495.80 1048.48,410.80 1061.29,410.80 1065.39,406.70 1078.20,406.70 1091.21,406.70 1094.91,403.00 1107.92,403.00 1120.43,403.00 1125.13,398.30 1137.64,398.30 1150.00,398.30 1155.00,393.30 1167.36,393.30 1197.08,283.75 1208.57,283.75 1215.32,277.00 1226.80,277.00 1238.78,277.00 1244.53,271.25 1256.52,271.25 1268.01,271.25 1274.76,264.50 1286.24,264.50 1297.35,264.50 1304.85,257.00 1315.96,257.00 1327.32,257.00 1334.32,250.00 1345.68,250.00 1356.54,250.00 1364.54,242.00 1375.40,242.00 1386.76,242.00 1393.76,235.00 1405.12,235.00 1415.98,235.00 1423.98,227.00 1434.84,227.00 1464.56,58.50 1472.80,58.50 1486.05,45.25 1494.28,45.25 1502.01,45.25 1516.26,31.00 1524.00,31.00 1524.00,217.00 1511.26,217.00 1507.01,221.25 1494.28,221.25 1481.05,221.25 1477.80,224.50 1464.56,224.50 1434.84,382.00 1420.63,382.00 1419.33,383.30 1405.12,383.30 1390.91,383.30 1389.61,384.60 1375.40,384.60 1361.19,384.60 1359.89,385.90 1345.68,385.90 1331.42,385.90 1330.22,387.10 1315.96,387.10 1301.75,387.10 1300.45,388.40 1286.24,388.40 1272.03,388.40 1270.73,389.70 1256.52,389.70 1242.21,389.70 1241.11,390.80 1226.80,390.80 1212.79,390.80 1211.09,392.50 1197.08,392.50 1167.36,496.30 1152.65,496.30 1152.35,496.00 1137.64,496.00 1122.88,496.00 1122.68,495.80 1107.92,495.80 1093.21,495.80 1092.91,495.50 1078.20,495.50 1063.44,495.50 1063.24,495.30 1048.48,495.30 1018.76,576.80 1003.98,576.80 1003.82,576.97 989.04,576.97 974.26,576.97 974.10,577.13 959.32,577.13 944.54,577.13 944.38,577.30 929.60,577.30 914.83,577.30 914.65,577.47 899.88,577.47 885.11,577.47 884.93,577.65 870.16,577.65 855.39,577.65 855.21,577.83 840.44,577.83 825.67,577.83 825.49,578.00 810.72,578.00 781.00,636.00 766.64,636.00 765.64,637.00 751.28,637.00 721.56,572.00 706.85,572.00 706.55,571.70 691.84,571.70 662.12,635.00 661.01,635.00 633.51,662.50 632.40,662.50 617.79,662.50 617.29,662.00 602.68,662.00 572.96,662.00 558.25,662.00 557.95,662.30 543.24,662.30 513.52,610.70 483.80,697.00" fill="#c7de45" opacity="1" filter="url(#glow)"/>
<polygon points="483.80,697.00 513.52,554.80 543.24,609.00 557.95,609.00 558.25,608.70 572.96,608.70 602.68,608.70 616.89,608.70 618.19,610.00 632.40,610.00 662.12,568.30 691.84,503.50 705.80,503.50 707.60,505.30 721.56,505.30 751.28,583.00 764.34,583.00 767.94,579.40 781.00,579.40 810.72,519.70 823.23,519.70 827.93,515.00 840.44,515.00 853.45,515.00 857.15,511.30 870.16,511.30 883.52,511.30 886.52,508.30 899.88,508.30 913.24,508.30 916.24,505.30 929.60,505.30 942.81,505.30 946.11,502.00 959.32,502.00 972.78,502.00 975.58,499.20 989.04,499.20 1002.20,499.20 1005.60,495.80 1018.76,495.80 1048.48,410.80 1061.29,410.80 1065.39,406.70 1078.20,406.70 1091.21,406.70 1094.91,403.00 1107.92,403.00 1120.43,403.00 1125.13,398.30 1137.64,398.30 1150.00,398.30 1155.00,393.30 1167.36,393.30 1197.08,283.75 1208.57,283.75 1215.32,277.00 1226.80,277.00 1238.78,277.00 1244.53,271.25 1256.52,271.25 1268.01,271.25 1274.76,264.50 1286.24,264.50 1297.35,264.50 1304.85,257.00 1315.96,257.00 1327.32,257.00 1334.32,250.00 1345.68,250.00 1356.54,250.00 1364.54,242.00 1375.40,242.00 1386.76,242.00 1393.76,235.00 1405.12,235.00 1415.98,235.00 1423.98,227.00 1434.84,227.00 1464.56,58.50 1472.80,58.50 1486.05,45.25 1494.28,45.25 1502.01,45.25 1516.26,31.00 1524.00,31.00 1524.00,217.00 1511.26,217.00 1507.01,221.25 1494.28,221.25 1481.05,221.25 1477.80,224.50 1464.56,224.50 1434.84,382.00 1420.63,382.00 1419.33,383.30 1405.12,383.30 1390.91,383.30 1389.61,384.60 1375.40,384.60 1361.19,384.60 1359.89,385.90 1345.68,385.90 1331.42,385.90 1330.22,387.10 1315.96,387.10 1301.75,387.10 1300.45,388.40 1286.24,388.40 1272.03,388.40 1270.73,389.70 1256.52,389.70 1242.21,389.70 1241.11,390.80 1226.80,390.80 1212.79,390.80 1211.09,392.50 1197.08,392.50 1167.36,496.30 1152.65,496.30 1152.35,496.00 1137.64,496.00 1122.88,496.00 1122.68,495.80 1107.92,495.80 1093.21,495.80 1092.91,495.50 1078.20,495.50 1063.44,495.50 1063.24,495.30 1048.48,495.30 1018.76,576.80 1003.98,576.80 1003.82,576.97 989.04,576.97 974.26,576.97 974.10,577.13 959.32,577.13 944.54,577.13 944.38,577.30 929.60,577.30 914.83,577.30 914.65,577.47 899.88,577.47 885.11,577.47 884.93,577.65 870.16,577.65 855.39,577.65 855.21,577.83 840.44,577.83 825.67,577.83 825.49,578.00 810.72,578.00 781.00,636.00 766.64,636.00 765.64,637.00 751.28,637.00 721.56,572.00 706.85,572.00 706.55,571.70 691.84,571.70 662.12,635.00 661.01,635.00 633.51,662.50 632.40,662.50 617.79,662.50 617.29,662.00 602.68,662.00 572.96,662.00 558.25,662.00 557.95,662.30 543.24,662.30 513.52,610.70 483.80,697.00" fill="#c7de45"/>
<clipPath id="gc"><polygon points="483.80,697.00 513.52,554.80 543.24,609.00 557.95,609.00 558.25,608.70 572.96,608.70 602.68,608.70 616.89,608.70 618.19,610.00 632.40,610.00 662.12,568.30 691.84,503.50 705.80,503.50 707.60,505.30 721.56,505.30 751.28,583.00 764.34,583.00 767.94,579.40 781.00,579.40 810.72,519.70 823.23,519.70 827.93,515.00 840.44,515.00 853.45,515.00 857.15,511.30 870.16,511.30 883.52,511.30 886.52,508.30 899.88,508.30 913.24,508.30 916.24,505.30 929.60,505.30 942.81,505.30 946.11,502.00 959.32,502.00 972.78,502.00 975.58,499.20 989.04,499.20 1002.20,499.20 1005.60,495.80 1018.76,495.80 1048.48,410.80 1061.29,410.80 1065.39,406.70 1078.20,406.70 1091.21,406.70 1094.91,403.00 1107.92,403.00 1120.43,403.00 1125.13,398.30 1137.64,398.30 1150.00,398.30 1155.00,393.30 1167.36,393.30 1197.08,283.75 1208.57,283.75 1215.32,277.00 1226.80,277.00 1238.78,277.00 1244.53,271.25 1256.52,271.25 1268.01,271.25 1274.76,264.50 1286.24,264.50 1297.35,264.50 1304.85,257.00 1315.96,257.00 1327.32,257.00 1334.32,250.00 1345.68,250.00 1356.54,250.00 1364.54,242.00 1375.40,242.00 1386.76,242.00 1393.76,235.00 1405.12,235.00 1415.98,235.00 1423.98,227.00 1434.84,227.00 1464.56,58.50 1472.80,58.50 1486.05,45.25 1494.28,45.25 1502.01,45.25 1516.26,31.00 1524.00,31.00 1524.00,217.00 1511.26,217.00 1507.01,221.25 1494.28,221.25 1481.05,221.25 1477.80,224.50 1464.56,224.50 1434.84,382.00 1420.63,382.00 1419.33,383.30 1405.12,383.30 1390.91,383.30 1389.61,384.60 1375.40,384.60 1361.19,384.60 1359.89,385.90 1345.68,385.90 1331.42,385.90 1330.22,387.10 1315.96,387.10 1301.75,387.10 1300.45,388.40 1286.24,388.40 1272.03,388.40 1270.73,389.70 1256.52,389.70 1242.21,389.70 1241.11,390.80 1226.80,390.80 1212.79,390.80 1211.09,392.50 1197.08,392.50 1167.36,496.30 1152.65,496.30 1152.35,496.00 1137.64,496.00 1122.88,496.00 1122.68,495.80 1107.92,495.80 1093.21,495.80 1092.91,495.50 1078.20,495.50 1063.44,495.50 1063.24,495.30 1048.48,495.30 1018.76,576.80 1003.98,576.80 1003.82,576.97 989.04,576.97 974.26,576.97 974.10,577.13 959.32,577.13 944.54,577.13 944.38,577.30 929.60,577.30 914.83,577.30 914.65,577.47 899.88,577.47 885.11,577.47 884.93,577.65 870.16,577.65 855.39,577.65 855.21,577.83 840.44,577.83 825.67,577.83 825.49,578.00 810.72,578.00 781.00,636.00 766.64,636.00 765.64,637.00 751.28,637.00 721.56,572.00 706.85,572.00 706.55,571.70 691.84,571.70 662.12,635.00 661.01,635.00 633.51,662.50 632.40,662.50 617.79,662.50 617.29,662.00 602.68,662.00 572.96,662.00 558.25,662.00 557.95,662.30 543.24,662.30 513.52,610.70 483.80,697.00"/></clipPath>
<g clip-path="url(#gc)"><polygon points="483.80,697.00 513.52,569.89 543.24,623.39 557.95,623.39 558.25,623.09 572.96,623.09 602.68,623.09 616.89,623.09 617.29,623.38 617.79,623.88 618.19,624.17 632.40,624.17 633.51,623.04 661.01,587.45 662.12,586.31 691.84,521.91 705.80,521.91 706.55,522.46 706.85,522.76 707.60,523.31 721.56,523.31 751.28,597.58 764.34,597.58 765.64,596.63 766.64,595.63 767.94,594.68 781.00,594.68 810.72,535.44 823.23,535.44 825.49,533.79 825.67,533.61 827.93,531.96 840.44,531.96 853.45,531.96 855.21,530.68 855.39,530.50 857.15,529.21 870.16,529.21 883.52,529.21 884.93,528.18 885.11,528.01 886.52,526.98 899.88,526.98 913.24,526.98 914.65,525.95 914.83,525.77 916.24,524.74 929.60,524.74 942.81,524.74 944.38,523.60 944.54,523.43 946.11,522.29 959.32,522.29 972.78,522.29 974.10,521.32 974.26,521.16 975.58,520.20 989.04,520.20 1002.20,520.20 1003.82,519.02 1003.98,518.85 1005.60,517.67 1018.76,517.67 1048.48,433.62 1061.29,433.62 1063.24,432.19 1063.44,432.10 1065.39,430.68 1078.20,430.68 1091.21,430.68 1092.91,429.44 1093.21,429.30 1094.91,428.06 1107.92,428.06 1120.43,428.06 1122.68,426.41 1122.88,426.32 1125.13,424.68 1137.64,424.68 1150.00,424.68 1152.35,422.96 1152.65,422.83 1155.00,421.11 1167.36,421.11 1197.08,313.11 1208.57,313.11 1211.09,311.27 1212.79,309.57 1215.32,307.73 1226.80,307.73 1238.78,307.73 1241.11,306.03 1242.21,304.93 1244.53,303.23 1256.52,303.23 1268.01,303.23 1270.73,301.24 1272.03,299.94 1274.76,297.95 1286.24,297.95 1297.35,297.95 1300.45,295.69 1301.75,294.39 1304.85,292.13 1315.96,292.13 1327.32,292.13 1330.22,290.01 1331.42,288.81 1334.32,286.69 1345.68,286.69 1356.54,286.69 1359.89,284.25 1361.19,282.95 1364.54,280.50 1375.40,280.50 1386.76,280.50 1389.61,278.42 1390.91,277.12 1393.76,275.04 1405.12,275.04 1415.98,275.04 1419.33,272.60 1420.63,271.30 1423.98,268.85 1434.84,268.85 1464.56,103.32 1472.80,103.32 1477.80,99.67 1481.05,96.42 1486.05,92.77 1494.28,92.77 1502.01,92.77 1507.01,89.12 1511.26,84.87 1516.26,81.22 1524.00,81.22 1524.00,166.78 1516.26,166.78 1511.26,168.13 1507.01,172.38 1502.01,173.73 1494.28,173.73 1486.05,173.73 1481.05,175.08 1477.80,178.33 1472.80,179.68 1464.56,179.68 1434.84,340.15 1423.98,340.15 1420.63,341.05 1419.33,342.35 1415.98,343.26 1405.12,343.26 1393.76,343.26 1390.91,344.03 1389.61,345.33 1386.76,346.10 1375.40,346.10 1364.54,346.10 1361.19,347.00 1359.89,348.30 1356.54,349.21 1345.68,349.21 1334.32,349.21 1331.42,349.99 1330.22,351.19 1327.32,351.97 1315.96,351.97 1304.85,351.97 1301.75,352.81 1300.45,354.11 1297.35,354.95 1286.24,354.95 1274.76,354.95 1272.03,355.68 1270.73,356.98 1268.01,357.72 1256.52,357.72 1244.53,357.72 1242.21,358.35 1241.11,359.45 1238.78,360.07 1226.80,360.07 1215.32,360.07 1212.79,360.76 1211.09,362.46 1208.57,363.14 1197.08,363.14 1167.36,468.49 1155.00,468.49 1152.65,469.12 1152.35,468.99 1150.00,469.62 1137.64,469.62 1125.13,469.62 1122.88,470.23 1122.68,470.14 1120.43,470.74 1107.92,470.74 1094.91,470.74 1093.21,471.20 1092.91,471.07 1091.21,471.52 1078.20,471.52 1065.39,471.52 1063.44,472.05 1063.24,471.96 1061.29,472.49 1048.48,472.49 1018.76,554.93 1005.60,554.93 1003.98,555.37 1003.82,555.53 1002.20,555.97 989.04,555.97 975.58,555.97 974.26,556.33 974.10,556.49 972.78,556.85 959.32,556.85 946.11,556.85 944.54,557.27 944.38,557.44 942.81,557.86 929.60,557.86 916.24,557.86 914.83,558.24 914.65,558.42 913.24,558.80 899.88,558.80 886.52,558.80 885.11,559.18 884.93,559.35 883.52,559.74 870.16,559.74 857.15,559.74 855.39,560.21 855.21,560.39 853.45,560.86 840.44,560.86 827.93,560.86 825.67,561.47 825.49,561.65 823.23,562.26 810.72,562.26 781.00,620.72 767.94,620.72 766.64,621.07 765.64,622.07 764.34,622.42 751.28,622.42 721.56,553.99 707.60,553.99 706.85,553.79 706.55,553.49 705.80,553.29 691.84,553.29 662.12,616.99 661.01,617.41 633.51,647.90 632.40,648.33 618.19,648.33 617.79,648.22 617.29,647.72 616.89,647.61 602.68,647.61 572.96,647.61 558.25,647.61 557.95,647.91 543.24,647.91 513.52,595.61 483.80,697.00" fill="#d9e884" opacity="0.42" filter="url(#soft)"/><polyline points="483.80,697.00 513.52,582.75 543.24,635.65 557.95,635.65 558.25,635.35 572.96,635.35 602.68,635.35 616.89,635.35 617.29,635.55 617.79,636.05 618.19,636.25 632.40,636.25 633.51,635.47 661.01,602.43 662.12,601.65 691.84,537.60 705.80,537.60 706.55,537.98 706.85,538.27 707.60,538.65 721.56,538.65 751.28,610.00 764.34,610.00 765.64,609.35 766.64,608.35 767.94,607.70 781.00,607.70 810.72,548.85 823.23,548.85 825.49,547.72 825.67,547.54 827.93,546.41 840.44,546.41 853.45,546.41 855.21,545.53 855.39,545.36 857.15,544.48 870.16,544.48 883.52,544.48 884.93,543.77 885.11,543.59 886.52,542.89 899.88,542.89 913.24,542.89 914.65,542.18 914.83,542.01 916.24,541.30 929.60,541.30 942.81,541.30 944.38,540.52 944.54,540.35 946.11,539.57 959.32,539.57 972.78,539.57 974.10,538.91 974.26,538.74 975.58,538.08 989.04,538.08 1002.20,538.08 1003.82,537.27 1003.98,537.11 1005.60,536.30 1018.76,536.30 1048.48,453.05 1061.29,453.05 1063.24,452.07 1063.44,452.08 1065.39,451.10 1078.20,451.10 1091.21,451.10 1092.91,450.25 1093.21,450.25 1094.91,449.40 1107.92,449.40 1120.43,449.40 1122.68,448.27 1122.88,448.28 1125.13,447.15 1137.64,447.15 1150.00,447.15 1152.35,445.98 1152.65,445.97 1155.00,444.80 1167.36,444.80 1197.08,338.12 1208.57,338.12 1211.09,336.86 1212.79,335.16 1215.32,333.90 1226.80,333.90 1238.78,333.90 1241.11,332.74 1242.21,331.64 1244.53,330.48 1256.52,330.48 1268.01,330.48 1270.73,329.11 1272.03,327.81 1274.76,326.45 1286.24,326.45 1297.35,326.45 1300.45,324.90 1301.75,323.60 1304.85,322.05 1315.96,322.05 1327.32,322.05 1330.22,320.60 1331.42,319.40 1334.32,317.95 1345.68,317.95 1356.54,317.95 1359.89,316.28 1361.19,314.97 1364.54,313.30 1375.40,313.30 1386.76,313.30 1389.61,311.88 1390.91,310.57 1393.76,309.15 1405.12,309.15 1415.98,309.15 1419.33,307.48 1420.63,306.17 1423.98,304.50 1434.84,304.50 1464.56,141.50 1472.80,141.50 1477.80,139.00 1481.05,135.75 1486.05,133.25 1494.28,133.25 1502.01,133.25 1507.01,130.75 1511.26,126.50 1516.26,124.00 1524.00,124.00" fill="none" stroke="#d9e884" stroke-width="32" stroke-linejoin="round" opacity="0.5" filter="url(#soft)"/></g>
</g>
<rect x="780.90" y="86" width="1.2" height="611" fill="#ffffff"/>
<rect x="14" y="696.7" width="1536" height="1.1" fill="#d4d4d4"/>
<rect x="38.00" y="697" width="1" height="12.5" fill="#d4d4d4"/>
<text x="39.00" y="733.8" text-anchor="middle" font-family="Liberation Sans, Arial, sans-serif" font-size="21.2" fill="#dcdcdc" textLength="50.5" lengthAdjust="spacingAndGlyphs">2000</text>
<rect x="186.60" y="697" width="1" height="12.5" fill="#d4d4d4"/>
<text x="187.60" y="733.8" text-anchor="middle" font-family="Liberation Sans, Arial, sans-serif" font-size="21.2" fill="#dcdcdc" textLength="50.5" lengthAdjust="spacingAndGlyphs">2005</text>
<rect x="335.20" y="697" width="1" height="12.5" fill="#d4d4d4"/>
<text x="336.20" y="733.8" text-anchor="middle" font-family="Liberation Sans, Arial, sans-serif" font-size="21.2" fill="#dcdcdc" textLength="50.5" lengthAdjust="spacingAndGlyphs">2010</text>
<rect x="483.80" y="697" width="1" height="12.5" fill="#d4d4d4"/>
<text x="484.80" y="733.8" text-anchor="middle" font-family="Liberation Sans, Arial, sans-serif" font-size="21.2" fill="#dcdcdc" textLength="50.5" lengthAdjust="spacingAndGlyphs">2015</text>
<rect x="632.40" y="697" width="1" height="12.5" fill="#d4d4d4"/>
<text x="633.40" y="733.8" text-anchor="middle" font-family="Liberation Sans, Arial, sans-serif" font-size="21.2" fill="#dcdcdc" textLength="50.5" lengthAdjust="spacingAndGlyphs">2020</text>
<rect x="781.00" y="697" width="1" height="12.5" fill="#d4d4d4"/>
<text x="782.00" y="733.8" text-anchor="middle" font-family="Liberation Sans, Arial, sans-serif" font-size="21.2" fill="#dcdcdc" textLength="50.5" lengthAdjust="spacingAndGlyphs">2025</text>
<rect x="929.60" y="697" width="1" height="12.5" fill="#d4d4d4"/>
<text x="930.60" y="733.8" text-anchor="middle" font-family="Liberation Sans, Arial, sans-serif" font-size="21.2" fill="#dcdcdc" textLength="50.5" lengthAdjust="spacingAndGlyphs">2030</text>
<rect x="1078.20" y="697" width="1" height="12.5" fill="#d4d4d4"/>
<text x="1079.20" y="733.8" text-anchor="middle" font-family="Liberation Sans, Arial, sans-serif" font-size="21.2" fill="#dcdcdc" textLength="50.5" lengthAdjust="spacingAndGlyphs">2035</text>
<rect x="1226.80" y="697" width="1" height="12.5" fill="#d4d4d4"/>
<text x="1227.80" y="733.8" text-anchor="middle" font-family="Liberation Sans, Arial, sans-serif" font-size="21.2" fill="#dcdcdc" textLength="50.5" lengthAdjust="spacingAndGlyphs">2040</text>
<rect x="1375.40" y="697" width="1" height="12.5" fill="#d4d4d4"/>
<text x="1376.40" y="733.8" text-anchor="middle" font-family="Liberation Sans, Arial, sans-serif" font-size="21.2" fill="#dcdcdc" textLength="50.5" lengthAdjust="spacingAndGlyphs">2045</text>
<rect x="1524.00" y="697" width="1" height="12.5" fill="#d4d4d4"/>
<text x="1525.00" y="733.8" text-anchor="middle" font-family="Liberation Sans, Arial, sans-serif" font-size="21.2" fill="#dcdcdc" textLength="50.5" lengthAdjust="spacingAndGlyphs">2050</text>
<rect x="14" y="541.90" width="13" height="1" fill="#c8c8c8"/>
<text x="14" y="535.00" font-family="Liberation Sans, Arial, sans-serif" font-size="21.2" fill="#dcdcdc" textLength="12.5" lengthAdjust="spacingAndGlyphs">1</text>
<rect x="14" y="387.40" width="13" height="1" fill="#c8c8c8"/>
<text x="14" y="380.50" font-family="Liberation Sans, Arial, sans-serif" font-size="21.2" fill="#dcdcdc" textLength="12.5" lengthAdjust="spacingAndGlyphs">2</text>
<rect x="14" y="232.90" width="13" height="1" fill="#c8c8c8"/>
<text x="14" y="226.00" font-family="Liberation Sans, Arial, sans-serif" font-size="21.2" fill="#dcdcdc" textLength="12.5" lengthAdjust="spacingAndGlyphs">3</text>
<rect x="14" y="78.40" width="13" height="1" fill="#c8c8c8"/>
<text x="14" y="38" font-family="Liberation Sans, Arial, sans-serif" font-size="21.5" font-weight="700" fill="#ffffff" textLength="285" lengthAdjust="spacingAndGlyphs">Commercial electricity by use</text>
<text x="14" y="71" font-family="Liberation Sans, Arial, sans-serif" font-size="21.5" fill="#d6d6d6" textLength="214" lengthAdjust="spacingAndGlyphs">4 quadrillion BTU/kWh</text>
<text x="782" y="73" text-anchor="middle" font-family="Liberation Sans, Arial, sans-serif" font-size="20.3" fill="#ffffff" stroke="#ffffff" stroke-width="0.45" textLength="46" lengthAdjust="spacingAndGlyphs">2025</text>
<text x="675.5" y="104.7" font-family="Liberation Sans, Arial, sans-serif" font-size="16.8" fill="#b4b4b4" stroke="#b4b4b4" stroke-width="0.45" textLength="96.5" lengthAdjust="spacingAndGlyphs">HISTORICAL</text>
<polygon points="657.7,98.6 668.4,92.8 668.4,104.4" fill="#b4b4b4"/>
<text x="792.4" y="104.7" font-family="Liberation Sans, Arial, sans-serif" font-size="16.8" fill="#b4b4b4" stroke="#b4b4b4" stroke-width="0.45" textLength="94" lengthAdjust="spacingAndGlyphs">PROJECTED</text>
<polygon points="904.3,98.6 894.3,92.8 894.3,104.4" fill="#b4b4b4"/>
<text x="229.3" y="375.8" font-family="Liberation Sans, Arial, sans-serif" font-size="21.8" font-weight="700" fill="#9c9e9f" textLength="77.7" lengthAdjust="spacingAndGlyphs">Lighting</text>
<text x="1043.6" y="244.8" font-family="Liberation Sans, Arial, sans-serif" font-size="21.8" font-weight="700" fill="#9c9e9f" textLength="103.2" lengthAdjust="spacingAndGlyphs">Ventilation</text>
<text x="1095.2" y="359.8" font-family="Liberation Sans, Arial, sans-serif" font-size="21.8" font-weight="700" fill="#9c9e9f" textLength="72.5" lengthAdjust="spacingAndGlyphs">Cooling</text>
<text x="1268.3" y="334.8" font-family="Liberation Sans, Arial, sans-serif" font-size="21.8" font-weight="700" fill="#23272a" textLength="106.5" lengthAdjust="spacingAndGlyphs">Computing</text>
<text x="1060.3" y="613.6" font-family="Liberation Sans, Arial, sans-serif" font-size="21.8" font-weight="700" fill="#9c9e9f" textLength="126.4" lengthAdjust="spacingAndGlyphs">Refrigeration</text>
</svg>
</body></html>
